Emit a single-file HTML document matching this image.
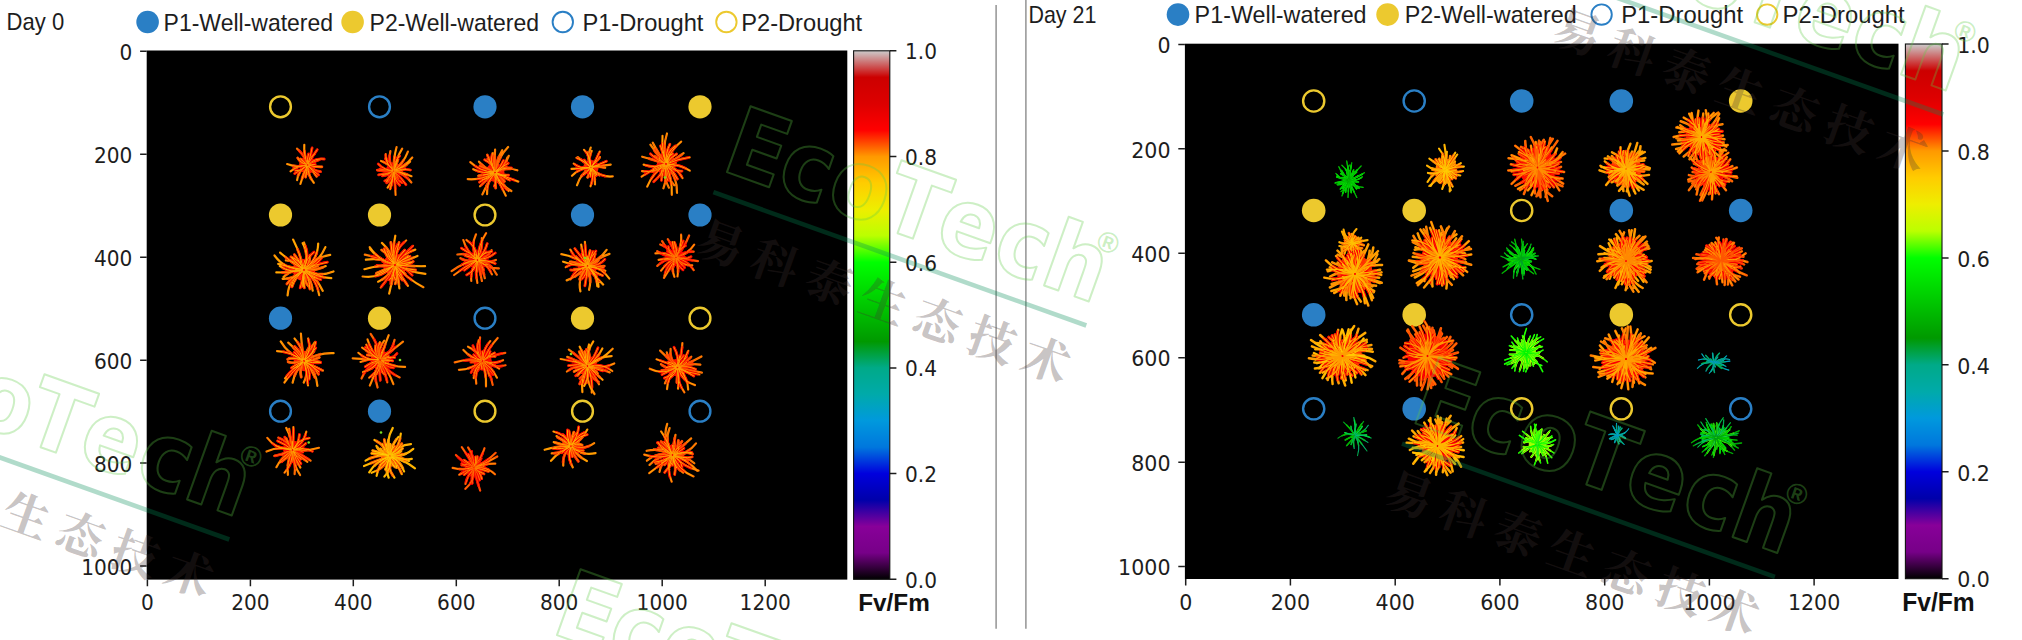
<!DOCTYPE html>
<html lang="en"><head><meta charset="utf-8"><title>Fv/Fm Day 0 vs Day 21</title>
<style>
html,body{margin:0;padding:0;background:#fff}
svg{display:block}
.tk{font-family:"DejaVu Sans","Liberation Sans",sans-serif;fill:#1d1d1d}
.lg{font-family:"Liberation Sans","DejaVu Sans",sans-serif;fill:#1d1d1d}
.fv{font-family:"Liberation Sans","DejaVu Sans",sans-serif;font-weight:bold;fill:#111}
.wm{font-family:"DejaVu Sans Condensed","DejaVu Sans","Liberation Sans",sans-serif;font-weight:bold;fill:none;stroke:#5ccc44;stroke-width:2;stroke-opacity:.31;stroke-linejoin:round}
.rg{font-family:"Liberation Sans","DejaVu Sans",sans-serif;font-weight:bold;fill:#5ccc44;fill-opacity:.33}
.zh{font-family:"Liberation Serif","Noto Serif CJK SC",serif;font-weight:700;fill:#423232;fill-opacity:.3}
.pl path{fill:none;stroke-linecap:round}
</style></head>
<body>
<svg width="2022" height="640" viewBox="0 0 2022 640">
<defs>
<linearGradient id="cb" x1="0" y1="1" x2="0" y2="0">
<stop offset="0%" stop-color="#000000"/><stop offset="5%" stop-color="#770088"/><stop offset="10%" stop-color="#880099"/><stop offset="15%" stop-color="#0000aa"/><stop offset="20%" stop-color="#0000dd"/><stop offset="25%" stop-color="#0077dd"/><stop offset="30%" stop-color="#0099dd"/><stop offset="35%" stop-color="#00aaaa"/><stop offset="40%" stop-color="#00aa88"/><stop offset="45%" stop-color="#009900"/><stop offset="50%" stop-color="#00bb00"/><stop offset="55%" stop-color="#00dd00"/><stop offset="60%" stop-color="#00ff00"/><stop offset="65%" stop-color="#bbff00"/><stop offset="70%" stop-color="#eeee00"/><stop offset="75%" stop-color="#ffcc00"/><stop offset="80%" stop-color="#ff9900"/><stop offset="85%" stop-color="#ff0000"/><stop offset="90%" stop-color="#dd0000"/><stop offset="95%" stop-color="#cc0000"/><stop offset="100%" stop-color="#cccccc"/>
</linearGradient>
<filter id="soft" x="-5%" y="-5%" width="110%" height="110%"><feGaussianBlur stdDeviation="0.6"/></filter>
</defs>
<rect width="2022" height="640" fill="#fff"/>
<path d="M996.1 5V628.7M1025.9 0V628.7" stroke="#8c8c8c" stroke-width="1.4" fill="none"/>
<g>
<rect x="146.7" y="50.5" width="700.6" height="529.1" fill="#000"/>
<path d="M147.4 579.6v6.6M250.4 579.6v6.6M353.3 579.6v6.6M456.3 579.6v6.6M559.2 579.6v6.6M662.2 579.6v6.6M765.2 579.6v6.6M146.7 51.3h-6.6M146.7 154.3h-6.6M146.7 257.2h-6.6M146.7 360.2h-6.6M146.7 463.1h-6.6M146.7 566.1h-6.6M889.8 50.8h6.6M889.8 156.5h6.6M889.8 262.2h6.6M889.8 367.9h6.6M889.8 473.6h6.6M889.8 579.3h6.6" stroke="#1d1d1d" stroke-width="1.5" fill="none"/>
<text class="tk" transform="translate(147.4 610) scale(0.94 1)" font-size="21.4" text-anchor="middle">0</text><text class="tk" transform="translate(250.4 610) scale(0.94 1)" font-size="21.4" text-anchor="middle">200</text><text class="tk" transform="translate(353.3 610) scale(0.94 1)" font-size="21.4" text-anchor="middle">400</text><text class="tk" transform="translate(456.3 610) scale(0.94 1)" font-size="21.4" text-anchor="middle">600</text><text class="tk" transform="translate(559.2 610) scale(0.94 1)" font-size="21.4" text-anchor="middle">800</text><text class="tk" transform="translate(662.2 610) scale(0.94 1)" font-size="21.4" text-anchor="middle">1000</text><text class="tk" transform="translate(765.2 610) scale(0.94 1)" font-size="21.4" text-anchor="middle">1200</text>
<text class="tk" transform="translate(132.3 59.8) scale(0.94 1)" font-size="21.4" text-anchor="end">0</text><text class="tk" transform="translate(132.3 162.8) scale(0.94 1)" font-size="21.4" text-anchor="end">200</text><text class="tk" transform="translate(132.3 265.7) scale(0.94 1)" font-size="21.4" text-anchor="end">400</text><text class="tk" transform="translate(132.3 368.7) scale(0.94 1)" font-size="21.4" text-anchor="end">600</text><text class="tk" transform="translate(132.3 471.7) scale(0.94 1)" font-size="21.4" text-anchor="end">800</text><text class="tk" transform="translate(132.3 574.6) scale(0.94 1)" font-size="21.4" text-anchor="end">1000</text>
<text class="tk" transform="translate(905 59.3) scale(0.94 1)" font-size="21.4">1.0</text><text class="tk" transform="translate(905 165) scale(0.94 1)" font-size="21.4">0.8</text><text class="tk" transform="translate(905 270.7) scale(0.94 1)" font-size="21.4">0.6</text><text class="tk" transform="translate(905 376.4) scale(0.94 1)" font-size="21.4">0.4</text><text class="tk" transform="translate(905 482.1) scale(0.94 1)" font-size="21.4">0.2</text><text class="tk" transform="translate(905 587.8) scale(0.94 1)" font-size="21.4">0.0</text>
<rect x="853.6" y="50.8" width="36.2" height="528.5" fill="url(#cb)" stroke="#111" stroke-width="1.1"/>
<g filter="url(#soft)"><circle cx="280.5" cy="106.8" r="10.4" fill="none" stroke="#ecc92f" stroke-width="2.4"/><circle cx="379.5" cy="106.8" r="10.4" fill="none" stroke="#2a7fc5" stroke-width="2.4"/><circle cx="485" cy="106.8" r="11.6" fill="#2a7fc5"/><circle cx="582.5" cy="106.8" r="11.6" fill="#2a7fc5"/><circle cx="700" cy="106.8" r="11.6" fill="#ecc92f"/><circle cx="280.5" cy="215" r="11.6" fill="#ecc92f"/><circle cx="379.5" cy="215" r="11.6" fill="#ecc92f"/><circle cx="485" cy="215" r="10.4" fill="none" stroke="#ecc92f" stroke-width="2.4"/><circle cx="582.5" cy="215" r="11.6" fill="#2a7fc5"/><circle cx="700" cy="215" r="11.6" fill="#2a7fc5"/><circle cx="280.5" cy="318.2" r="11.6" fill="#2a7fc5"/><circle cx="379.5" cy="318.2" r="11.6" fill="#ecc92f"/><circle cx="485" cy="318.2" r="10.4" fill="none" stroke="#2a7fc5" stroke-width="2.4"/><circle cx="582.5" cy="318.2" r="11.6" fill="#ecc92f"/><circle cx="700" cy="318.2" r="10.4" fill="none" stroke="#ecc92f" stroke-width="2.4"/><circle cx="280.5" cy="411.2" r="10.4" fill="none" stroke="#2a7fc5" stroke-width="2.4"/><circle cx="379.5" cy="411.2" r="11.6" fill="#2a7fc5"/><circle cx="485" cy="411.2" r="10.4" fill="none" stroke="#ecc92f" stroke-width="2.4"/><circle cx="582.5" cy="411.2" r="10.4" fill="none" stroke="#ecc92f" stroke-width="2.4"/><circle cx="700" cy="411.2" r="10.4" fill="none" stroke="#2a7fc5" stroke-width="2.4"/></g>
<g class="pl" filter="url(#soft)">
<ellipse cx="307.5" cy="165" rx="8.4" ry="8.8" fill="#ff1800" transform="rotate(0 307.5 165)"/><path id="p1a" d="M308.8 165.2Q314.6 167.2 321.9 166.9M308.3 166Q312.6 170.2 316.6 176.3M308 166.3Q307.5 175 313.8 182.8M307 166.3Q303.1 174.2 300.4 184M306.7 166.1Q298.3 169.9 297.1 180.2M306.3 165.5Q297.9 165.2 290.5 171.4M306.2 164.9Q297.2 168.1 287.1 164.1M306.4 164.2Q300.9 163.8 297.7 157.9M307.3 163.7Q303.7 155.3 304.3 144.8M307.3 166.4Q306.9 171.1 305.6 177.1M306.5 164.1Q304 162.1 300.7 159"/><path id="p1b" d="M306.8 163.9Q304.8 155.3 297 148.7M308.7 164.5Q313.2 161.8 319.4 159.7M308.7 165.6Q312.8 170.6 320.5 171.7M308.2 163.9Q308.5 157.8 314.7 153.8"/><path id="p1c" d="M308.5 165.9Q312.5 170.5 318.5 174.9M306.4 165.7Q301.5 169.8 294.7 173.5M307.9 163.7Q310.5 156.6 312.1 147.9M308.2 163.9Q311.9 157.1 317.2 149.7M308.7 164.6Q314.3 157.7 324.2 159M306.3 165.6Q302.9 170.8 295.5 170.7M306.2 165.2Q300.7 166.4 293.8 167.1M307.6 163.6Q306.7 159.4 308.5 154M308.8 164.9Q311.3 164.4 315.2 164.4"/><use href="#p1a" style="stroke:#ff7e00;stroke-width:2.2"/><use href="#p1b" style="stroke:#ff7100;stroke-width:2.2"/><use href="#p1c" style="stroke:#ff6300;stroke-width:2.2"/><use href="#p1a" style="stroke:#ff3b00;stroke-width:2.8;stroke-dasharray:13.4 99"/><use href="#p1b" style="stroke:#ff1300;stroke-width:2.8;stroke-dasharray:15.5 99"/><use href="#p1c" style="stroke:#fa0000;stroke-width:2.8;stroke-dasharray:17.7 99"/><use href="#p1a" style="stroke:#ffa600;stroke-width:1;stroke-dasharray:21.4 99"/><use href="#p1b" style="stroke:#ff6800;stroke-width:1;stroke-dasharray:23.6 99"/><use href="#p1c" style="stroke:#ff9500;stroke-width:1;stroke-dasharray:25.7 99"/>
<ellipse cx="393.7" cy="171" rx="7.8" ry="8.8" fill="#ff1200" transform="rotate(0 393.7 171)"/><path id="p2a" d="M394.9 171.3Q402.9 172.5 411.5 176.2M394.9 171.4Q400.5 171.3 406.1 175.3M393.4 172.3Q393 180.3 390.2 189.2M393.2 172.3Q393.5 180.4 387.6 187.7M393 172.1Q389.5 176 386.6 181.7M392.7 170.2Q389.2 163.7 381 161M393.9 169.6Q393.3 158.8 396.6 147M394.2 169.7Q395.8 159.1 402.2 148.7M394.5 169.9Q403.5 163.3 407.9 151.6M394.7 170.3Q404.8 166.7 412.3 157.5M394.8 170.4Q403.1 168.4 410.1 161.7M392.8 170Q392.9 167.4 389.4 166.2M394.2 169.7Q396.2 165.3 398 159.3M394.9 170.8Q399.9 172.1 405.4 168.9"/><path id="p2b" d="M394.8 171.7Q404.5 173.6 411.4 182.5M392.8 172Q391.4 177.9 384.8 180.9M392.6 171.5Q388.8 175.2 382.4 175.8M392.5 171.3Q386.5 174.2 378.7 174.8M392.5 170.8Q386.7 170.1 379.8 169.1M393 169.9Q392.6 162.8 385.4 158.8M393.5 169.7Q387.6 161.8 390.4 151.1M394.5 172.1Q394.7 179 401.9 182.6M394.4 172.1Q396.6 174.2 398.2 178.3M393 172.1Q392.7 178.4 386.7 182.8M392.5 170.9Q385.3 171.5 377.1 170.1M394.9 170.9Q398 171.7 401.9 170"/><path id="p2c" d="M394.6 172Q400.8 177 406 184.7M394.2 172.2Q393.9 179.3 399.7 185.3M393.8 172.4Q395.2 182.9 395.6 195M392.6 170.5Q384.5 170.5 378.2 163.9M393.1 169.8Q385.3 164.6 385.7 154M394.9 170.9Q401.9 167.7 410.4 170M393.5 172.3Q392.3 179.4 390.6 187.8M392.5 171.3Q388.2 174.8 381.6 174.3M393 169.8Q387.2 165.8 386 157.5M394.2 169.7Q393.4 162.2 399.6 156"/><use href="#p2a" style="stroke:#ff7c00;stroke-width:2.2"/><use href="#p2b" style="stroke:#ff6e00;stroke-width:2.2"/><use href="#p2c" style="stroke:#ff6000;stroke-width:2.2"/><use href="#p2a" style="stroke:#ff3700;stroke-width:2.8;stroke-dasharray:13 99"/><use href="#p2b" style="stroke:#ff0e00;stroke-width:2.8;stroke-dasharray:15 99"/><use href="#p2c" style="stroke:#f90000;stroke-width:2.8;stroke-dasharray:17.1 99"/><use href="#p2a" style="stroke:#ffa600;stroke-width:1;stroke-dasharray:20.7 99"/><use href="#p2b" style="stroke:#ff6500;stroke-width:1;stroke-dasharray:22.8 99"/><use href="#p2c" style="stroke:#ff9300;stroke-width:1;stroke-dasharray:24.9 99"/>
<ellipse cx="495" cy="172.5" rx="9.5" ry="9.5" fill="#ff1a00" transform="rotate(0 495 172.5)"/><path id="p3a" d="M496 173.6Q500.4 184.2 511.4 191M495.1 174Q494.9 180.3 495.7 188M494.3 173.8Q487.4 182.7 482.4 194.4M493.5 172.8Q486.8 174.7 478.3 175.8M493.8 171.7Q485.5 169.3 479 161.7M494.3 171.2Q492.7 165 487.9 158.7M495 171Q494.3 161.1 495.1 149.7M495.5 171.1Q496.1 160.5 502.2 150.2M495.7 171.2Q497.7 157.8 508.1 147M495.9 171.4Q504.6 167.8 507.5 157.4M496.5 172.4Q505.7 166.4 517.3 170.3M496.1 173.5Q500.8 175.8 504.4 181.4M495.6 173.8Q495.4 179.4 500.5 184.2M494.2 173.7Q492.6 175.9 490.3 179.5M493.5 172.5Q490.2 173.7 485.4 172.2M493.6 171.9Q487.5 169.1 480 166M495 171Q492.6 162.7 494.4 152.8M495.9 171.4Q505 166.7 508.7 155.8M496.3 171.8Q499.6 167.6 506.3 166.8"/><path id="p3b" d="M496.5 172.8Q501.4 175.6 508.5 175.1M496.3 173.2Q502.3 176.4 509.7 180.1M495.6 173.8Q500 184.3 505.8 195.7M494.9 174Q497.7 179.5 494.4 186.2M494.5 173.9Q486.1 181.6 487.1 194.2M493.9 173.5Q487.2 179.1 480 186.3M493.7 173.3Q487.1 177.1 479.5 182.2M493.6 172.9Q482.4 180.3 467.7 179.2M493.5 172.3Q483.6 174.3 473.2 169.2M494.1 171.3Q493 163.6 484.7 159.8M494.4 171.1Q491.2 163.5 487.2 154.7M494.8 171Q489.4 163.4 492.5 153.2M495.2 174Q493.6 176.4 496.1 179.8M493.7 173.2Q490 178.4 482.4 179.8M494.6 171.1Q493.1 167.7 491.9 162.7"/><path id="p3c" d="M496.4 173Q506.6 177.3 518.3 181.6M495.9 173.7Q499.5 183.4 508.6 191M493.6 171.9Q480.7 172 470.3 162.1M496.2 171.6Q501.2 167.3 508.2 163.2M496.4 172.1Q502.4 167.1 511.5 168M493.6 172.8Q489.2 174.1 483.2 175.1M495.9 171.3Q500.6 167.5 503.4 160.6M496.4 172.9Q499.9 176.8 506.2 175.4"/><use href="#p3a" style="stroke:#ff8800;stroke-width:2.2"/><use href="#p3b" style="stroke:#ff7900;stroke-width:2.2"/><use href="#p3c" style="stroke:#ff6b00;stroke-width:2.2"/><use href="#p3a" style="stroke:#ff4000;stroke-width:2.8;stroke-dasharray:14.8 99"/><use href="#p3b" style="stroke:#ff1500;stroke-width:2.8;stroke-dasharray:17.2 99"/><use href="#p3c" style="stroke:#fa0000;stroke-width:2.8;stroke-dasharray:19.6 99"/><use href="#p3a" style="stroke:#ff7000;stroke-width:1;stroke-dasharray:23.7 99"/><use href="#p3b" style="stroke:#ff9b00;stroke-width:1;stroke-dasharray:26.1 99"/><use href="#p3c" style="stroke:#ffab00;stroke-width:1;stroke-dasharray:28.5 99"/>
<ellipse cx="591" cy="167.5" rx="7.7" ry="7.5" fill="#ff2400" transform="rotate(0 591 167.5)"/><path id="p4a" d="M592.2 167.5Q598.1 165.8 605.2 167.7M591.9 168.3Q593.7 173.1 599.7 175.1M591.3 168.6Q595.3 175.4 595 184.4M590.6 168.6Q590.3 172.8 587.6 177.4M590.3 168.4Q580.5 173.7 577 185.3M590.1 166.8Q584.4 162.3 577.8 157.2M591 166.3Q586.3 157.6 590.7 147.6M591.8 166.6Q595.3 162.1 600 157.1M592.2 167.3Q600.8 165.8 610.7 164.6M589.8 167.7Q585.5 165.6 580.7 169M592.2 167.2Q594.9 165.1 599.5 165.4"/><path id="p4b" d="M591.6 168.5Q594 171.4 595.8 175.8M589.9 168Q579.7 167.7 572 175.8M589.8 167.6Q581.3 168.3 571.5 168.9M591.1 166.3Q587.7 159 591.7 150.9M590.2 166.6Q587.6 163.8 584.2 160.1M590.7 166.4Q589.4 159.7 587 152.2M592.2 167.3Q594.8 165.7 599.1 166.1"/><path id="p4c" d="M592.1 168Q599.6 177.6 612.8 176.4M591 168.7Q594.4 177 590.5 186.3M589.8 167.2Q581.4 169.9 573.7 163.6M590 166.8Q584.9 160.8 576.4 157.8M590.6 166.4Q591.3 157.1 584 149.8M591.6 166.5Q596.4 160.1 599.7 151.6M592.1 167.1Q598.8 164.7 606.4 161.3M591.7 168.4Q595 170.5 596.8 175.1M590.9 168.7Q590.8 172 590.3 176.5M590.7 168.6Q591.2 171.2 589.1 174.2M590.1 168.3Q587.9 171.9 583.3 174.7M591.8 166.6Q593.8 163.9 597 160.6"/><use href="#p4a" style="stroke:#ff9500;stroke-width:2.2"/><use href="#p4b" style="stroke:#ff8600;stroke-width:2.2"/><use href="#p4c" style="stroke:#ff7700;stroke-width:2.2"/><use href="#p4a" style="stroke:#ff4b00;stroke-width:2.8;stroke-dasharray:11.8 99"/><use href="#p4b" style="stroke:#ff1f00;stroke-width:2.8;stroke-dasharray:13.7 99"/><use href="#p4c" style="stroke:#fc0000;stroke-width:2.8;stroke-dasharray:15.6 99"/><use href="#p4a" style="stroke:#ff7c00;stroke-width:1;stroke-dasharray:18.9 99"/><use href="#p4b" style="stroke:#ffa000;stroke-width:1;stroke-dasharray:20.8 99"/><use href="#p4c" style="stroke:#ffb000;stroke-width:1;stroke-dasharray:22.7 99"/>
<ellipse cx="666" cy="164" rx="9.1" ry="12" fill="#ff1a00" transform="rotate(0 666 164)"/><path id="p5a" d="M666.6 165.7Q677.5 176.2 677 192.9M666.2 165.9Q662.6 176.4 668.9 187.7M665.8 165.9Q667.7 176.5 663.4 188.3M664.6 163.6Q654.3 159.7 642.2 156.7M665 162.7Q657.2 155.1 650.4 144.7M665.1 162.5Q658.2 154.1 652.8 142.7M666.1 162.1Q662.2 148.6 667 133.5M667.3 163.2Q675.6 159.8 683.6 153.2M666.6 165.7Q665.7 176.4 674.3 185.3M664.7 164.7Q660.8 170.7 652.4 171.5M664.7 163.1Q660.4 159.8 654.4 156.2M666.6 162.3Q670.1 159.8 669.3 154M667.4 163.8Q671 165.2 675.5 162.9"/><path id="p5b" d="M667.4 164.4Q678.9 163.8 689.8 170.6M667.2 165Q677 167.7 682.5 178M667 165.3Q673.1 170.4 677.4 179M666.3 165.8Q672.4 178.8 671.8 194.9M664.9 165.3Q653 172.4 647.2 186.7M664.6 164Q654.9 168.8 643.6 164.6M665.5 162.2Q663.3 154.9 660.6 145.9M665.8 162.1Q661.7 150.2 662.5 135.8M666.4 162.2Q665.1 153.6 669.9 144.2M666.8 162.4Q665.9 152.6 675.2 146M666.9 162.6Q670 150.4 681.2 141.6M667.2 162.9Q670.1 157.7 676.6 154M666.9 162.6Q666.6 157 672.7 153.7"/><path id="p5c" d="M667.4 164.6Q672.3 171.5 682 171.1M665.5 165.8Q662.2 171.8 661.4 180.4M665 165.4Q662.1 174.5 653.7 181.7M664.7 164.7Q652.9 168.6 641.6 176.7M664.6 164.4Q655.8 173.5 642 171.1M664.7 163.2Q657 160.6 650.4 153.8M667.4 163.6Q677.4 159.1 689.7 157.3M666.2 165.9Q664.1 172.5 667.8 180.5M665.3 165.6Q660.6 168.7 660.9 175.9M664.6 164.5Q658.8 163.9 653.1 168.4M664.9 162.9Q660.7 162.3 658.9 157M665.6 162.2Q665.6 158.5 663.5 153.3M667.4 164.3Q670.1 167.2 675.2 165.8M667.1 165.2Q667.5 168.4 671.7 170.5"/><use href="#p5a" style="stroke:#ff8800;stroke-width:2.2"/><use href="#p5b" style="stroke:#ff7900;stroke-width:2.2"/><use href="#p5c" style="stroke:#ff6b00;stroke-width:2.2"/><use href="#p5a" style="stroke:#ff4000;stroke-width:2.8;stroke-dasharray:16.5 99"/><use href="#p5b" style="stroke:#ff1500;stroke-width:2.8;stroke-dasharray:19.2 99"/><use href="#p5c" style="stroke:#fa0000;stroke-width:2.8;stroke-dasharray:21.8 99"/><use href="#p5a" style="stroke:#ff7000;stroke-width:1;stroke-dasharray:26.4 99"/><use href="#p5b" style="stroke:#ffab00;stroke-width:1;stroke-dasharray:29.1 99"/><use href="#p5c" style="stroke:#ff9b00;stroke-width:1;stroke-dasharray:31.7 99"/>
<ellipse cx="304" cy="270" rx="11.3" ry="11.1" fill="#ff2e00" transform="rotate(0 304 270)"/><path id="p6a" d="M305.8 270.1Q318.4 277.6 333.5 271.5M305.3 271.2Q309.9 275.4 315.8 280.9M305.2 271.3Q316.5 277.6 322.7 290.8M303.1 271.5Q288.8 278.2 287.6 295.4M302.4 270.7Q295.2 279 282.6 278.8M302.3 270.6Q292 268.4 283.5 277.1M304.7 268.4Q309.7 263.7 310.1 255.2M305.2 268.7Q318.7 262.3 325.4 247.1M305.5 269.1Q314.2 257.4 330.2 254.9M305.7 269.7Q315.4 271.1 325.7 266.1M305.5 270.9Q310.5 274.4 317.3 278.2M304.7 271.6Q311.1 279.2 312.7 290.7M304.5 271.7Q302.3 280 309.5 287.2M302.6 271.1Q297.1 272.9 292.4 278.9M302.4 269.2Q297.5 260.3 285.8 260.4M305.6 269.2Q308.6 266.4 314.1 264.6M305.7 269.5Q311.4 269 318 265.6"/><path id="p6b" d="M305.7 270.5Q316.7 277.3 331.3 278.1M304.5 271.7Q309.9 278.7 309.9 289.1M304 271.7Q303.2 278.9 304.3 287.8M304 271.7Q303 278.4 303.8 286.8M302.6 271.1Q293.7 274.9 286.9 284M302.2 270.1Q290.3 273 276.3 272.4M302.3 269.7Q291 274 279.9 266.1M302.3 269.6Q290.9 267.7 278.2 263.9M302.4 269.2Q285.5 270.4 274.5 255.5M302.6 269Q291.1 262.5 280.1 252.6M302.8 268.8Q300.5 260.4 290.9 256.9M303.1 268.5Q300.1 261.8 294.4 254.6M303.4 268.4Q300.5 254.1 293.1 239.6M303.9 268.3Q309.6 256.2 302.6 243.1M304.8 268.5Q317.7 260.3 318.2 243.5M303 271.4Q295.4 276.6 292 286.9M302.8 268.8Q297.5 264.2 291.7 257.7"/><path id="p6c" d="M305.5 270.9Q310.8 277.6 320.8 279.6M304.9 271.5Q317 279.3 319.2 295.2M303.6 271.7Q303.1 279.2 300.2 287.9M302.9 271.4Q293.7 275.1 291.3 286.3M304 268.3Q310.3 256.2 304 242.5M305.5 269Q314.7 267 321.4 258.2M305.7 269.4Q315.1 264.3 327.3 262.2M303.8 271.7Q301.6 278 302.3 286.4M302.3 270.4Q299.4 272.2 294.4 272M302.2 269.9Q299.5 270.9 295.2 269.3M303.4 268.4Q300.2 265.6 300 259.8M304.1 268.3Q302.7 265 304.8 260.2M304.9 268.5Q305.1 258.9 314 252.1M305.7 270.6Q312.5 271.6 320.2 275.4"/><use href="#p6a" style="stroke:#ff9c00;stroke-width:2.2"/><use href="#p6b" style="stroke:#ff9300;stroke-width:2.2"/><use href="#p6c" style="stroke:#ff8400;stroke-width:2.2"/><use href="#p6a" style="stroke:#ff5600;stroke-width:2.8;stroke-dasharray:17.5 99"/><use href="#p6b" style="stroke:#ff2900;stroke-width:2.8;stroke-dasharray:20.3 99"/><use href="#p6c" style="stroke:#fe0000;stroke-width:2.8;stroke-dasharray:23.1 99"/><use href="#p6a" style="stroke:#ff8900;stroke-width:1;stroke-dasharray:28 99"/><use href="#p6b" style="stroke:#ffb500;stroke-width:1;stroke-dasharray:30.8 99"/><use href="#p6c" style="stroke:#ffa400;stroke-width:1;stroke-dasharray:33.7 99"/>
<ellipse cx="395" cy="265" rx="11.9" ry="11.3" fill="#ff2400" transform="rotate(0 395 265)"/><path id="p7a" d="M396.9 265.1Q410 266.4 425.1 266.2M396.8 265.5Q409.4 272.1 425.4 273.8M395.3 266.7Q398.4 276.5 399.4 288.4M395 266.8Q399.1 274.3 395.3 283.8M394.7 266.7Q392.7 279.4 389.2 293.6M393.7 266.3Q389.6 276.5 378.1 281.7M393.3 265.7Q385.6 269.3 376.2 273.3M393.2 265.3Q379.4 264.8 364.4 269.2M393.2 264.7Q381.4 257.1 365.9 259.7M393.5 264Q379.7 261.3 370 248.8M393.8 263.7Q390.1 255.7 381.4 249.8M394.1 263.5Q391.6 252.1 381.9 242.9M396.7 264.3Q406.3 260.6 417.5 255.9M393.6 266.1Q390.1 267 386.9 271.2M396.5 264Q401.4 260.1 408.3 256"/><path id="p7b" d="M396.4 266.1Q407.2 278.7 423.4 287.2M395.9 266.5Q400.7 275.8 407.9 285.8M395.8 266.6Q396.5 273.6 402.3 280M394.4 266.7Q395.2 273.5 389.5 279.9M393.3 265.6Q381.7 278.9 362.6 276.5M393.5 263.9Q379 260.9 369.7 247.2M394.7 263.3Q391.5 253.8 390.8 242M395 263.2Q392 250.3 395.3 235.7M395.3 263.3Q395.7 253.3 399.1 242.2M396.4 263.9Q402.4 253.7 415.3 249.6M396.6 264.1Q401.8 259.5 410 256.3M396.8 264.6Q404.9 267.5 413.2 261.5M396.4 266.2Q400.1 269.4 405.2 273.7M395 266.8Q391.3 272.5 395.4 279.8M393.4 265.9Q385.7 270.6 375.8 275.3M394 263.5Q386.6 258.9 384.1 248.8M394.1 263.4Q389.9 258.6 387 250.9M396 263.5Q398 256.3 404.7 250.1M396.8 264.7Q403.3 263.7 411.6 262.1M396.8 265.4Q404.9 269.4 415.6 270"/><path id="p7c" d="M396.6 265.9Q405.4 266.9 412.1 275.1M394 266.5Q389.5 277.3 380.8 287.5M393.3 264.4Q380.6 257.8 364.8 254.7M395.7 263.4Q394.1 249.8 406.1 240.5M396.2 263.7Q403.5 254.9 413 245.8M395.9 266.6Q401.5 269.7 402 277.8M394.6 266.7Q391 274.1 390.8 284M393.1 265Q386 267.5 376.9 265.3M393.2 264.5Q388.7 263.9 382.8 261.5M395.2 263.2Q391.7 254.2 397.4 244.5"/><use href="#p7a" style="stroke:#ff9500;stroke-width:2.2"/><use href="#p7b" style="stroke:#ff8600;stroke-width:2.2"/><use href="#p7c" style="stroke:#ff7700;stroke-width:2.2"/><use href="#p7a" style="stroke:#ff4b00;stroke-width:2.8;stroke-dasharray:18.1 99"/><use href="#p7b" style="stroke:#ff1f00;stroke-width:2.8;stroke-dasharray:21 99"/><use href="#p7c" style="stroke:#fc0000;stroke-width:2.8;stroke-dasharray:23.9 99"/><use href="#p7a" style="stroke:#ffa000;stroke-width:1;stroke-dasharray:29 99"/><use href="#p7b" style="stroke:#ffb000;stroke-width:1;stroke-dasharray:31.9 99"/><use href="#p7c" style="stroke:#ff7c00;stroke-width:1;stroke-dasharray:34.7 99"/>
<ellipse cx="477.5" cy="260" rx="9.3" ry="9.3" fill="#ff0b00" transform="rotate(0 477.5 260)"/><path id="p8a" d="M478.9 260.5Q486.3 268.8 498.8 268.4M478.7 260.9Q490.9 262.5 496.8 274.7M478 261.3Q483.2 268.3 484.8 278.2M477.8 261.4Q480 270.4 481.9 281M476.2 260.6Q463.1 262.3 451.6 271.2M476.1 260.3Q471.9 264.4 465 262.8M476.1 259.8Q468.5 263.2 460.4 258.2M476.1 259.6Q468.8 252.4 457.4 254.5M479 260Q486.8 264.3 495.9 259.9M476.6 258.9Q474.1 258.3 473 254.6M478.7 259.2Q487 258.5 491.6 250.1"/><path id="p8b" d="M478.5 261Q487.8 264.1 491.9 274.4M477.5 261.5Q474.8 271.5 477.4 283M477.1 261.4Q470.1 269.2 471.3 281M476.7 258.8Q466.8 252.6 463.3 240M477.4 258.5Q469.8 247.6 476 234.3M477.8 258.6Q482.5 249.7 481.8 238.2M478.2 261.2Q482.3 264 483.6 270.2"/><path id="p8c" d="M478.9 260.3Q486.8 259.7 495.2 263.5M476.6 261.2Q476.1 270.4 466.7 274.9M476.3 260.8Q465 266.3 454.1 275M476.3 259.1Q470.4 252.8 461.4 248.2M476.8 258.7Q477.4 247 466.4 240M477.9 258.6Q478.2 245.4 486.1 233.1M478.2 258.7Q484.6 253.1 487.2 243.6M478.7 259.3Q482.5 252.2 491.8 251.5M478.9 259.5Q487.5 259.3 495.2 253M478.8 260.6Q481.6 264.8 487.9 265M477.4 261.5Q476.4 265.8 476.9 271.8M476.3 260.9Q471.1 265.3 464.4 270.1M476.1 260.4Q469.4 260.3 462.4 264.4M476.1 259.5Q471.5 257.2 465.1 255.6M476.8 258.7Q474.2 257.5 474.2 253.4M477.8 258.6Q476.6 256.3 479 253.3M478.5 259Q481.9 256 486 251.8M479 260Q481.4 262 485.3 260"/><use href="#p8a" style="stroke:#ff7000;stroke-width:2.2"/><use href="#p8b" style="stroke:#ff6300;stroke-width:2.2"/><use href="#p8c" style="stroke:#ff5600;stroke-width:2.2"/><use href="#p8a" style="stroke:#ff2e00;stroke-width:2.8;stroke-dasharray:14.5 99"/><use href="#p8b" style="stroke:#ff0600;stroke-width:2.8;stroke-dasharray:16.9 99"/><use href="#p8c" style="stroke:#f80000;stroke-width:2.8;stroke-dasharray:19.2 99"/><use href="#p8a" style="stroke:#ff5a00;stroke-width:1;stroke-dasharray:23.3 99"/><use href="#p8b" style="stroke:#ff8600;stroke-width:1;stroke-dasharray:25.6 99"/><use href="#p8c" style="stroke:#ffa100;stroke-width:1;stroke-dasharray:27.9 99"/>
<ellipse cx="587.5" cy="266" rx="9.7" ry="9.5" fill="#ff2400" transform="rotate(0 587.5 266)"/><path id="p9a" d="M589 266.4Q596.6 267.7 605.3 270.8M587.6 267.5Q592 277.7 589.1 289.8M587.1 267.4Q577.3 276.8 580.4 291.3M586.7 267.3Q582.2 271.8 579.7 279.2M586.3 266.9Q578.8 275.7 566.7 280.4M588.6 265Q599 260.3 606.6 249.8M588.8 265.3Q597.5 258.1 609.5 253.9M589 266Q596 267.5 604.5 266M587.6 267.5Q588.2 270.9 588.2 275.9M586 265.6Q578.9 263.1 570 261.7M588.6 264.9Q592.5 264.1 594.3 259.1M588.8 265.3Q593.7 264.9 598.3 260.5"/><path id="p9b" d="M588.8 266.7Q601.5 266.8 609.3 278.5M588.5 267.1Q594.3 276.2 603.2 284.6M588.2 267.3Q598.4 273.5 598.6 286.8M588.1 267.3Q596.9 274 597.3 286.3M586 265.7Q575 265.8 563.1 261.7M586.1 265.4Q576 256.5 561.3 254.1M586.3 265.1Q580.2 263.5 575.7 257.2M587.1 264.6Q582.6 255.8 581.2 244.5M587.8 264.5Q588.3 258.2 590.1 250.5M588.8 266.8Q593.8 272.6 602.5 275.5M588.4 267.2Q591.8 269.8 593.9 275.2"/><path id="p9c" d="M589 266.2Q595.2 269.4 603.4 267.7M587.3 267.5Q586.9 276 584.9 285.9M586.3 266.9Q575.7 268.5 570.6 279.4M586 266.3Q579.8 271.1 570.7 270M586 266.1Q576.3 260.7 565.7 267.1M586.4 265Q575.9 260.9 570.3 249.6M586.6 264.8Q581.4 257 574.7 248.4M587.3 264.5Q585.5 254 584.9 241.9M588 264.6Q589.9 258.7 592.9 251.6M588.2 264.7Q590.1 257.6 595.9 251M588.9 265.5Q597.9 267.2 604.8 259.3M586.9 267.4Q587.3 273.6 581.9 279M586.3 266.9Q584.2 266.8 582.3 269.6M586 266.4Q581.3 269.6 574 269.2M586.3 265Q580.8 262.4 576.1 256.5M586.9 264.6Q584.1 260.1 582.1 253.7M587.5 264.5Q587.3 261.2 587.6 256.3M588.3 264.7Q593.9 261.5 595.3 253.8M589 266.3Q592.1 267.1 596.7 267.7"/><use href="#p9a" style="stroke:#ff9500;stroke-width:2.2"/><use href="#p9b" style="stroke:#ff8600;stroke-width:2.2"/><use href="#p9c" style="stroke:#ff7700;stroke-width:2.2"/><use href="#p9a" style="stroke:#ff4b00;stroke-width:2.8;stroke-dasharray:15 99"/><use href="#p9b" style="stroke:#ff1f00;stroke-width:2.8;stroke-dasharray:17.4 99"/><use href="#p9c" style="stroke:#fc0000;stroke-width:2.8;stroke-dasharray:19.8 99"/><use href="#p9a" style="stroke:#ff7c00;stroke-width:1;stroke-dasharray:23.9 99"/><use href="#p9b" style="stroke:#ffb000;stroke-width:1;stroke-dasharray:26.3 99"/><use href="#p9c" style="stroke:#ffa000;stroke-width:1;stroke-dasharray:28.7 99"/>
<ellipse cx="676" cy="257.5" rx="8.8" ry="8.6" fill="#ff0100" transform="rotate(0 676 257.5)"/><path id="p10a" d="M677.2 258.1Q682 265.8 692.3 265.3M676.1 258.8Q679.2 266.8 677.5 276.5M675.9 258.8Q670.4 266.8 674.4 276.8M675.3 258.7Q670.4 268 664 277.9M675 258.4Q666.9 262.3 661.1 270.7M674.6 257.7Q667.2 258.2 658.6 259.9M674.7 257.2Q666.3 252.2 655.4 253.3M675.7 256.2Q673.2 250 672.4 242M676.3 256.2Q682.1 246.9 681.1 234.7M677.1 256.7Q687.6 254.6 694.2 244.6M675.9 256.2Q677.8 249.5 674.4 242.1"/><path id="p10b" d="M677.3 257.7Q686.9 259.6 697.9 261.1M676.9 258.5Q681.5 261.5 684.5 267.6M674.8 258.1Q665.2 258.4 657.3 265.9M674.7 257.1Q665.7 256.9 657.2 251.2M675 256.6Q670.3 248.4 660.3 244.5M675.1 256.5Q667.4 250.7 662.1 241.1M675.5 256.3Q673.5 247.6 667.8 239.2M676.7 256.3Q684.4 247.6 689.1 235.5M677.3 257.1Q683.8 251.2 693.7 251.7M675.6 258.8Q676.4 263.2 672.7 267.5M675.3 258.7Q675.6 262.2 671.7 264.8M677.2 256.9Q679.6 256.6 682.7 254.5M677.4 257.7Q682.7 256.2 688.9 259.1"/><path id="p10c" d="M677.1 258.3Q687.5 260.1 693.7 270.1M676.7 258.7Q676.7 265.2 683 269.8M675.3 258.6Q667 264.7 664.3 275.9M676.5 256.3Q680.3 249.6 683.2 241M677.4 257.4Q683.7 260.3 691 256.7M676.8 258.6Q678.9 261.6 682.3 265.4M676.3 258.8Q677 262.9 678.3 268.3M674.7 257.7Q670.6 260.6 664.4 259.5M674.7 257.1Q671.7 256.2 667.5 254.7M674.9 256.7Q671.5 254.6 667.5 251.1M675.2 256.4Q669.3 254.1 668.3 246.6M676.8 256.4Q677.7 249.2 685.4 245.8"/><use href="#p10a" style="stroke:#ff6300;stroke-width:2.2"/><use href="#p10b" style="stroke:#ff5600;stroke-width:2.2"/><use href="#p10c" style="stroke:#ff4900;stroke-width:2.2"/><use href="#p10a" style="stroke:#ff2300;stroke-width:2.8;stroke-dasharray:13.5 99"/><use href="#p10b" style="stroke:#fe0000;stroke-width:2.8;stroke-dasharray:15.7 99"/><use href="#p10c" style="stroke:#f60000;stroke-width:2.8;stroke-dasharray:17.9 99"/><use href="#p10a" style="stroke:#ff9c00;stroke-width:1;stroke-dasharray:21.7 99"/><use href="#p10b" style="stroke:#ff4e00;stroke-width:1;stroke-dasharray:23.8 99"/><use href="#p10c" style="stroke:#ff7900;stroke-width:1;stroke-dasharray:26 99"/>
<ellipse cx="304" cy="361" rx="10.4" ry="10.2" fill="#ff2400" transform="rotate(0 304 361)"/><path id="p11a" d="M304.8 362.4Q316.3 370.3 317.4 385.8M304 362.6Q309.7 371.9 303.7 382.6M303.3 362.4Q295.1 370.2 292.6 382.7M302.4 361.1Q296.2 364.3 288.1 362M302.4 360.8Q296.3 356.2 287.7 359.2M302.8 360Q288.9 355.2 280.7 341.4M303 359.8Q297.5 350.6 288.2 342.7M303.8 359.4Q301.6 347.3 300.9 333.5M304.8 359.6Q308.6 351 315 342M305.2 359.9Q310 357.1 314 351.3M305.6 360.6Q317.6 352.5 333.6 353.1M305.6 360.6Q312.1 361.1 319.3 357.5M303.7 362.6Q299.2 368.5 301.2 377.1M304.6 359.5Q305.2 353 309.8 346.4"/><path id="p11b" d="M305.6 361.1Q312.3 359.6 320.3 362.1M305.4 361.7Q313.4 365.9 322.9 370.6M305.2 362.1Q313.4 365.3 318.5 374.3M304.9 362.3Q311.1 368.1 314.9 377.5M303.4 359.5Q303.3 348.1 294.5 338.5M302.7 361.9Q299.9 366.8 293 368.5M302.4 360.7Q296.9 357.7 289 358.1M303.1 359.6Q301.6 352.3 294.7 346.5"/><path id="p11c" d="M304.3 362.6Q307.2 373 308 385.5M302.9 362.2Q292.9 370.6 284.4 382.5M302.8 362.1Q292.7 367.7 285 378.3M302.6 361.8Q297.2 363.5 291.4 367.8M302.5 360.4Q292.1 351.8 277 351.1M304.3 359.4Q312.2 350.9 308.1 338.5M304.8 359.6Q313.9 354.1 315.6 342.2M305.3 361.9Q312.2 365.3 318.8 371.7M304.4 362.5Q310.7 368.8 309.2 379.1M302.9 362.1Q301.3 362.9 299.5 365.6M302.8 359.9Q298.5 357.3 294.3 352.1M305.1 359.8Q310.6 355.1 315.8 348M305.6 360.6Q308.1 361.4 311.4 359M305.6 361.2Q312.2 363.5 320.7 362.7"/><use href="#p11a" style="stroke:#ff9500;stroke-width:2.2"/><use href="#p11b" style="stroke:#ff8600;stroke-width:2.2"/><use href="#p11c" style="stroke:#ff7700;stroke-width:2.2"/><use href="#p11a" style="stroke:#ff4b00;stroke-width:2.8;stroke-dasharray:16.1 99"/><use href="#p11b" style="stroke:#ff1f00;stroke-width:2.8;stroke-dasharray:18.7 99"/><use href="#p11c" style="stroke:#fc0000;stroke-width:2.8;stroke-dasharray:21.3 99"/><use href="#p11a" style="stroke:#ff7c00;stroke-width:1;stroke-dasharray:25.8 99"/><use href="#p11b" style="stroke:#ffa000;stroke-width:1;stroke-dasharray:28.3 99"/><use href="#p11c" style="stroke:#ffb000;stroke-width:1;stroke-dasharray:30.9 99"/>
<ellipse cx="380" cy="360" rx="9.7" ry="10" fill="#ff1200" transform="rotate(0 380 360)"/><path id="p12a" d="M381.5 360.4Q391.6 367.1 405.1 366.9M380.7 361.4Q388.7 371 393.4 384.2M379.4 361.4Q375.4 373 369.8 385.6M378.8 360.9Q373.5 368.9 363 372.1M378.5 360.1Q370 358 360.5 361.9M378.5 359.9Q366.4 359.3 352.7 358.4M378.7 359.1Q371.2 353.7 362.1 347.7M380 358.4Q375.4 351.1 379.9 342.2M380.3 358.5Q377.1 349.2 384.2 340.6M380.5 358.5Q383.8 347.4 388.7 335.2M381.2 359Q391.6 350.9 403 341.7M380.5 361.5Q378.7 369.5 385.9 375.8M378.6 359.4Q374.5 355.2 367.2 355M379.6 358.5Q374 353.8 375.7 345.3M381.4 359.4Q383.9 357.2 388.5 356.4M381.5 360.1Q384.6 360.2 389.3 360.7"/><path id="p12b" d="M381.5 360.1Q386.5 358.8 392.7 360.8M379.2 361.3Q378.8 371.4 369.2 377.6M378.6 360.6Q371.9 361.7 365.3 366.6M378.6 359.5Q367.5 361.4 358.3 352.8M379.2 358.7Q371 351.4 367.5 339.4M381.5 359.7Q387 356.7 394.7 357.3M381.4 360.6Q383.5 364.1 388.9 364.2M379.5 361.5Q381 369.3 374.9 376.4M378.9 361.1Q376.6 364.6 372.1 368.1M379 358.9Q370.1 355.1 366.3 344.7M380.5 358.5Q379.9 353.1 384.2 347.6M381.2 359Q383.7 354.6 389.6 351.6"/><path id="p12c" d="M381.3 360.8Q385 366.8 393.4 367.8M381.1 361Q387 371.9 399.7 377.4M380.5 361.5Q385.1 370.7 387.3 382.3M380 361.6Q379 370.2 380.3 380.3M379.9 361.6Q372.4 373.2 377.6 387.5M378.9 361.1Q366.9 365.3 361.5 378.5M378.8 359Q375.3 350.7 365.4 347.4M379.5 358.5Q379.2 345.6 370.7 334M380.9 358.7Q392 353.3 394.6 339.8M381.2 359Q388.1 354.1 395.3 347.1M381.4 359.5Q390.1 361.2 397 353.6M380.3 361.5Q382.6 364.4 382.1 369.4M378.6 360.6Q376.4 364.5 370.7 364M379.9 358.4Q379.4 353.3 379.1 346.7"/><use href="#p12a" style="stroke:#ff7c00;stroke-width:2.2"/><use href="#p12b" style="stroke:#ff6e00;stroke-width:2.2"/><use href="#p12c" style="stroke:#ff6000;stroke-width:2.2"/><use href="#p12a" style="stroke:#ff3700;stroke-width:2.8;stroke-dasharray:15.4 99"/><use href="#p12b" style="stroke:#ff0e00;stroke-width:2.8;stroke-dasharray:17.9 99"/><use href="#p12c" style="stroke:#f90000;stroke-width:2.8;stroke-dasharray:20.3 99"/><use href="#p12a" style="stroke:#ff9300;stroke-width:1;stroke-dasharray:24.6 99"/><use href="#p12b" style="stroke:#ffa600;stroke-width:1;stroke-dasharray:27.1 99"/><use href="#p12c" style="stroke:#ff6500;stroke-width:1;stroke-dasharray:29.5 99"/>
<ellipse cx="482.5" cy="361" rx="9.3" ry="9.5" fill="#ff0b00" transform="rotate(0 482.5 361)"/><path id="p13a" d="M483.8 361.6Q491.9 362.6 499.2 368.6M483.5 362.1Q491.9 367.5 497 377.7M483.1 362.3Q487.7 367.6 489.5 375.8M482.7 362.5Q486.5 373.4 486 386.5M481.8 362.3Q474.2 367.6 473.7 378.1M481.1 361.5Q472.2 369.4 458.9 369.8M481.2 360.3Q471.2 358.6 463.4 349.9M481.5 360Q477.9 351.1 468 346.7M483.7 360.2Q487.9 356 494.5 353M482.4 362.5Q480.8 364.8 481.9 368.8M481.7 359.7Q477.7 357.4 476.8 351.5M483.9 360.5Q487.6 355.4 495.1 356.3"/><path id="p13b" d="M482.1 362.4Q473.9 370.9 476.3 383.7M481 361.1Q468.4 358.2 454.7 362.4M482.2 359.5Q475.1 351.6 478.7 340.2M483 359.6Q482.7 349.6 490.3 341.1M483.3 359.8Q488.3 348.3 497.7 338M484 360.9Q493 365.1 503.1 360.2M481.1 361.1Q476.7 361.9 470.9 362.1M481.3 360.1Q476.8 359.7 473.8 354.8M482.5 359.5Q483.3 356.3 482.5 351.6M483.4 359.9Q488.6 358.1 490.1 351.5M483.9 361.4Q487.4 361.5 491.8 363.6"/><path id="p13c" d="M483.9 361.3Q493 368.5 505.6 365.3M483.1 362.4Q490.3 371.8 492.7 384.9M481.5 362Q474.6 364.6 471.1 372.5M481 360.9Q474.1 359 465.6 360.1M481.7 359.7Q475.9 354.5 472.9 345.7M482.3 359.5Q478 349.5 480.1 337.4M483.9 360.5Q493.1 354.7 505.3 352.8M483.4 362.2Q487.7 367.9 493.1 374.6M482.7 362.5Q485 365 483.7 369.4M481.7 362.3Q480.1 369.2 473.9 375.2"/><use href="#p13a" style="stroke:#ff7000;stroke-width:2.2"/><use href="#p13b" style="stroke:#ff6300;stroke-width:2.2"/><use href="#p13c" style="stroke:#ff5600;stroke-width:2.2"/><use href="#p13a" style="stroke:#ff2e00;stroke-width:2.8;stroke-dasharray:14.7 99"/><use href="#p13b" style="stroke:#ff0600;stroke-width:2.8;stroke-dasharray:17 99"/><use href="#p13c" style="stroke:#f80000;stroke-width:2.8;stroke-dasharray:19.4 99"/><use href="#p13a" style="stroke:#ffa100;stroke-width:1;stroke-dasharray:23.5 99"/><use href="#p13b" style="stroke:#ff8600;stroke-width:1;stroke-dasharray:25.8 99"/><use href="#p13c" style="stroke:#ff5a00;stroke-width:1;stroke-dasharray:28.2 99"/>
<ellipse cx="587.5" cy="366" rx="9.7" ry="10.2" fill="#ff1f00" transform="rotate(0 587.5 366)"/><path id="p14a" d="M588.7 366.9Q594.2 367.6 597.6 373.6M588.6 367Q595 372.9 602.6 379.8M587.9 367.5Q585.1 381.5 594.5 394M587.2 367.6Q580.5 378.2 582.4 392.1M586.1 366.6Q580.5 368.1 574.1 371.5M586.7 364.7Q582.6 360.4 579.9 353.4M586.9 364.5Q584.5 355.9 579.6 346.6M587.6 364.4Q585.7 355.1 589 344.5M587.9 364.5Q585.8 352.5 593.3 341.3M588.5 364.8Q597.2 359.1 602.4 348.4M588.8 365.1Q601.8 359.8 612.7 348.7M588.9 365.4Q597.6 356.3 611.7 356.1M587.2 367.6Q589.9 376.6 584.2 385.9M586.4 367.1Q582 370 577.7 375.4M586.1 365.5Q580.8 362.3 573.3 360.9M586.7 364.6Q582.9 359.1 579.2 351.7M587.2 364.4Q585.2 358.9 584.9 351.4M587.6 364.4Q590.8 358.9 588.6 351.5M588.8 365.1Q593.5 364.9 596.7 359.6"/><path id="p14b" d="M589 366.4Q599.2 367.4 609.8 372.4M588.3 367.3Q594.3 374.5 599 384.3M586.9 367.4Q583.3 374.9 579.6 384.1M586.7 367.3Q586.3 373.8 579.8 378.4M586 366.4Q576.1 364.4 566.9 371.5M586.1 365.4Q577.6 360.9 567.2 356.9M586.3 365Q579.1 356.7 568.8 349.7M587.4 364.4Q591 357.4 586.3 349.4M588.4 367.3Q588.8 377 598.7 381.9M586 366.2Q581.2 365.4 575.4 367.8"/><path id="p14c" d="M589 366.3Q601.2 362.4 612.3 371M587.8 367.6Q593.1 378.8 591.7 392.6M586.3 367Q581.1 370.3 575.7 375.8M586 366Q578.1 363.4 568.5 365.6M586 365.6Q574.5 360.9 560.6 359M588.3 364.6Q594.3 357.8 598 347.8M589 365.9Q601.4 369.5 614.3 363.5M587.1 367.5Q585.2 374.5 582.9 383M588.8 365.2Q592.7 360.7 599.7 358M588.9 366.5Q595.1 368.6 602.8 370.8M588.6 367.1Q593.9 368.1 596.1 374.5"/><use href="#p14a" style="stroke:#ff8a00;stroke-width:2.2"/><use href="#p14b" style="stroke:#ff7c00;stroke-width:2.2"/><use href="#p14c" style="stroke:#ff6e00;stroke-width:2.2"/><use href="#p14a" style="stroke:#ff4400;stroke-width:2.8;stroke-dasharray:15.5 99"/><use href="#p14b" style="stroke:#ff1a00;stroke-width:2.8;stroke-dasharray:18 99"/><use href="#p14c" style="stroke:#fc0000;stroke-width:2.8;stroke-dasharray:20.5 99"/><use href="#p14a" style="stroke:#ffab00;stroke-width:1;stroke-dasharray:24.9 99"/><use href="#p14b" style="stroke:#ff7300;stroke-width:1;stroke-dasharray:27.3 99"/><use href="#p14c" style="stroke:#ff9c00;stroke-width:1;stroke-dasharray:29.8 99"/>
<ellipse cx="677.5" cy="367.5" rx="10.2" ry="8.8" fill="#ff1200" transform="rotate(0 677.5 367.5)"/><path id="p15a" d="M679.1 367.8Q689.6 370.4 701.9 372.6M676.6 368.6Q668.4 373.2 664.9 383.4M675.9 367.8Q669.7 369.8 661.6 370.5M675.9 367.2Q668.3 370.3 660.9 364.2M676.4 366.5Q668.9 358.9 660.1 350.6M676.7 366.3Q669 362.2 666.8 352.4M677 366.2Q669.2 360 670.6 348.9M678.7 366.6Q685.2 363 691.3 356.7M678.9 366.9Q690 363.1 701.5 356.5M679.1 367.3Q688.6 362.9 700.4 364.7M677.4 368.9Q677.2 375 676.9 382.5M676.1 368.1Q670.9 367.5 666.1 372.1"/><path id="p15b" d="M678.9 368.2Q686.1 371 693.9 376M678.5 368.5Q681.5 381.1 695 385.1M678.1 368.8Q687.8 376.2 688.2 389.6M677.5 368.9Q680.1 378 678 388.7M676.9 368.8Q667.6 376.1 667 389.1M675.9 367.6Q663.9 375.7 649.7 368.7M676 366.9Q667.3 362.8 656.5 359.3M678.3 366.3Q684.9 360.5 688.3 350.9M678.4 368.7Q683.6 370.4 684.6 377.1M676.7 368.7Q675.6 373.6 670.7 377.5M675.9 367.5Q671.6 364.7 666 367.8M676.2 366.7Q674 362.9 668.3 362M676.8 366.3Q677 364.1 674.4 361.9M677.8 366.2Q677.6 361.5 679.8 356M679.1 367.6Q686.9 365 695.6 369.2M678.9 368.2Q683.6 371.1 690.2 373.6"/><path id="p15c" d="M679 368Q687.9 372.8 699.4 374.5M677.9 368.8Q676.5 381.2 684.4 392.4M676.3 368.4Q672.7 375.1 664.3 378.1M676.1 368.1Q669.5 370.4 662 374.5M677.3 366.1Q679.4 356.8 674 347.3M677.8 366.2Q682 355.6 682.4 343M678.4 366.4Q682.9 362.8 686.8 356.7M678.1 366.2Q678.3 360.4 683.7 355.6M678.8 366.8Q683 366.4 686.8 362.3"/><use href="#p15a" style="stroke:#ff7c00;stroke-width:2.2"/><use href="#p15b" style="stroke:#ff6e00;stroke-width:2.2"/><use href="#p15c" style="stroke:#ff6000;stroke-width:2.2"/><use href="#p15a" style="stroke:#ff3700;stroke-width:2.8;stroke-dasharray:14.8 99"/><use href="#p15b" style="stroke:#ff0e00;stroke-width:2.8;stroke-dasharray:17.2 99"/><use href="#p15c" style="stroke:#f90000;stroke-width:2.8;stroke-dasharray:19.6 99"/><use href="#p15a" style="stroke:#ff6500;stroke-width:1;stroke-dasharray:23.7 99"/><use href="#p15b" style="stroke:#ffa600;stroke-width:1;stroke-dasharray:26.1 99"/><use href="#p15c" style="stroke:#ff9300;stroke-width:1;stroke-dasharray:28.5 99"/>
<ellipse cx="292.5" cy="450" rx="9.3" ry="9.5" fill="#ff1800" transform="rotate(0 292.5 450)"/><path id="p16a" d="M293.6 450.9Q299.9 456 307.4 461.9M292.9 451.4Q292.7 463.6 300.1 475M292.2 451.5Q286.4 461.7 287.9 474.9M291.5 451.1Q282 456.3 276.4 467.2M291.5 451Q288.1 458.1 280 462.4M291 450.1Q279.2 445.6 266.5 451.6M292.1 448.6Q291.9 438.2 286.2 427.9M293.9 449.9Q306 451.6 319 447.8M293.5 451.1Q295.4 455.6 300.8 459M293.1 451.3Q295.3 459.3 300.4 467.6M291.2 450.6Q286.8 451.1 282 454.3M291.8 448.7Q288.4 444.8 286.2 438.5M293.4 448.8Q296.9 446.1 299.4 440.9M293.9 449.8Q298.1 451.4 302.9 448.3"/><path id="p16b" d="M293.8 450.7Q301.9 454.7 310.6 460.7M292.6 451.5Q296.1 461.9 294.6 474.2M291.1 450.5Q283.9 454.4 274.3 455.9M291.4 449Q287.8 441.1 278.3 437.7M291.7 448.7Q287.2 444.4 284.8 437.1M292.3 448.5Q290.1 439.6 289.2 428.9M292.5 451.5Q292.9 456 292.2 461.9M291.5 451.1Q286.2 455.1 281.6 461.7M293.9 450.3Q298.1 448.8 302.9 452"/><path id="p16c" d="M294 450.1Q302.7 446.6 312.4 451.2M293.3 451.3Q296.6 456.9 300.9 463.7M292 451.4Q293.4 463.1 284.5 472.7M291.1 449.6Q283.6 449.1 275.4 445.6M291.2 449.4Q276.7 450.5 267.3 437.8M292.6 448.5Q293.6 438.5 293.4 427M293.1 448.7Q298.9 443.6 299.4 434.5M293.4 448.8Q303.7 444.1 306.3 431.7M293.7 449.2Q297.7 439.3 309.5 438M293.8 449.4Q300.4 449.3 305.7 443.5M291.1 449.8Q286.4 446.8 279.6 448.2M291.3 449.2Q285.7 444.3 277.6 440.9M292.5 448.5Q293.4 445.6 292.3 441.3"/><use href="#p16a" style="stroke:#ff7e00;stroke-width:2.2"/><use href="#p16b" style="stroke:#ff7100;stroke-width:2.2"/><use href="#p16c" style="stroke:#ff6300;stroke-width:2.2"/><use href="#p16a" style="stroke:#ff3b00;stroke-width:2.8;stroke-dasharray:14.7 99"/><use href="#p16b" style="stroke:#ff1300;stroke-width:2.8;stroke-dasharray:17 99"/><use href="#p16c" style="stroke:#fa0000;stroke-width:2.8;stroke-dasharray:19.4 99"/><use href="#p16a" style="stroke:#ff9500;stroke-width:1;stroke-dasharray:23.5 99"/><use href="#p16b" style="stroke:#ff6800;stroke-width:1;stroke-dasharray:25.8 99"/><use href="#p16c" style="stroke:#ffa600;stroke-width:1;stroke-dasharray:28.2 99"/>
<ellipse cx="390" cy="456" rx="9.3" ry="9.3" fill="#ff8000" transform="rotate(0 390 456)"/><path id="p17a" d="M391.4 456.2Q400.5 460.7 411.8 458.9M391.4 456.4Q399.9 457 409.1 460.9M391.3 456.6Q403.8 459.5 415 468.3M389.6 457.4Q392.8 467.8 384.4 476.6M388.8 455.1Q380.8 454.3 376.4 445.9M389.9 454.6Q386.7 447.7 388.6 438.9M390.1 454.6Q385.1 441.3 392.8 427.9M391.3 455.3Q397.7 445 411 444.1M391.4 455.6Q403.2 457.6 413.3 448.8M388.7 456.7Q385 459 379.7 461.4M388.8 455.1Q383.7 454.5 380.4 448.9M390 454.5Q391.4 450.2 390.2 444.4M391.3 455.4Q396.4 455.5 401 450.9"/><path id="p17b" d="M391 457.1Q400.4 460.7 404.1 471.5M390.6 457.3Q389.6 462.9 395.1 467M389.9 457.5Q383.9 466.5 388.7 477.7M388.9 456.9Q376.6 460.3 369.2 472.4M388.6 455.8Q381 453.2 371.6 453.4M388.6 455.6Q381.5 452.9 372.7 450.7M389.2 454.8Q384.2 451.3 382.1 444.1M390.6 454.7Q391.3 445.1 398.4 436.9M391.2 456.8Q394.1 457.6 397.3 460.5M390.7 457.3Q395.6 460.5 396.8 467.6M389.5 457.4Q388.3 462.9 385.5 469.5M388.5 456Q383.4 452.7 376.7 455.8M389.6 454.6Q386.5 450.6 386.5 444.2M391.2 455.3Q397 453.5 402.5 448.5"/><path id="p17c" d="M390.8 457.2Q398 463.8 401.8 474.2M390.3 457.4Q386.5 468 394.5 477.7M389.2 457.2Q378.6 462.7 376.6 475.9M388.9 457Q384.7 468.7 371.6 472.8M388.6 456.5Q376.9 460.6 364 466M388.6 456.3Q376.9 453.9 365.5 460.6M389 455Q385 445.2 374.4 439.9M389.5 454.6Q385.3 448.5 384.3 439.7M390.6 454.7Q399.8 446.9 400.8 433.6M391 455Q397 450.9 401.8 443.7M391.4 455.8Q396.5 457.2 402.4 454.3M389.8 457.4Q392.4 464 387.6 470.9M388.9 457Q385.8 461.3 380 465M390.6 454.7Q390.1 450.2 394.4 446.2M391.4 456.3Q398.5 457.6 406.7 460"/><use href="#p17a" style="stroke:#ffb600;stroke-width:2.2"/><use href="#p17b" style="stroke:#ffb100;stroke-width:2.2"/><use href="#p17c" style="stroke:#ffac00;stroke-width:2.2"/><use href="#p17a" style="stroke:#ff9e00;stroke-width:2.8;stroke-dasharray:14.5 99"/><use href="#p17b" style="stroke:#ff7b00;stroke-width:2.8;stroke-dasharray:16.9 99"/><use href="#p17c" style="stroke:#ff4f00;stroke-width:2.8;stroke-dasharray:19.2 99"/><use href="#p17a" style="stroke:#ffae00;stroke-width:1;stroke-dasharray:23.3 99"/><use href="#p17b" style="stroke:#fece00;stroke-width:1;stroke-dasharray:25.6 99"/><use href="#p17c" style="stroke:#ffbe00;stroke-width:1;stroke-dasharray:27.9 99"/>
<ellipse cx="474" cy="467.5" rx="8.8" ry="8.4" fill="#ff0000" transform="rotate(0 474 467.5)"/><path id="p18a" d="M475.3 467.9Q481.4 469.3 488.8 471.5M475.3 467.9Q486.2 465.8 495 474.3M475.1 468.2Q478.3 471.8 484 473.9M474.8 468.6Q480.1 471.6 481.7 478.7M472.9 468.3Q468.7 470.5 464.2 474.6M472.8 468.1Q466.2 470.3 459.2 474.7M472.6 467.5Q463.4 470.6 452.6 467.9M474.4 466.2Q477.7 462.7 477.3 456.6M475.2 466.9Q486.3 463.4 497.3 456.5M475.3 467.3Q484.2 463.4 495.3 463.7M472.9 466.7Q469.3 463.5 464.1 460.1M474.2 466.2Q476.5 462.4 475.6 456.8"/><path id="p18b" d="M473.9 468.8Q471 475.2 472.2 483.3M473.5 468.7Q475.4 480.6 465.3 488.9M473.4 468.7Q467.6 474.6 465.4 484M472.7 467.2Q468.5 463 461.7 465.1M472.7 467.1Q467 468.2 461.8 463.6M473.3 466.4Q468.9 456.8 461.8 447.2M473.6 466.2Q474.4 456.5 468.1 447.5M474.6 466.3Q481.2 458.9 484.5 448.2M475.1 466.7Q486.4 462.4 495.7 452.8M475 468.4Q476.5 469.1 478.5 471.4M474.5 468.7Q478.1 473.2 479.7 480.1M473.3 468.6Q472.3 472.2 468.6 475.6M473.5 466.3Q472.2 460.5 468.4 454.4M475.3 467.2Q480.5 467.4 486.3 464.4M475.4 467.3Q479.5 469.6 484.3 466.1"/><path id="p18c" d="M474.3 468.8Q476.3 479.3 480.2 490.6M472.9 466.7Q463.5 463.4 455.9 455M473.8 466.2Q469.7 459.8 471.6 451.3M473.6 468.8Q472.9 471.5 471.4 475.5M472.8 468Q467.8 469.6 462.1 472.6M474.8 466.5Q478.8 463.9 481.2 458.4"/><use href="#p18a" style="stroke:#ff5a00;stroke-width:2.2"/><use href="#p18b" style="stroke:#ff4e00;stroke-width:2.2"/><use href="#p18c" style="stroke:#ff4200;stroke-width:2.2"/><use href="#p18a" style="stroke:#ff1e00;stroke-width:2.8;stroke-dasharray:13.4 99"/><use href="#p18b" style="stroke:#fe0000;stroke-width:2.8;stroke-dasharray:15.5 99"/><use href="#p18c" style="stroke:#f60000;stroke-width:2.8;stroke-dasharray:17.7 99"/><use href="#p18a" style="stroke:#ff9500;stroke-width:1;stroke-dasharray:21.4 99"/><use href="#p18b" style="stroke:#ff6e00;stroke-width:1;stroke-dasharray:23.6 99"/><use href="#p18c" style="stroke:#ff4600;stroke-width:1;stroke-dasharray:25.7 99"/>
<ellipse cx="571" cy="446" rx="9.5" ry="9.5" fill="#ff2c00" transform="rotate(0 571 446)"/><path id="p19a" d="M572.4 446.4Q581.4 456.3 595.6 453.1M572.1 447Q576.7 455.9 586.9 461M569.8 446.9Q559.2 451 551 460.8M569.5 446.2Q557.6 446.1 544.6 449.8M569.6 445.7Q562.1 445 553.7 442.1M569.8 445.2Q563.8 441.1 556.5 436.2M571.3 444.5Q571.1 438.8 573.8 432.1M572 444.9Q581.9 440.5 587.3 429.6M570.7 447.5Q570.3 449.1 569.8 452.2M572.5 445.9Q576.3 442.7 582.1 445.1"/><path id="p19b" d="M572.4 446.5Q576.2 450.8 583.3 450.6M571.6 447.3Q572.8 454.5 578.3 461.3M571.1 447.5Q566.8 457.2 572.8 467.4M570.5 447.4Q561.9 453.8 563.3 465.7M569.6 446.5Q562.7 453.1 551.7 453.4M572.5 445.8Q583.4 450.8 594.2 443.2M571.2 447.5Q570.5 451.4 572.4 456.6M569.7 445.2Q565.7 439.9 557.8 437.7M570.8 444.5Q570.5 438.4 569 430.9M571.6 444.6Q570.4 438 576.7 433.1"/><path id="p19c" d="M571 447.5Q567 454 570.6 462.2M569.9 445.1Q565.9 434.2 553.4 431.5M570.1 444.8Q569 438.9 563 434.6M570.7 444.5Q566.6 438.6 567.6 430M571.6 444.6Q577.5 437.5 578.7 426.8M572.2 445.2Q576.3 436.3 587.2 434.7M572.3 446.8Q574.1 450.7 579.7 451.4M569.8 446.9Q565.8 448.4 561.8 452.7M569.5 446.2Q562.3 449.9 552.9 448.4M572 444.9Q575 436.7 584.3 432.5"/><use href="#p19a" style="stroke:#ff9800;stroke-width:2.2"/><use href="#p19b" style="stroke:#ff8a00;stroke-width:2.2"/><use href="#p19c" style="stroke:#ff7c00;stroke-width:2.2"/><use href="#p19a" style="stroke:#ff5200;stroke-width:2.8;stroke-dasharray:14.8 99"/><use href="#p19b" style="stroke:#ff2700;stroke-width:2.8;stroke-dasharray:17.2 99"/><use href="#p19c" style="stroke:#fe0000;stroke-width:2.8;stroke-dasharray:19.6 99"/><use href="#p19a" style="stroke:#ffa100;stroke-width:1;stroke-dasharray:23.7 99"/><use href="#p19b" style="stroke:#ff8100;stroke-width:1;stroke-dasharray:26.1 99"/><use href="#p19c" style="stroke:#ffb000;stroke-width:1;stroke-dasharray:28.5 99"/>
<ellipse cx="672.5" cy="455" rx="10.4" ry="10.2" fill="#ff1900" transform="rotate(0 672.5 455)"/><path id="p20a" d="M674 455.6Q685 454.9 694.3 463.3M673.3 456.4Q673.9 466.2 683.1 472.7M671.5 456.3Q661.4 459.9 659.5 471.9M671.1 455.7Q665.1 461.2 655.7 463.7M671 455.6Q658.8 455 649.5 464.9M670.9 455.4Q658.3 451.4 646.9 460.7M670.9 454.7Q660.4 447.7 646.6 450.8M671.1 454.3Q667.3 447.7 658.4 447.8M671.5 453.8Q668.1 447.1 661 441.5M672.2 453.4Q661.9 440.8 667.2 423.9M672.3 453.4Q663.9 442.3 669.6 428.1M672.7 453.4Q673.2 444.8 675.5 434.8M673.1 453.5Q678.6 449 678.3 440.5M673.4 453.7Q677.1 448.1 682 441.3M673.7 453.9Q681.9 446.7 691.2 438.4M673.9 454.3Q687.2 455 696 443.3M674 454.5Q682.6 456.7 689.9 449.4M671.5 456.2Q668.9 460.2 664.5 464.7M670.9 454.5Q663.6 450.5 653.7 449.4M674 455.5Q679.1 457.9 686.1 459.8M674 455.7Q681 455.9 687.4 461.7"/><path id="p20b" d="M674.1 455.2Q682 459 692.2 457M673.9 455.9Q687.1 459.4 697.2 470.8M673.6 456.1Q678.3 470.3 693.6 476.4M673 456.5Q672.4 462.1 676.6 467.8M672.7 456.6Q676.5 464.4 674.7 474.5M671.8 456.5Q671.4 465 664.7 472.4M671.2 456Q661.1 464.4 649.2 473.1M671.2 454Q665 448.8 657.4 442.7M671.8 453.6Q668.9 442.2 661.1 431.4M674.1 454.9Q682.5 450.9 692.8 454M672.5 456.6Q675.1 460 672.6 465.1M671.6 453.6Q669.6 447.8 664.3 442.1M673.6 453.8Q677.6 453.2 679 448.1M674.1 454.8Q681.9 451.2 692 452.6"/><path id="p20c" d="M673.9 455.8Q683.2 466.8 698.6 470.6M672.5 456.6Q665.6 468.1 671.7 481.7M672 456.5Q673.9 463 668.1 468.6M670.9 455Q658.3 459.3 644.2 454.6M671 454.4Q666.2 448.4 657.1 449.2M673.6 453.8Q675.3 448.8 681.1 445.3M673.5 456.2Q680.3 458.5 682.1 466.9M672.1 456.6Q666.9 461.5 669.1 469.7M671.2 455.9Q668.5 461.1 661.5 462.8M671 455.6Q664.4 461 654.4 462.2M671.3 453.9Q662.4 452.3 658.4 442.6M672.5 453.4Q674.4 450.1 672.5 445.2M672.7 453.4Q676.1 448.2 674.6 440.8M673.9 454.2Q678.7 452.5 683.9 448.3"/><use href="#p20a" style="stroke:#ff8400;stroke-width:2.2"/><use href="#p20b" style="stroke:#ff7600;stroke-width:2.2"/><use href="#p20c" style="stroke:#ff6800;stroke-width:2.2"/><use href="#p20a" style="stroke:#ff3e00;stroke-width:2.8;stroke-dasharray:16.1 99"/><use href="#p20b" style="stroke:#ff1400;stroke-width:2.8;stroke-dasharray:18.7 99"/><use href="#p20c" style="stroke:#fa0000;stroke-width:2.8;stroke-dasharray:21.3 99"/><use href="#p20a" style="stroke:#ff6d00;stroke-width:1;stroke-dasharray:25.8 99"/><use href="#p20b" style="stroke:#ffa900;stroke-width:1;stroke-dasharray:28.3 99"/><use href="#p20c" style="stroke:#ff9a00;stroke-width:1;stroke-dasharray:30.9 99"/>
<circle cx="665" cy="177.5" r="1.3" fill="#7be022"/><circle cx="400" cy="360" r="1.3" fill="#7be022"/><circle cx="571" cy="354" r="1.3" fill="#7be022"/><circle cx="308.7" cy="442.5" r="1.3" fill="#7be022"/><circle cx="381" cy="432.5" r="1.3" fill="#7be022"/><circle cx="585" cy="258" r="1.3" fill="#7be022"/>
</g>
</g>
<g>
<rect x="1184.9" y="43.7" width="713.6" height="535.3" fill="#000"/>
<path d="M1185.7 579v6.6M1290.4 579v6.6M1395.2 579v6.6M1499.9 579v6.6M1604.7 579v6.6M1709.4 579v6.6M1814.1 579v6.6M1184.9 44.4h-6.6M1184.9 148.8h-6.6M1184.9 253.3h-6.6M1184.9 357.7h-6.6M1184.9 462.2h-6.6M1184.9 566.6h-6.6M1942 44h6.6M1942 150.9h6.6M1942 257.9h6.6M1942 364.8h6.6M1942 471.8h6.6M1942 578.7h6.6" stroke="#1d1d1d" stroke-width="1.5" fill="none"/>
<text class="tk" transform="translate(1185.7 609.8) scale(0.94 1)" font-size="21.9" text-anchor="middle">0</text><text class="tk" transform="translate(1290.4 609.8) scale(0.94 1)" font-size="21.9" text-anchor="middle">200</text><text class="tk" transform="translate(1395.2 609.8) scale(0.94 1)" font-size="21.9" text-anchor="middle">400</text><text class="tk" transform="translate(1499.9 609.8) scale(0.94 1)" font-size="21.9" text-anchor="middle">600</text><text class="tk" transform="translate(1604.7 609.8) scale(0.94 1)" font-size="21.9" text-anchor="middle">800</text><text class="tk" transform="translate(1709.4 609.8) scale(0.94 1)" font-size="21.9" text-anchor="middle">1000</text><text class="tk" transform="translate(1814.1 609.8) scale(0.94 1)" font-size="21.9" text-anchor="middle">1200</text>
<text class="tk" transform="translate(1170.5 53.1) scale(0.94 1)" font-size="21.9" text-anchor="end">0</text><text class="tk" transform="translate(1170.5 157.5) scale(0.94 1)" font-size="21.9" text-anchor="end">200</text><text class="tk" transform="translate(1170.5 262) scale(0.94 1)" font-size="21.9" text-anchor="end">400</text><text class="tk" transform="translate(1170.5 366.4) scale(0.94 1)" font-size="21.9" text-anchor="end">600</text><text class="tk" transform="translate(1170.5 470.9) scale(0.94 1)" font-size="21.9" text-anchor="end">800</text><text class="tk" transform="translate(1170.5 575.3) scale(0.94 1)" font-size="21.9" text-anchor="end">1000</text>
<text class="tk" transform="translate(1957.2 52.7) scale(0.94 1)" font-size="21.9">1.0</text><text class="tk" transform="translate(1957.2 159.6) scale(0.94 1)" font-size="21.9">0.8</text><text class="tk" transform="translate(1957.2 266.6) scale(0.94 1)" font-size="21.9">0.6</text><text class="tk" transform="translate(1957.2 373.5) scale(0.94 1)" font-size="21.9">0.4</text><text class="tk" transform="translate(1957.2 480.5) scale(0.94 1)" font-size="21.9">0.2</text><text class="tk" transform="translate(1957.2 587.4) scale(0.94 1)" font-size="21.9">0.0</text>
<rect x="1905.4" y="44" width="36.6" height="534.7" fill="url(#cb)" stroke="#111" stroke-width="1.1"/>
<g filter="url(#soft)"><circle cx="1313.7" cy="101" r="10.6" fill="none" stroke="#ecc92f" stroke-width="2.4"/><circle cx="1414.2" cy="101" r="10.6" fill="none" stroke="#2a7fc5" stroke-width="2.4"/><circle cx="1521.7" cy="101" r="11.8" fill="#2a7fc5"/><circle cx="1621.3" cy="101" r="11.8" fill="#2a7fc5"/><circle cx="1740.7" cy="101" r="11.8" fill="#ecc92f"/><circle cx="1313.7" cy="210.5" r="11.8" fill="#ecc92f"/><circle cx="1414.2" cy="210.5" r="11.8" fill="#ecc92f"/><circle cx="1521.7" cy="210.5" r="10.6" fill="none" stroke="#ecc92f" stroke-width="2.4"/><circle cx="1621.3" cy="210.5" r="11.8" fill="#2a7fc5"/><circle cx="1740.7" cy="210.5" r="11.8" fill="#2a7fc5"/><circle cx="1313.7" cy="314.8" r="11.8" fill="#2a7fc5"/><circle cx="1414.2" cy="314.8" r="11.8" fill="#ecc92f"/><circle cx="1521.7" cy="314.8" r="10.6" fill="none" stroke="#2a7fc5" stroke-width="2.4"/><circle cx="1621.3" cy="314.8" r="11.8" fill="#ecc92f"/><circle cx="1740.7" cy="314.8" r="10.6" fill="none" stroke="#ecc92f" stroke-width="2.4"/><circle cx="1313.7" cy="408.8" r="10.6" fill="none" stroke="#2a7fc5" stroke-width="2.4"/><circle cx="1414.2" cy="408.8" r="11.8" fill="#2a7fc5"/><circle cx="1521.7" cy="408.8" r="10.6" fill="none" stroke="#ecc92f" stroke-width="2.4"/><circle cx="1621.3" cy="408.8" r="10.6" fill="none" stroke="#ecc92f" stroke-width="2.4"/><circle cx="1740.7" cy="408.8" r="10.6" fill="none" stroke="#2a7fc5" stroke-width="2.4"/></g>
<g class="pl" filter="url(#soft)">
<ellipse cx="1348.7" cy="180" rx="3.5" ry="4.3" fill="#00e800" transform="rotate(0 1348.7 180)"/><path id="p21a" d="M1349.6 180.2Q1353.4 181.9 1358.5 182M1349.6 180.5Q1354.3 186.8 1363.1 187.4M1349.4 180.8Q1353.9 183.5 1356.5 189.1M1348.7 181.2Q1348.6 188.7 1348 197.4M1348.1 180.9Q1347.9 187.8 1341 191.5M1347.8 180.4Q1343.4 183.4 1337.2 184.5M1348 179.1Q1342 174.7 1338.8 166.7M1348.2 179Q1348.8 171 1341.9 165.2M1348.6 178.8Q1348.6 170.3 1346.7 160.8M1349.4 179.3Q1352.2 175.6 1356.6 172.1M1349.5 180.7Q1354.7 182.4 1357.3 188.3M1349 181.1Q1349.7 184.2 1350.7 188.5M1348.1 180.9Q1344.2 183.2 1342.9 188.5M1348.1 179.1Q1344 175.8 1341.3 170.1M1348.7 178.8Q1346.7 173.2 1348.4 166.4M1349.4 179.1Q1353.1 177 1354.8 172M1349.6 179.6Q1354.1 179.1 1358.4 175.7"/><path id="p21b" d="M1349.5 180.6Q1352.3 186.2 1359.2 188.1M1349.2 181Q1352.5 188.9 1356.8 197.5M1348.9 181.1Q1350.7 186.1 1351.3 192.6M1348.4 181.1Q1345.9 185.8 1345.6 192.2M1348 180.8Q1344.1 184.1 1340.4 189M1347.8 180.2Q1341.8 181.3 1334.9 183M1347.8 179.8Q1342.6 179 1336.8 176.9M1347.8 179.5Q1340.7 180 1335.9 173.5M1347.9 179.4Q1345.6 175.8 1340.8 173.7M1348.7 178.8Q1345.4 172.4 1349.2 165.1M1349.2 179Q1351.6 175.3 1353.6 170.1M1349.4 179.2Q1354.4 172.6 1361.1 166M1349.6 179.8Q1356.4 181.6 1362.5 176.7M1348.6 181.2Q1347.6 183.8 1348.3 187.7M1347.8 180.4Q1344 184.5 1337.5 184.6M1349.6 180.2Q1352.6 180.1 1356.2 181.6"/><path id="p21c" d="M1348.3 181Q1344.3 187.5 1342 195.9M1348.9 178.8Q1350.2 171.4 1351.7 162.8M1349.6 179.6Q1357.2 177.8 1364.4 172.7M1347.8 180.3Q1344.2 181.1 1339.8 182.6M1347.8 179.7Q1345.8 177.5 1342 177.6M1348.8 178.8Q1351.1 175.8 1349.4 171.3"/><use href="#p21a" style="stroke:#00b900;stroke-width:1.2"/><use href="#p21b" style="stroke:#00bf00;stroke-width:1.2"/><use href="#p21c" style="stroke:#00c500;stroke-width:1.2"/><use href="#p21a" style="stroke:#00d800;stroke-width:1.6;stroke-dasharray:10.7 99"/><use href="#p21b" style="stroke:#00ea00;stroke-width:1.6;stroke-dasharray:12.4 99"/><use href="#p21c" style="stroke:#00fc00;stroke-width:1.6;stroke-dasharray:14.2 99"/><use href="#p21a" style="stroke:#00c300;stroke-width:0.7;stroke-dasharray:17.2 99"/><use href="#p21b" style="stroke:#00af00;stroke-width:0.7;stroke-dasharray:18.9 99"/><use href="#p21c" style="stroke:#009a00;stroke-width:0.7;stroke-dasharray:20.6 99"/>
<ellipse cx="1445" cy="170" rx="9.9" ry="11.6" fill="#ff7a00" transform="rotate(0 1445 170)"/><path id="p22a" d="M1446.1 170.4Q1451.9 174.7 1460.3 175.5M1445.3 171.2Q1447.5 180.3 1450.8 190.3M1445.3 171.3Q1450.8 180 1449.7 191.5M1445 171.3Q1448.2 177 1445.1 184M1444.5 171.1Q1442.5 176.5 1439.3 182.6M1444.2 170.8Q1438.6 179.5 1429.2 186M1443.9 169.7Q1435.1 171.5 1427 165.6M1444.1 169.2Q1442.3 165.6 1437.7 163.5M1444.9 168.7Q1445.1 163.6 1443.8 157.2M1445 168.7Q1446.9 157.3 1444.4 144.8M1445.8 170.9Q1449.6 171.9 1451.3 176.5M1445.4 171.2Q1447.4 173.8 1447.5 178.3M1444.4 171Q1444.5 177.4 1438.1 181.2M1444.2 170.8Q1439.4 173.8 1435.7 179.5M1443.9 170Q1440.5 168.1 1436.1 170.1M1444.3 169Q1443.5 167.4 1441.4 165.3M1445.5 168.8Q1444.9 164.4 1449 160.7M1445.6 168.9Q1448.5 166.6 1449.2 161.8M1445.9 169.2Q1450.9 166.9 1454.8 161.6"/><path id="p22b" d="M1444.8 171.3Q1446.2 179.9 1442.2 189M1444 170.6Q1433.1 171.4 1427.5 181.9M1443.9 170.2Q1438.2 174.5 1430.2 173.3M1443.9 170.2Q1437.1 175.3 1427.9 172.9M1443.9 170Q1438.6 171 1432.3 169.6M1444.1 169.3Q1437.3 164.1 1429.3 158.6M1444.4 168.9Q1439.9 165.6 1439.2 158.9M1445.1 168.7Q1445.8 160.8 1446.9 151.7M1445.4 168.8Q1449.8 163.8 1450.2 156M1445.7 169.1Q1451.9 162.9 1457.3 154.5M1445.8 169.1Q1449 166.5 1452.3 162.3M1446 169.5Q1450.2 167.7 1455 164.5M1446 169.6Q1453.8 168.6 1460.9 163.1M1445.8 170.9Q1450.4 172.9 1452.1 178.9M1444 170.6Q1439.4 170.3 1436.7 175.2M1444.4 168.9Q1443.7 163.6 1438.8 159.3M1444.8 168.7Q1441.2 163.4 1442.4 156M1446.1 170Q1450.6 170.2 1456.1 170.4"/><path id="p22c" d="M1446.1 170.1Q1453.8 173.6 1463.1 171.1M1445.9 170.7Q1450.2 173.1 1454.9 176.9M1445.9 170.7Q1448.7 176.4 1455.8 178.3M1445.7 171Q1447.4 175.3 1451.9 178.9M1445.5 171.1Q1447.3 179.1 1452.7 186.7M1444.6 171.2Q1445.8 177.5 1440.4 182.8M1444.2 170.9Q1436 176.4 1430.7 186M1444.2 169.1Q1439.2 165.7 1435.7 159.3M1444.7 168.8Q1446.7 158 1439 148.6M1445.6 168.9Q1449.7 161.1 1455.3 152.7M1446.1 169.8Q1454.1 166.5 1463.9 166.6M1445 171.3Q1441.7 176.6 1444.5 183.5M1444 169.4Q1442.7 167.5 1439.3 166.7M1446 170.5Q1451.7 170.7 1456.7 175.3"/><use href="#p22a" style="stroke:#ffb400;stroke-width:2.1"/><use href="#p22b" style="stroke:#ffaf00;stroke-width:2.1"/><use href="#p22c" style="stroke:#ffaa00;stroke-width:2.1"/><use href="#p22a" style="stroke:#ff9c00;stroke-width:2.7;stroke-dasharray:12 99"/><use href="#p22b" style="stroke:#ff7500;stroke-width:2.7;stroke-dasharray:13.9 99"/><use href="#p22c" style="stroke:#ff4900;stroke-width:2.7;stroke-dasharray:15.8 99"/><use href="#p22a" style="stroke:#ffac00;stroke-width:1;stroke-dasharray:19.1 99"/><use href="#p22b" style="stroke:#ffbc00;stroke-width:1;stroke-dasharray:21.1 99"/><use href="#p22c" style="stroke:#ffcc00;stroke-width:1;stroke-dasharray:23 99"/>
<ellipse cx="1537.5" cy="167.5" rx="18.2" ry="20" fill="#ff0c00" transform="rotate(0 1537.5 167.5)"/><path id="p23a" d="M1538 169.2Q1549.4 180 1545.6 196.9M1537.1 169.3Q1538.4 182.2 1531.5 195.1M1536.9 169.2Q1530.6 176.2 1530.7 187.3M1536.8 169.1Q1537.1 180.8 1527.9 190.4M1536.3 168.8Q1532.4 182.4 1518 188.9M1535.9 167Q1524.3 158.9 1508.5 158.2M1536 166.8Q1525 160.2 1511.5 155.2M1536.2 166.4Q1530.6 157 1519 152M1536.7 165.9Q1532.9 158.4 1527.7 149.6M1537 165.8Q1532 157.3 1531 145.8M1537.4 165.7Q1535.7 154.8 1535.7 141.9M1538.5 166.1Q1544.2 157.1 1552 147.4M1538.7 166.3Q1552.4 163.1 1557.1 148.4M1538.9 166.6Q1553.7 165.8 1562.6 152.1M1538.9 168.5Q1543.6 171.4 1549 176.1M1538.5 168.9Q1540.5 176.9 1548.4 182.8M1537.1 169.3Q1535.1 173 1534.9 178.9M1536.3 168.8Q1530.3 171.3 1526.8 178.8M1535.9 167.9Q1530.3 168.6 1523.4 170.6M1535.9 167.7Q1527.2 166.6 1517.6 170.4M1535.9 167.2Q1531 166.9 1524.8 165.2M1536.1 166.6Q1532.7 161.1 1524.9 159.9M1536.3 166.3Q1534.9 158.2 1525.7 155.3M1536.8 165.9Q1531.7 162.2 1531.6 154.4M1537.4 165.7Q1540.3 157 1536.8 146.8M1537.7 165.7Q1541.8 156.4 1539.9 144.6M1538.1 165.8Q1536.3 155.6 1545 147.2M1538.7 166.3Q1541 162.9 1545.7 159.7M1539 166.8Q1541.9 162.3 1548.8 161.9M1539.1 167.4Q1545.8 163.8 1554.3 166.9"/><path id="p23b" d="M1539.1 167.6Q1547.1 170.7 1557.1 169.2M1539.1 167.9Q1547.5 172.7 1558.8 173.4M1538.9 168.5Q1547 180.8 1562.5 186.3M1538.4 169Q1541.9 178.5 1549.8 187.3M1538.3 169.1Q1537.8 185.4 1552.2 196.3M1538.2 169.1Q1540.6 179.6 1547.4 190M1538 169.2Q1544 183.8 1547.8 200.9M1537.7 169.3Q1540.4 182.2 1540.5 197.2M1537.6 169.3Q1542.5 181.2 1538.8 195.3M1537.4 169.3Q1544.4 182.2 1536.5 196.3M1537.3 169.3Q1533.4 180.2 1535 193.4M1536.7 169.1Q1529.1 179.9 1523.9 194M1536.2 168.6Q1528.9 179.7 1515.3 185.8M1536 168.2Q1526.2 169.7 1517.6 177.4M1535.9 168.1Q1526.9 169.9 1517.3 175.1M1536 166.8Q1521.8 168.7 1512.2 156.1M1536.1 166.5Q1528.8 159.7 1518.7 153.7M1536.4 166.1Q1534.6 152.9 1521 146.9M1536.8 165.9Q1525 157.3 1525.3 141.1M1537.1 165.7Q1538.8 151.2 1530.8 137M1537.3 165.7Q1533.9 155.9 1535.3 143.8M1537.6 165.7Q1535.6 153.9 1539.1 140.6M1537.7 165.7Q1544.6 155.6 1540.3 142.4M1537.9 165.7Q1535.5 152.4 1543.8 139.7M1538.2 165.9Q1548 154.6 1550.3 138.1M1538.3 165.9Q1543.5 152.2 1552.8 138.7M1538.6 166.1Q1548.5 154.9 1557.5 140.9M1538.9 166.5Q1547.4 161.6 1555.7 153.7M1539.1 167.1Q1549.3 164.7 1561 161.9M1539.1 167.5Q1549.4 172.7 1561 166.8M1538.4 169Q1542.8 176.9 1548.1 186.4M1537.8 169.3Q1537.8 179.2 1541.9 190.1M1537.8 169.3Q1537.8 178.3 1540.7 188.8M1536.8 169.1Q1532.4 172.5 1531.9 179.6M1536 168.3Q1531.6 172.9 1524 175.2M1536 166.8Q1531 167.4 1526.5 162.5M1537 165.8Q1535.3 160.1 1532.9 152.8M1538.5 166.1Q1542.3 162.3 1545.5 155.9M1539.1 166.9Q1544.4 160.8 1553.9 161.6"/><path id="p23c" d="M1539.1 167.8Q1550.8 169.7 1564.1 172.1M1539 168.2Q1548 177.7 1562.6 178.6M1539 168.3Q1546.5 177.3 1559.6 179.3M1538.9 168.4Q1550.1 176.1 1563.2 183.7M1538.7 168.8Q1551.7 175.9 1559.4 190.5M1538.6 168.8Q1545.8 177.3 1553.9 187.2M1536.5 169Q1526.8 174.9 1524.5 187.6M1536.4 168.9Q1532.9 182.1 1519.9 190.2M1536.1 168.4Q1522.4 172.4 1511.6 183.9M1535.9 168Q1526.3 173.7 1513.6 174.7M1535.9 167.7Q1524.4 169.1 1511.4 171.4M1535.9 167.7Q1522.9 169.1 1508.2 170.5M1535.9 167.3Q1526.9 162.3 1515.5 165.2M1535.9 167.3Q1523.8 168.7 1510.9 164.3M1536.3 166.3Q1528.2 154.8 1515.2 145.7M1536.5 166Q1527.3 159.9 1524.6 147.5M1538 165.8Q1541.7 154.6 1544.8 141.4M1539 166.7Q1552.4 162.6 1565.2 153.6M1539 166.8Q1551 166.7 1560.7 157.3M1539.1 167.2Q1548.8 169.9 1558.6 163.7M1539 168.3Q1542.8 169.5 1547.5 172.5M1537.3 169.3Q1536.1 177.3 1534.9 187.1M1536.5 169Q1533.1 174.9 1527.8 181.8M1536.5 166.1Q1536.4 158.8 1528.6 154.6M1538.3 165.9Q1544.8 159 1546.8 147.9M1539.1 167.7Q1543.7 167.3 1549.7 169M1539.1 167.9Q1545.5 174 1555.5 171.7"/><use href="#p23a" style="stroke:#ff7600;stroke-width:2.5"/><use href="#p23b" style="stroke:#ff6800;stroke-width:2.5"/><use href="#p23c" style="stroke:#ff5a00;stroke-width:2.5"/><use href="#p23a" style="stroke:#ff3100;stroke-width:3.2;stroke-dasharray:17.3 99"/><use href="#p23b" style="stroke:#ff0800;stroke-width:3.2;stroke-dasharray:20.1 99"/><use href="#p23c" style="stroke:#f80000;stroke-width:3.2;stroke-dasharray:22.9 99"/><use href="#p23a" style="stroke:#ffa400;stroke-width:1.1;stroke-dasharray:27.7 99"/><use href="#p23b" style="stroke:#ff5f00;stroke-width:1.1;stroke-dasharray:30.5 99"/><use href="#p23c" style="stroke:#ff8d00;stroke-width:1.1;stroke-dasharray:33.3 99"/>
<ellipse cx="1626" cy="169" rx="15.4" ry="15.7" fill="#ff3d00" transform="rotate(0 1626 169)"/><path id="p24a" d="M1627.4 169Q1637.8 168.4 1649.5 169.5M1627.4 169.3Q1636 177.9 1649 174.9M1627.1 169.9Q1633.6 178.1 1643.7 184.5M1627 169.9Q1634.8 174.7 1641.3 182.9M1625.9 170.4Q1627.9 177.8 1624.8 186.3M1625.8 170.4Q1621.7 179.7 1623.4 191.1M1625.6 170.4Q1628 181.7 1619 190.8M1625.3 170.3Q1617.8 175.2 1617.4 185.5M1625 170Q1621.3 178.4 1611.6 182.3M1624.6 169.1Q1613.1 175.8 1599.5 170.3M1624.8 168.2Q1615.9 164.1 1607.9 156.4M1624.9 168.2Q1620.6 160.1 1610.4 157.8M1625.1 167.9Q1623.4 157 1612 152.3M1625.8 167.6Q1620 160.8 1623.4 151.3M1626.5 167.7Q1627.9 159.9 1632.1 151.5M1626.8 167.9Q1631.5 159.7 1638.6 151.6M1627.3 168.4Q1633.1 160.4 1644.2 160.4M1627.4 168.9Q1637.7 163.1 1649.9 168.1M1626.1 170.4Q1629.6 176.9 1626.9 185M1625.7 170.4Q1627.8 175.7 1623.8 181.3M1624.6 169.3Q1619.5 168.4 1614.2 172M1625.3 167.8Q1622.7 165.8 1621.4 161.4M1626 167.6Q1626.1 163.2 1625.8 157.5M1626.3 167.6Q1629.6 162.8 1629.3 155.7M1626.8 167.8Q1626.6 160.8 1633.8 156.8M1627.4 168.9Q1630.7 168.4 1635.4 168.3"/><path id="p24b" d="M1627.4 169.2Q1635 171 1644.2 171.3M1626.9 170.1Q1629.7 183.7 1643.7 189.8M1626.2 170.4Q1624.6 182.8 1629.6 195.6M1626.1 170.4Q1630.8 180 1626.8 191.3M1625.4 170.3Q1626.4 179.4 1617.8 185.3M1624.7 169.6Q1616.1 170.2 1608.7 176.9M1625 168Q1617.6 164 1611.9 156M1625.5 167.7Q1621.4 160.8 1619 151.7M1626 167.6Q1627.4 160.2 1625.4 151.5M1626.1 167.6Q1628.1 159.9 1627.8 150.6M1626.2 167.6Q1624.7 155.8 1630.4 143.7M1626.6 167.7Q1633.8 156.9 1637.3 143M1626.8 167.8Q1639.5 161.5 1640.5 146.2M1627 168Q1632.8 159 1642.4 151.6M1627 168.1Q1633 157.8 1644.8 152M1627.2 168.3Q1633.3 159.3 1645.3 158M1627.3 169.6Q1632.9 174.7 1641.7 176.8M1626.8 170.1Q1631.2 174.5 1634.9 181M1626.5 170.3Q1630 173.9 1630.4 180.2M1625.2 170.1Q1622.9 176.7 1616.5 182M1624.8 169.7Q1615.9 170.6 1609.7 178.6M1624.8 168.2Q1620.1 168.4 1617 163.3M1625.7 167.6Q1622.4 163.3 1623.3 156.6M1626.5 167.6Q1627.1 163.6 1629.5 158.7M1627.1 168.1Q1629.1 162.3 1636.5 160.9M1627.3 168.4Q1630.9 166.5 1635.8 164.2M1627.3 168.6Q1630.5 166 1636 165.9"/><path id="p24c" d="M1627.3 169.6Q1632.3 175.9 1641.7 176.1M1627.2 169.8Q1638 174.5 1647.5 183.8M1626.7 170.2Q1630.8 180.7 1638.9 190.5M1626.5 170.3Q1629.8 181.6 1635.4 193.5M1626.5 170.3Q1631.3 179.7 1634.1 191.2M1625.1 170.1Q1620.4 175.1 1615.5 181.8M1624.9 169.9Q1613.7 174.2 1606.1 185M1624.8 169.8Q1618.1 174.1 1610.5 179.7M1624.6 169.4Q1616.7 168 1609.2 173.4M1624.6 169.2Q1616.4 170 1607 172.2M1624.6 168.9Q1613.6 168.6 1601.3 167M1624.6 168.8Q1612.4 174.1 1600.4 165.8M1624.7 168.5Q1613.8 169.6 1604.8 161.4M1624.7 168.4Q1618.2 158.1 1604.7 158.5M1625.2 167.8Q1618.4 164.1 1616.7 155.2M1625.7 167.6Q1619.8 159 1620.5 147.2M1627.4 168.7Q1634.7 167.1 1643.2 164.6M1627.4 168.8Q1635.8 171.7 1644.2 166M1627 170Q1631.1 173.9 1635.6 179.4M1625.4 170.3Q1624.2 172.5 1622.9 176.3M1625 170Q1622.9 172.7 1619.2 175.7M1624.6 169.1Q1620.3 170.4 1614.4 169.7M1624.6 168.8Q1618.3 170.5 1611.5 166.6M1624.9 168.1Q1621.2 163.7 1615 160.2M1627.3 169.5Q1631.5 169.5 1635.8 173"/><use href="#p24a" style="stroke:#ffa000;stroke-width:2.5"/><use href="#p24b" style="stroke:#ff9b00;stroke-width:2.5"/><use href="#p24c" style="stroke:#ff9000;stroke-width:2.5"/><use href="#p24a" style="stroke:#ff6400;stroke-width:3.2;stroke-dasharray:14.2 99"/><use href="#p24b" style="stroke:#ff3800;stroke-width:3.2;stroke-dasharray:16.4 99"/><use href="#p24c" style="stroke:#ff0c00;stroke-width:3.2;stroke-dasharray:18.7 99"/><use href="#p24a" style="stroke:#ff9500;stroke-width:1.1;stroke-dasharray:22.7 99"/><use href="#p24b" style="stroke:#ffa800;stroke-width:1.1;stroke-dasharray:24.9 99"/><use href="#p24c" style="stroke:#ffb800;stroke-width:1.1;stroke-dasharray:27.2 99"/>
<ellipse cx="1711" cy="172" rx="13.8" ry="16" fill="#ff0600" transform="rotate(11.5 1711 172)"/><path id="p25a" d="M1712.3 172.3Q1724.1 175.2 1737.3 177.8M1712.3 172.6Q1722.5 174.5 1732.1 181.2M1711.5 173.4Q1712.7 183.9 1719 194.2M1710.3 173.4Q1706 183.6 1700.5 195.1M1710 173.2Q1699.8 177.4 1696.3 189.4M1709.8 172.9Q1697.4 177.9 1688.9 190.1M1709.8 172.8Q1700.6 176 1692.3 183.4M1709.7 172.6Q1701.2 180 1688.6 181.5M1709.6 172.2Q1700.6 177.9 1688.9 175.1M1709.6 172Q1701.8 172.9 1692.6 172M1709.7 171.7Q1702.3 172 1694.3 168.6M1709.8 171.4Q1702.8 167.2 1693.9 163.7M1709.9 171.1Q1706.6 163.4 1697.2 161.1M1710.1 170.9Q1697.2 165.7 1693.3 151M1710.3 170.7Q1705 159.9 1698.7 148M1710.6 170.5Q1714.7 155.7 1703.7 143M1710.8 170.4Q1705.9 158.5 1708.3 144.2M1711.1 170.4Q1707.6 157.1 1712 142.5M1711.3 170.4Q1714.6 162.7 1714.3 152.8M1711.5 170.5Q1721.5 161.9 1719.7 147.5M1711.2 173.6Q1709.7 177.8 1712.1 183.1M1710.4 173.5Q1711.2 178 1706.8 182.1M1710 173.1Q1705.7 180.7 1697.7 187M1709.7 172.6Q1704.7 174.7 1698.4 177.4M1709.6 172.2Q1704.2 176.5 1696.5 173.8M1709.8 171.2Q1706.5 168.2 1701.4 165.4M1710.1 170.8Q1703.7 167.4 1701.5 159M1710.9 170.4Q1706.9 165.1 1709.8 157.6"/><path id="p25b" d="M1712.2 172.7Q1717.8 181 1729.1 181.6M1712 173Q1716.6 180.1 1724.6 185.7M1711.9 173.1Q1718.7 180.9 1726 190.2M1711.3 173.5Q1714.6 182.4 1715.5 193.4M1710.8 173.6Q1715.5 183.7 1708.7 194.2M1710.5 173.5Q1709.6 187.2 1702.2 200.4M1710.2 173.3Q1698.2 179.7 1696.6 194.6M1709.9 173Q1698.9 174.9 1694.9 186.6M1709.7 172.5Q1699.2 174.5 1688.2 179.7M1709.7 171.7Q1700.4 174.3 1691.7 167.6M1710.2 170.8Q1704.7 161.8 1697.7 152M1710.7 170.5Q1705 159.3 1706.2 145.3M1711.4 170.5Q1707.6 157.2 1718.1 146.2M1711.7 170.6Q1720.8 164.8 1720.6 152.7M1711.8 170.6Q1718.3 160.7 1724.4 148.9M1712.1 171Q1718.9 164.5 1726.9 157.1M1712.1 171Q1716.7 163 1726.4 158.9M1712.3 171.4Q1719.9 168.9 1728.1 164.3M1712.4 171.6Q1722.4 171.4 1732.4 166.1M1712.1 172.9Q1717.6 176.3 1722.7 182.3M1710.1 173.2Q1707.2 176.8 1703.6 181.7M1709.8 172.9Q1708.3 177 1702.7 177.9M1709.7 171.5Q1704.9 172.9 1700.8 168.4M1710.7 170.5Q1709 164.2 1707.7 156.2M1711.9 170.8Q1713.5 168.3 1716.3 164.8M1712.1 171Q1719.8 168.2 1724.7 160M1712.2 171.2Q1717.3 170.1 1721.5 165M1712.3 172.4Q1719.2 174.4 1727.4 177.1M1712.2 172.8Q1714.9 174 1718.2 176.9"/><path id="p25c" d="M1712.1 172.9Q1715.9 180.5 1724.9 184.2M1711.8 173.3Q1714.1 179.7 1719.5 185.9M1711.4 173.5Q1713.8 181.7 1716.5 191.4M1711.1 173.6Q1713.5 185.6 1712 199.4M1711 173.6Q1709.7 182.9 1710.8 193.8M1710.4 173.5Q1707 187 1700 200.8M1709.8 171.2Q1698.6 167.5 1689.9 157.7M1710.4 170.6Q1706.4 159.9 1700.9 148.2M1712 170.9Q1716.8 159.8 1728.4 152.7M1712.2 171.2Q1723.4 169.7 1730.3 159.2M1712.4 171.8Q1724.4 172.5 1736.9 167.5M1712.4 172Q1721 170.7 1731 172.3M1712.4 172.2Q1723.6 176.2 1736.8 176.4M1711.7 173.3Q1713.3 175.8 1715.2 179.7M1711.3 173.5Q1715.5 177.2 1713.6 183.8M1710.9 173.6Q1712.8 177.7 1710.5 183.2M1710.1 170.9Q1708.3 165.2 1702 161.5M1711.3 170.4Q1712.9 166.4 1713 160.5M1711.5 170.5Q1715.3 168 1714.4 162.1M1712.3 171.4Q1715.2 167.8 1721.1 167.6M1712.4 172.1Q1717.1 169.9 1722.8 172.8"/><use href="#p25a" style="stroke:#ff7000;stroke-width:2.5"/><use href="#p25b" style="stroke:#ff6200;stroke-width:2.5"/><use href="#p25c" style="stroke:#ff5400;stroke-width:2.5"/><use href="#p25a" style="stroke:#ff2b00;stroke-width:3.2;stroke-dasharray:14.9 99"/><use href="#p25b" style="stroke:#ff0200;stroke-width:3.2;stroke-dasharray:17.2 99"/><use href="#p25c" style="stroke:#f60000;stroke-width:3.2;stroke-dasharray:19.6 99"/><use href="#p25a" style="stroke:#ff5900;stroke-width:1.1;stroke-dasharray:23.8 99"/><use href="#p25b" style="stroke:#ff8700;stroke-width:1.1;stroke-dasharray:26.1 99"/><use href="#p25c" style="stroke:#ffa200;stroke-width:1.1;stroke-dasharray:28.5 99"/>
<ellipse cx="1701.5" cy="137" rx="15.4" ry="15.4" fill="#ff2000" transform="rotate(0 1701.5 137)"/><path id="p26a" d="M1702.5 138.2Q1709.1 144.5 1714.7 153.6M1702.2 138.4Q1710.8 144.3 1711.1 156.1M1701.9 138.5Q1706.2 149.3 1708.3 162.4M1701 138.5Q1698.7 149.2 1693.2 160.4M1700.8 138.4Q1697.5 149.1 1689.5 159.2M1700.5 138.1Q1694.5 148.5 1683.7 156.4M1700.1 137.7Q1690.4 146.4 1676.1 149M1700 137.1Q1689.1 140.6 1676.4 138.2M1700 136.7Q1691.5 129.5 1679.3 132.2M1700.1 136.3Q1689.8 133.1 1680.1 125.3M1700.3 136.1Q1694.1 125.2 1680.7 121.3M1701 135.5Q1694.9 129.4 1695.7 119.4M1702.4 135.8Q1712.5 127 1719.3 113.8M1702.7 136.1Q1712.4 134.6 1717.8 124.8M1702.8 136.2Q1708.6 125.1 1722.5 124.2M1702.9 137.7Q1706.4 141.1 1712.7 142.4M1702.2 138.4Q1702.9 146.8 1709.8 153.9M1700.8 138.3Q1698 141.6 1696 147M1700.1 137.5Q1694.3 139.3 1687.3 142.2M1700 137.3Q1693.9 135.3 1687.6 139.8M1700 136.5Q1695.2 130.9 1686.5 131.9M1700.6 135.7Q1696 132.9 1694.1 126.3"/><path id="p26b" d="M1703 137.1Q1713 137.5 1724.5 139.2M1702.9 137.6Q1716 136.2 1726.3 146.6M1702.8 137.9Q1710.8 145.7 1722 151.6M1702.6 138.1Q1709.8 149.4 1721.9 158.2M1701.8 138.5Q1705.6 150.1 1707.5 163.8M1700.8 138.4Q1700.2 146.9 1693.3 154M1700 137.4Q1687.6 143.6 1672.3 144.6M1700 137.2Q1690 140.4 1678 140.4M1700.1 136.5Q1690.3 128.8 1676.4 127.5M1700.1 136.4Q1688.8 133.6 1677.5 127M1700.8 135.6Q1695 125.6 1689.2 113.7M1700.9 135.6Q1692.8 126.5 1691.6 112.9M1701.3 135.5Q1695.6 124.3 1698.5 110.6M1701.6 135.5Q1702.1 125.3 1703.3 113.6M1701.7 135.5Q1709.4 124.6 1705.8 110.3M1702.4 135.7Q1704.1 120.8 1718.3 112.6M1703 136.9Q1712.4 138.7 1723 135.5M1701.1 138.5Q1702 145.6 1697.6 152.9M1700.6 138.3Q1699.1 143 1694.2 147.2M1700.4 138.1Q1696.1 139.7 1693 145M1702.4 135.8Q1704.7 131 1709.6 126.2M1702.8 136.2Q1706.6 133 1712.3 130M1703 137.1Q1709 137 1716.4 138"/><path id="p26c" d="M1703 137.4Q1712 142.1 1723.6 142.3M1703 137.4Q1712.7 147.2 1727.7 145M1702.9 137.7Q1710.5 149.7 1726.1 150.4M1702.3 138.3Q1714.9 145.7 1715.6 161.7M1701.6 138.5Q1703.2 150.7 1703.6 164.5M1701.5 138.5Q1698.5 147.7 1701.2 158.4M1701.1 138.5Q1693.4 146.7 1696.3 159.1M1700.6 138.3Q1691.7 144.2 1688.4 155.9M1700.3 137.9Q1688.8 142.9 1679.4 153.3M1700.2 137.8Q1686.8 139.6 1677.9 151.6M1700 137Q1687.6 133 1673.6 137M1700.5 135.9Q1696.6 123.7 1683.7 117.6M1700.6 135.8Q1699.1 127.8 1690.9 122.9M1701.3 135.5Q1699 128 1699.1 118.7M1701.9 135.5Q1709.3 126.5 1708.3 113.4M1702.2 135.6Q1702.4 122.3 1713.7 112.9M1702.5 135.9Q1714.8 131.7 1719.1 118.1M1702.9 136.4Q1710.2 133.3 1718.7 129.1M1703 136.6Q1711 131 1722.2 131.3M1703 136.7Q1710.1 134.2 1719.1 134M1702.6 138.1Q1704.4 143.3 1710.8 145.9M1702.2 138.4Q1709.5 144.1 1709.9 154.7M1701.7 138.5Q1706.1 143.7 1703.2 151.3M1700 136.8Q1694.8 136.3 1688.2 135M1700.2 136.2Q1697.4 131.7 1690.7 130.8M1700.4 135.9Q1698.2 132.4 1693.7 128.9M1701.1 135.5Q1698.7 131 1698.5 124.3M1701.3 135.5Q1699.8 132.3 1700 127.2M1701.7 135.5Q1705 128.6 1703.4 119.7M1702.1 135.6Q1702.2 127.6 1708.4 120.4M1702.9 136.4Q1709.1 133.5 1717 130.5M1703 136.7Q1707.4 135.7 1713.3 134.7M1703 137.3Q1710.5 134.2 1717.8 140.2"/><use href="#p26a" style="stroke:#ff8c00;stroke-width:2.5"/><use href="#p26b" style="stroke:#ff7e00;stroke-width:2.5"/><use href="#p26c" style="stroke:#ff7000;stroke-width:2.5"/><use href="#p26a" style="stroke:#ff4500;stroke-width:3.2;stroke-dasharray:15.4 99"/><use href="#p26b" style="stroke:#ff1b00;stroke-width:3.2;stroke-dasharray:17.9 99"/><use href="#p26c" style="stroke:#fc0000;stroke-width:3.2;stroke-dasharray:20.3 99"/><use href="#p26a" style="stroke:#ff7400;stroke-width:1.1;stroke-dasharray:24.6 99"/><use href="#p26b" style="stroke:#ff9d00;stroke-width:1.1;stroke-dasharray:27.1 99"/><use href="#p26c" style="stroke:#ffac00;stroke-width:1.1;stroke-dasharray:29.6 99"/>
<ellipse cx="1352" cy="243" rx="8.2" ry="8.2" fill="#ff7500" transform="rotate(0 1352 243)"/><path id="p27a" d="M1352.6 243.5Q1357.9 246.2 1361.7 251.7M1351.5 243.7Q1346 247.1 1344.4 254.1M1351.2 243.2Q1346.5 247.9 1339.3 246.1M1351.5 242.4Q1344.4 239.4 1341.9 231.5M1351.6 242.3Q1344.8 238.2 1343.6 229.6M1352 242.2Q1353.7 238.5 1351.7 234.2M1352.3 242.2Q1350.7 234.9 1356.5 229M1352.6 242.5Q1354.2 239.2 1358.4 237.9M1352.7 242.6Q1357.9 242.6 1361.3 237.7M1351.7 243.8Q1350.2 246.6 1349.4 250.6M1351.2 243Q1348.7 243.2 1345.5 242.7M1351.3 242.5Q1347.3 241.9 1344.6 237.9"/><path id="p27b" d="M1352.4 243.7Q1358 247.4 1357.8 254.8M1351.9 243.8Q1351.2 248.4 1350.8 253.8M1351.7 243.8Q1351.1 249.2 1348 254.7M1351.2 243.3Q1347.6 246 1342.5 247.2M1351.2 243Q1345.5 245.1 1339.3 242.2M1352.8 242.9Q1359.7 241 1367.6 240.1M1352.2 243.8Q1353.3 245 1352.9 247.3M1351.3 243.5Q1349.5 247.6 1344.2 248.1M1352.3 242.2Q1352.6 239.5 1354.5 236.5M1352.8 242.8Q1356.6 241.1 1361.6 241.1"/><path id="p27c" d="M1352.8 243.2Q1358.2 243 1364 245.3M1352.7 243.4Q1355.7 248.1 1362.1 248.2M1352.2 243.8Q1354.4 248.1 1354.1 253.7M1351.4 243.6Q1348.2 247.8 1343.2 251.2M1351.2 242.7Q1348.1 242.6 1344.9 240.4M1351.8 242.2Q1351.8 237.7 1348.9 233.2M1352.4 242.3Q1353.1 239.4 1355.3 236.5M1352.7 243.5Q1355.9 243.6 1357.7 247.2M1351.6 242.3Q1350.5 240.2 1349 237.4M1352 242.2Q1351.7 240.5 1351.9 237.9M1352.8 242.9Q1356.2 243.5 1360.3 242.5"/><use href="#p27a" style="stroke:#ffae00;stroke-width:2.1"/><use href="#p27b" style="stroke:#ffaa00;stroke-width:2.1"/><use href="#p27c" style="stroke:#ffa500;stroke-width:2.1"/><use href="#p27a" style="stroke:#ff9700;stroke-width:2.7;stroke-dasharray:8.2 99"/><use href="#p27b" style="stroke:#ff7100;stroke-width:2.7;stroke-dasharray:9.6 99"/><use href="#p27c" style="stroke:#ff4a00;stroke-width:2.7;stroke-dasharray:10.9 99"/><use href="#p27a" style="stroke:#ffa700;stroke-width:1;stroke-dasharray:13.2 99"/><use href="#p27b" style="stroke:#ffb500;stroke-width:1;stroke-dasharray:14.5 99"/><use href="#p27c" style="stroke:#ffc300;stroke-width:1;stroke-dasharray:15.8 99"/>
<ellipse cx="1355" cy="274" rx="17.8" ry="19.1" fill="#ff3000" transform="rotate(0 1355 274)"/><path id="p28a" d="M1356.6 274.5Q1368.4 278.3 1381.7 282.8M1356.4 274.8Q1362.7 284.9 1376.1 285.7M1356.4 275Q1364.5 279 1372.4 286.3M1356.2 275.2Q1365.7 281.8 1373.7 292.3M1354.6 275.7Q1348.3 283.6 1349.7 295.2M1354.5 275.6Q1345.3 285.3 1346.4 300.1M1354.2 275.5Q1344.5 282.1 1344.2 295.4M1354 275.4Q1349.6 285.5 1340.6 294.3M1353.8 275.2Q1344.2 278.6 1339.5 289.2M1353.6 274.8Q1342.9 281.5 1329.9 287.5M1353.5 274.6Q1344.3 281.3 1331.6 283.9M1353.4 274.2Q1342 269.9 1330.1 276.5M1353.5 273.2Q1344.1 267.2 1332.2 262.3M1353.6 273.1Q1344.5 271.1 1337.7 262.5M1353.9 272.8Q1350.9 260.2 1337.6 254.7M1354.2 272.5Q1342 264.1 1341.6 247.7M1355.4 272.3Q1358.9 262.6 1360.9 250.8M1355.6 272.4Q1356 260.9 1364.4 250.7M1355.9 272.6Q1368.7 266.4 1369.7 250.7M1356 272.6Q1371.2 265.6 1373.3 247.5M1356.2 272.9Q1371.2 269.6 1377.4 254.1M1356.4 273.1Q1368.4 268.5 1379.3 259M1356.5 273.3Q1363.5 265.7 1375.3 265M1356.6 273.9Q1368.5 276.5 1381.5 272.4M1356 275.4Q1356.1 283.1 1364.4 287.1M1355.7 275.6Q1358.2 284.2 1363.7 293.3M1354.8 275.7Q1355.4 280.5 1353.4 286.7M1354.3 275.6Q1355.3 281 1349.9 285.5M1353.9 275.3Q1346.9 279 1343.6 288.1M1353.4 273.6Q1346.3 272.5 1338 269.6M1354.4 272.4Q1352.8 268.3 1350.8 262.4M1355.2 272.3Q1353.9 265 1357.2 256.6M1355.9 272.6Q1358.8 270.4 1360.4 265.5M1356.2 272.9Q1362.6 269.6 1367.5 262.3M1356.6 274.3Q1363.3 273.6 1371.1 276.5"/><path id="p28b" d="M1356.6 274.2Q1367 276.4 1379.3 277.7M1356.5 274.6Q1367 279.5 1379.8 283.1M1356.2 275.1Q1361 286.5 1374.2 291M1355.4 275.7Q1351.1 289.3 1360.9 301.6M1354.9 275.7Q1352.4 285.6 1353.3 297.5M1354.7 275.7Q1352.7 286.1 1350.5 298.3M1353.7 275Q1347.3 288.2 1331.4 291.1M1353.4 273.6Q1340.9 276.3 1329.8 267.3M1354 272.6Q1348.4 260.7 1337.5 250.7M1355 272.3Q1350 264.6 1354.5 254.8M1355.7 272.4Q1361.9 259.3 1368.3 244.4M1356.2 272.8Q1366.7 262.7 1378 251.1M1356.4 273.2Q1363.6 263.2 1377.3 261.4M1356.5 273.5Q1366.7 263.9 1382.1 265M1356.6 273.7Q1367.7 272.7 1380.2 269.7M1356.4 274.8Q1362.6 275.8 1368 281.4M1356.3 275.1Q1360.3 277.4 1364.6 282M1355.5 275.7Q1355 283.4 1359.9 291.4M1355 275.7Q1354.8 281.5 1354.8 289.1M1353.6 274.8Q1348.9 276.2 1344 280.3M1353.4 273.9Q1348.2 272.5 1341.4 273.4M1354.8 272.3Q1349.9 264.9 1352.9 254.9M1355.7 272.4Q1356.6 264.9 1362.3 257.6M1356.4 273.2Q1358.9 269.4 1364.9 268.5"/><path id="p28c" d="M1356.6 274.1Q1368.3 271 1381.3 274.9M1356 275.3Q1367.8 283.1 1373.2 297.9M1355.9 275.4Q1367.7 284.4 1371.9 300.2M1355.7 275.6Q1362.9 289.2 1368.3 305.5M1355.6 275.6Q1363.5 287.5 1364.9 303.3M1355.2 275.7Q1352 285.7 1357.3 296.6M1355.1 275.7Q1350 289.4 1357.1 304.1M1354.1 275.4Q1344.5 282.8 1340.3 295.8M1353.8 275.1Q1347.5 286.7 1334.1 293M1353.4 274.4Q1343.8 277.4 1332.4 279.8M1353.4 274.2Q1340.3 281.5 1324.3 277.6M1353.4 273.8Q1342.1 266.2 1327.8 271.3M1353.4 273.8Q1341.6 267.8 1327 269.7M1353.5 273.3Q1337.7 272.9 1325.9 260.3M1353.8 272.8Q1344.3 266.4 1336.1 256M1354.1 272.6Q1346.8 266.1 1342.9 255.4M1354.4 272.4Q1351.5 264.6 1347.7 255.3M1354.5 272.3Q1353.6 259.7 1347.1 246.8M1354.7 272.3Q1349.8 264.3 1351.5 253.4M1355 272.3Q1360.3 262 1355.2 250M1355.2 272.3Q1362 261.6 1357.6 248.1M1353.9 275.2Q1351.9 277.2 1349 280.5M1353.5 274.6Q1349 276.8 1342.9 279.2M1353.4 274.3Q1349.2 278.2 1342.2 276.5M1353.5 273.3Q1349.4 272.9 1345 269.3M1353.7 273Q1347 271.2 1342.3 264.1M1354.1 272.5Q1348 269.3 1347.3 260.8M1354.7 272.3Q1356.7 268.7 1353.2 264.4M1356.5 273.3Q1363.2 273.3 1368.9 267.4M1356.6 273.9Q1363.9 277.9 1372.2 272.8M1356.6 274.5Q1361 276 1367 277.9"/><use href="#p28a" style="stroke:#ff9e00;stroke-width:2.5"/><use href="#p28b" style="stroke:#ff9800;stroke-width:2.5"/><use href="#p28c" style="stroke:#ff8800;stroke-width:2.5"/><use href="#p28a" style="stroke:#ff5900;stroke-width:3.2;stroke-dasharray:16.8 99"/><use href="#p28b" style="stroke:#ff2b00;stroke-width:3.2;stroke-dasharray:19.5 99"/><use href="#p28c" style="stroke:#fe0000;stroke-width:3.2;stroke-dasharray:22.1 99"/><use href="#p28a" style="stroke:#ff8d00;stroke-width:1.1;stroke-dasharray:26.8 99"/><use href="#p28b" style="stroke:#ffa600;stroke-width:1.1;stroke-dasharray:29.5 99"/><use href="#p28c" style="stroke:#ffb800;stroke-width:1.1;stroke-dasharray:32.2 99"/>
<ellipse cx="1440" cy="257.5" rx="17.9" ry="19.8" fill="#ff2700" transform="rotate(0 1440 257.5)"/><path id="p29a" d="M1441 259.1Q1448.5 267.3 1453.9 279.2M1441 259.2Q1447.1 266.5 1451.2 277.1M1440.6 259.4Q1445.8 269.1 1447.2 282M1440.4 259.4Q1448.6 271.9 1446.4 288.6M1439.5 259.4Q1430.6 270.6 1432.5 286.5M1439.1 259.2Q1436.1 274.7 1424.1 287.5M1438.5 258.7Q1429.7 270.4 1414.8 277.5M1438.4 258.3Q1428 267 1413.2 271.2M1438.3 258.2Q1424.7 257.5 1413.3 267.8M1438.2 257.7Q1425.6 267.3 1409.5 260.8M1438.2 257.5Q1426.3 259 1412.8 256.8M1438.3 257Q1429.5 246.8 1414.8 249.7M1438.3 256.8Q1428.2 251 1415.4 247.2M1438.7 256.1Q1423.1 250.8 1417.7 233.4M1439.9 255.5Q1442.2 243.8 1439.1 230.2M1440.2 255.5Q1447.6 246.7 1442.5 234.5M1440.5 255.6Q1442 242.7 1447 228.6M1441.1 255.9Q1442.7 242 1456.5 234.3M1441.2 256.1Q1449.6 249.2 1456.2 238.4M1441.8 257.2Q1451.6 249.4 1465.1 253.5M1441.5 258.6Q1444.9 265.2 1453.8 267.7M1441.3 258.9Q1444.5 263.8 1450.5 268.8M1441.1 259Q1446 266.2 1452.7 274.5M1440.5 259.4Q1440.4 265.2 1444.2 272M1440.3 259.5Q1437.7 265.1 1442 271.8M1439.3 259.3Q1434.4 267.7 1431.4 278.9M1438.9 259.1Q1432 263.2 1429.1 272.6M1438.5 258.5Q1433.8 264.9 1424.6 267.6M1438.8 256Q1431.1 250 1425.8 239.7M1440.2 255.5Q1436.8 244.8 1442.1 232.7M1441.4 256.3Q1447.5 255.3 1450.6 248M1441.7 256.8Q1448.8 256.3 1456.1 251.1M1441.8 257.5Q1447.2 254.3 1454.4 257.4M1441.7 258.2Q1445.6 263.4 1453.8 263.3"/><path id="p29b" d="M1441.8 257.6Q1453.1 251.8 1465.3 259.3M1441.8 257.8Q1452.9 260.3 1466 262.2M1441.7 257.9Q1455.8 260.2 1471.2 264.8M1441.5 258.6Q1453 264.6 1463.1 275.4M1440.8 259.3Q1440.1 273.7 1451.8 284.8M1440.2 259.5Q1442.3 271.4 1442.2 285.4M1439.4 259.4Q1431.8 269.6 1431.5 284.3M1438.4 258.5Q1428.3 270.6 1411.5 275.6M1438.3 258Q1429.9 264.1 1417.9 263.6M1438.2 257.7Q1424.9 263.4 1408.9 260.5M1438.2 257.2Q1426.3 258.2 1413.5 253.1M1438.4 256.6Q1426.8 249.1 1412.8 242.2M1438.6 256.3Q1421.9 252.7 1413.4 235.9M1438.8 256.1Q1431.7 249.6 1425 240.3M1439 255.8Q1431.7 243.4 1423.6 229.3M1439.2 255.7Q1428.4 244.3 1426.2 226.8M1440.1 255.5Q1448.3 242.2 1440.9 226.4M1440.5 255.6Q1438.8 240.4 1449 226.5M1440.8 255.7Q1443.4 246.5 1449.5 236.9M1440.9 255.8Q1447.4 244.3 1454.9 231.1M1441.3 256.2Q1452.8 248.8 1462 236.3M1441.7 256.9Q1456 256.2 1469.2 247.1M1441.7 257Q1454.9 251 1471 249.1M1440.9 259.2Q1448.4 263.2 1448.6 273.3M1439.7 259.4Q1434.8 267.5 1436.6 278.7M1439.5 259.4Q1439.7 263.2 1436.9 268.2M1438.3 258.1Q1431.9 261.9 1422.7 263.4M1438.2 257.9Q1429.3 255.5 1420.4 261.5M1438.2 257.3Q1433.6 253.8 1426.7 256.2M1438.7 256.1Q1436.2 252.1 1430.9 248M1439.5 255.6Q1440.5 248.6 1435.9 240.9M1439.9 255.5Q1438.8 247.7 1439 237.8M1441.6 256.6Q1446.6 248.3 1457.8 246.9"/><path id="p29c" d="M1441.7 258.2Q1450.3 268.5 1465.4 267.6M1441.6 258.4Q1455.3 261.6 1467.2 271.9M1441.6 258.4Q1453 262.1 1463.3 271.4M1441.3 258.8Q1449.7 264.6 1456.8 274.2M1441.2 258.9Q1445.4 269.9 1456.9 277M1440.3 259.5Q1442.1 270.7 1443.8 283.9M1439.9 259.5Q1444.6 270.6 1439.3 283.5M1439.8 259.5Q1441.8 271 1437.2 283.9M1439.2 259.3Q1437.8 271.2 1429.4 282.2M1439 259.1Q1428.6 266.9 1424.5 281.1M1438.8 259Q1431.5 273.4 1417.9 285.2M1438.7 258.9Q1432.5 274 1416.8 283.1M1438.4 256.5Q1430.6 241.7 1412.3 240.4M1438.9 255.9Q1430.4 243.3 1420.4 229.4M1439.4 255.6Q1436.9 242.1 1430 227.9M1439.5 255.6Q1437.9 239.2 1431.2 222M1439.7 255.5Q1440.4 243.6 1436.1 230.4M1441.4 256.3Q1452.9 250.8 1461.5 239.1M1441.5 256.5Q1448.6 249 1459.8 244.7M1441.6 256.6Q1457 253.9 1468.8 241.2M1441.8 257.3Q1455.8 257.5 1471.3 254.4M1438.5 258.6Q1432.1 258.9 1428.5 266.1M1438.3 257Q1431.2 258.2 1423.8 253.2M1438.4 256.7Q1429.6 255.2 1421.7 248M1439.3 255.7Q1432.2 249.2 1432.3 237.9M1440.4 255.6Q1440.1 247.9 1444 239.1M1441 255.8Q1441.3 250.5 1446.7 245.9M1441.2 256.1Q1442.9 250.2 1449.7 246.3M1441.8 257.9Q1447.3 257.2 1453.7 260.6"/><use href="#p29a" style="stroke:#ff9800;stroke-width:2.5"/><use href="#p29b" style="stroke:#ff8900;stroke-width:2.5"/><use href="#p29c" style="stroke:#ff7a00;stroke-width:2.5"/><use href="#p29a" style="stroke:#ff4e00;stroke-width:3.2;stroke-dasharray:18.8 99"/><use href="#p29b" style="stroke:#ff2200;stroke-width:3.2;stroke-dasharray:21.9 99"/><use href="#p29c" style="stroke:#fd0000;stroke-width:3.2;stroke-dasharray:24.9 99"/><use href="#p29a" style="stroke:#ffa100;stroke-width:1.1;stroke-dasharray:30.1 99"/><use href="#p29b" style="stroke:#ff7f00;stroke-width:1.1;stroke-dasharray:33.2 99"/><use href="#p29c" style="stroke:#ffb100;stroke-width:1.1;stroke-dasharray:36.2 99"/>
<ellipse cx="1521" cy="259" rx="4.7" ry="4.7" fill="#00eb00" transform="rotate(0 1521 259)"/><path id="p30a" d="M1522.1 259.3Q1525.6 262.7 1531.3 261.6M1522 259.6Q1529.2 266.5 1539.9 269.3M1521.8 259.9Q1525.1 268.3 1533.7 273.7M1520.1 259.7Q1511.5 266 1502.2 273.3M1520 259.7Q1511.9 261 1507 268.8M1519.9 259.5Q1511.5 261.7 1503.1 266.9M1520 258.4Q1512.8 256.6 1507.1 250.1M1520.3 258.1Q1517.8 250.1 1509.9 245M1520.6 257.9Q1516.4 249.5 1514.7 239.1M1521 257.8Q1523.9 249.1 1521.5 239.1M1521.5 257.9Q1521.9 250.4 1527.4 243.7M1522 258.3Q1529.2 257.1 1533.7 250M1521.8 259.8Q1524.5 261.9 1527.5 265.4M1520.4 260Q1518.8 261.6 1517.5 264.8M1520 258.3Q1518.4 256.8 1515.5 254.9M1520.7 257.9Q1519.4 253.7 1517.8 248.4"/><path id="p30b" d="M1522.2 259Q1528.6 255.7 1536.1 259.3M1521.5 260Q1522.1 264.4 1525.9 268.4M1521.2 260.2Q1524.9 266.6 1523.9 275.1M1521.1 260.2Q1521.8 269 1522.8 278.9M1520.7 260.1Q1518.5 267.5 1516.7 276.2M1520.6 260.1Q1513 266.9 1513.5 278.1M1519.8 258.8Q1510.5 261.6 1501 256.3M1519.9 258.6Q1511.2 260.4 1504.5 253M1520.1 258.3Q1512.5 255.2 1506.6 248M1520.4 258Q1520.9 247.9 1511.6 241.9M1521.2 257.8Q1522 250.2 1523.3 241.3M1521.7 258Q1528.7 253.4 1531 244.1M1522.1 258.6Q1528.5 257 1535.2 253.2M1522.2 258.8Q1529.5 256.8 1538.2 255.9M1521.6 260Q1521.5 265.9 1526.9 270M1521 260.2Q1522.8 262.9 1521.3 266.9M1520.7 260.1Q1520 266 1516.9 272.3M1519.9 259.5Q1517.3 261.8 1512.6 262.7M1521.5 257.9Q1524.1 255.5 1524.5 250.9M1521.9 258.2Q1525 257.5 1527.1 253.7M1522.2 258.8Q1525.8 260.3 1530.1 257.7M1522.2 259.3Q1526.1 259.8 1531 261.3"/><path id="p30c" d="M1521.8 259.8Q1531.7 263.3 1536 274.1M1520.4 260Q1519.4 265 1514.6 269M1519.8 259.1Q1514.9 261.1 1508.4 260.4M1521.9 258.2Q1529.2 255.7 1533.4 248M1519.8 259.1Q1516.1 256.7 1511.3 259.4M1520 258.4Q1517.1 257.4 1513.7 255M1521.1 257.8Q1520.8 255.6 1521.8 252.4"/><use href="#p30a" style="stroke:#00b300;stroke-width:1.3"/><use href="#p30b" style="stroke:#00ba00;stroke-width:1.3"/><use href="#p30c" style="stroke:#00c200;stroke-width:1.3"/><use href="#p30a" style="stroke:#00d800;stroke-width:1.7;stroke-dasharray:11.8 99"/><use href="#p30b" style="stroke:#00ee00;stroke-width:1.7;stroke-dasharray:13.7 99"/><use href="#p30c" style="stroke:#1bff00;stroke-width:1.7;stroke-dasharray:15.6 99"/><use href="#p30a" style="stroke:#00bf00;stroke-width:0.7;stroke-dasharray:18.9 99"/><use href="#p30b" style="stroke:#009e2a;stroke-width:0.7;stroke-dasharray:20.8 99"/><use href="#p30c" style="stroke:#00a700;stroke-width:0.7;stroke-dasharray:22.7 99"/>
<ellipse cx="1626" cy="261" rx="17.5" ry="19.1" fill="#ff3200" transform="rotate(0 1626 261)"/><path id="p31a" d="M1627.5 261.5Q1639.3 262.6 1650.7 269.6M1627.1 262.3Q1636 270.3 1643.6 281.7M1626.9 262.4Q1630.1 272.1 1638.1 280.8M1625.7 262.7Q1629.3 273.6 1621.8 284.3M1625.5 262.6Q1620.5 272.2 1618.3 284.5M1625.4 262.6Q1622.1 275.1 1615.4 288M1625 262.4Q1620.6 269.6 1614.3 277.6M1624.9 262.2Q1613.1 265.5 1609.7 278.8M1624.4 260.8Q1615.3 258 1604.1 257.9M1624.4 260.6Q1613.6 251.7 1598.4 254.3M1624.5 260.5Q1615.9 255.2 1604.3 253.3M1624.6 260.2Q1612.6 254.3 1600 246.1M1624.6 260.1Q1620.1 250.3 1608 248.9M1624.8 259.8Q1613.3 256 1608.7 243.2M1625 259.7Q1618.7 249.5 1609.3 239.5M1625 259.6Q1617.5 251.1 1611 239.8M1625.4 259.4Q1617.8 250.9 1616.7 238M1626.7 259.4Q1630.1 251.1 1634.8 241.5M1627.5 260.5Q1635.9 260.8 1643.9 254.8M1627.6 261Q1638.9 262.6 1651.7 260.9M1626.3 262.7Q1626.5 269.5 1628.5 277.8M1625.7 262.7Q1624.7 269.6 1623.2 278.1M1625.6 262.7Q1626.7 271.7 1621.4 281M1625.4 262.6Q1620.1 266.8 1620.4 275.1M1624.5 261.5Q1619.2 264.1 1611.8 265.2M1624.6 260.2Q1622.4 255.9 1616.2 255.5M1627.1 259.7Q1629.3 252.3 1637.3 247.4"/><path id="p31b" d="M1627.6 261.2Q1636.3 264.5 1647.2 263.3M1627.6 261.4Q1639.3 259.9 1650.6 267M1627.5 261.7Q1637.9 267.1 1650.2 272.5M1627.4 261.8Q1632.9 271.7 1645.5 272.4M1626.9 262.4Q1627.1 279 1642.7 288M1626.7 262.6Q1626.7 278.7 1638.7 291.8M1626 262.7Q1630.2 275.6 1625.6 290.1M1625.6 262.7Q1624.6 270.5 1621.9 279.8M1624.7 262Q1614.4 268.8 1603.8 277.8M1624.7 261.9Q1617.1 271.4 1604.3 276.2M1624.5 261.6Q1610.6 259.8 1599.8 270.8M1624.5 261.4Q1612.3 258.5 1601.6 267.5M1624.4 261Q1611.7 258.5 1597.3 261.2M1624.7 260Q1615 258.8 1610.4 248.6M1625.4 259.4Q1626.1 245.6 1615.9 234.2M1626.3 259.3Q1628.3 245.5 1631.7 230.2M1626.5 259.3Q1633.4 245.9 1635 229.2M1626.9 262.4Q1629.7 267.4 1633.8 273.6M1626.4 262.7Q1631.8 268.3 1629.9 277.5M1624.9 262.3Q1616.2 264.8 1613.9 275.1M1624.7 262Q1620.8 263.2 1617.1 267.4M1624.6 261.7Q1618.8 267.3 1609.6 269.6M1624.4 261.2Q1617.2 266.4 1607.2 263.9M1624.5 260.5Q1618.1 261.7 1612.1 256.4M1624.9 259.8Q1617.1 256.7 1613.9 247.4M1625.2 259.5Q1624.1 253.4 1618.9 247.4M1625.6 259.3Q1623.4 254.6 1622.5 247.8M1625.8 259.3Q1625 255 1624.8 249M1626.1 259.3Q1626.4 250.8 1627.2 240.5M1626.5 259.4Q1625.1 254.7 1629.4 250M1627.2 259.9Q1635.2 258 1639.4 249.2M1627.4 260.2Q1631.7 253.6 1641 253M1627.5 260.6Q1632 257.7 1638.8 257.4M1627.5 261.5Q1631.2 264.9 1637.6 264.9"/><path id="p31c" d="M1627.6 261Q1638 256.3 1649.9 261.3M1627.3 262.1Q1633.7 270.3 1644.2 276.2M1627.2 262.2Q1637.4 270.5 1646.6 282.2M1626.5 262.7Q1632.4 273.8 1633.8 288.1M1626.4 262.7Q1624 277.7 1633.4 291.6M1626.2 262.7Q1631.9 272.3 1628.9 284.6M1626.1 262.7Q1621.1 274.8 1627.2 288.1M1625.2 262.5Q1619.4 269.1 1617 279.3M1624.8 262.1Q1615 268.7 1606.6 279.1M1624.6 261.8Q1613.9 261.2 1607.3 271.5M1624.4 261.3Q1616.1 265.5 1605.2 264.3M1624.4 260.9Q1612.8 260.5 1599.6 258.8M1625.2 259.5Q1617.9 251.1 1614.2 238.9M1625.6 259.3Q1628.4 244.8 1619.6 230.9M1625.7 259.3Q1630.4 247.8 1622.4 236.4M1625.9 259.3Q1618.2 247.1 1624.1 232.3M1626.1 259.3Q1621.4 249.2 1627.1 237.9M1626.2 259.3Q1632.6 246.1 1629.1 230.2M1626.8 259.5Q1627.2 245.4 1639.5 235.8M1627 259.6Q1632.4 247.4 1643.3 237M1627 259.7Q1634.3 247.7 1645.4 236.5M1627.2 259.9Q1635.7 250.5 1646.9 241.6M1627.3 260Q1633.4 248.5 1647.3 244.3M1627.4 260.1Q1637.5 254.1 1648.5 246.3M1627.4 260.2Q1635.2 250.2 1649.3 248.4M1627.6 260.6Q1635.2 256.2 1645.7 256.6M1627.6 260.7Q1636.6 261.5 1646.5 257.4M1627.3 262Q1636.6 264.9 1643.6 273.7M1627.1 262.2Q1631.9 266.5 1637.1 272.7M1626.9 262.5Q1634.2 265.9 1634.6 275.5M1624.4 260.7Q1619.9 261.4 1614.3 259M1624.7 260Q1619.9 258.5 1615.9 253.3M1626.9 259.5Q1626.9 253.6 1632.9 249.3M1627.6 261Q1633.7 263.1 1641.2 260.6M1627.6 261.2Q1632.4 264.9 1639.4 262.5"/><use href="#p31a" style="stroke:#ff9b00;stroke-width:2.5"/><use href="#p31b" style="stroke:#ff9200;stroke-width:2.5"/><use href="#p31c" style="stroke:#ff8400;stroke-width:2.5"/><use href="#p31a" style="stroke:#ff5900;stroke-width:3.2;stroke-dasharray:16.6 99"/><use href="#p31b" style="stroke:#ff2e00;stroke-width:3.2;stroke-dasharray:19.3 99"/><use href="#p31c" style="stroke:#ff0300;stroke-width:3.2;stroke-dasharray:22 99"/><use href="#p31a" style="stroke:#ffb300;stroke-width:1.1;stroke-dasharray:26.6 99"/><use href="#p31b" style="stroke:#ffa300;stroke-width:1.1;stroke-dasharray:29.3 99"/><use href="#p31c" style="stroke:#ff8800;stroke-width:1.1;stroke-dasharray:31.9 99"/>
<ellipse cx="1721" cy="261" rx="16.9" ry="15.4" fill="#ff0500" transform="rotate(0 1721 261)"/><path id="p32a" d="M1722.5 261.1Q1734.3 257.4 1747.4 262M1722.5 261.4Q1729.2 268.9 1740.3 266.6M1722.3 261.8Q1731.8 265 1740 273M1722 262.1Q1728.4 271.5 1738.5 279.5M1721.6 262.3Q1725.8 273.5 1732.2 285.3M1721.1 262.4Q1721.3 271.7 1722.5 282.3M1720.9 262.4Q1723 270.1 1719.4 278.7M1720.5 262.3Q1718 268.6 1714.7 276.1M1720.1 262.1Q1717.7 271 1708.9 276.8M1719.6 261.7Q1708.5 264.8 1697.6 272.2M1719.5 260.8Q1707.2 258.3 1693.1 257.9M1719.8 260.2Q1712.9 255.8 1705.1 250.1M1719.9 260Q1714.8 253 1705.9 248.1M1720.2 259.8Q1715.2 253 1709.5 244.9M1720.3 259.7Q1720.4 249.9 1711.6 243.1M1720.6 259.6Q1720.5 251 1715.3 242.4M1721.3 259.6Q1721.6 249.6 1726.5 239.3M1722.5 260.6Q1734.9 262.5 1745.6 253.4M1722.2 261.9Q1727.1 263.4 1731.3 268.4M1721.7 262.2Q1728.4 266.8 1729.6 276.1M1720.2 262.2Q1719.3 269.2 1712.2 273.4M1719.5 261.1Q1713.9 264.2 1706.4 262.2M1719.5 260.8Q1714 256.1 1705.9 259M1720.1 259.8Q1716 257.5 1714 251.8M1721.8 259.8Q1724.4 254.9 1729 249.7M1722 260Q1723.7 253.7 1731 250.9M1722.4 260.5Q1725.7 256.8 1732 257M1722.5 260.7Q1725.9 259.6 1731 259.2M1722.5 261.3Q1728.6 263.8 1736.6 264.2"/><path id="p32b" d="M1722.3 261.7Q1732.8 270 1746.7 275.3M1722.1 261.9Q1726.3 274 1740 276.8M1721.8 262.2Q1727.7 271.5 1735.3 281.4M1721.4 262.4Q1730.2 271.1 1727.9 284.6M1721.2 262.4Q1726.3 272.5 1724.6 285.1M1720.8 262.4Q1714.9 272 1717 284.3M1720.6 262.4Q1720.1 269.8 1716 277.7M1720.2 262.2Q1712.9 268.3 1709.3 278.6M1720 262.1Q1708 266.2 1704.1 279.7M1719.8 261.9Q1711.5 265.3 1704.9 273.4M1719.7 261.8Q1713.6 268 1704 271.3M1719.6 261.5Q1708.8 263.8 1697.8 269.6M1719.5 260.9Q1708.5 255.5 1695.3 259M1719.7 260.3Q1714.7 251.8 1703.5 252M1720.3 259.8Q1714.5 253.7 1711.5 244.4M1720.7 259.6Q1724.6 248.1 1716.3 237.7M1720.9 259.6Q1717 249.6 1718.8 237.6M1721.8 259.8Q1722.2 248.6 1733.1 242.7M1721.8 259.8Q1728.9 252.9 1734 242.8M1722.4 260.4Q1731.3 255.9 1741.8 251.3M1722.4 261.6Q1727.4 263.7 1733.9 266.1M1721.2 262.4Q1721.8 265.7 1722.5 270.4M1721 262.4Q1721.1 266.2 1721 271.5M1720.7 262.4Q1722.3 269.3 1717.3 276M1719.6 261.6Q1712 261.4 1705.2 267.3M1719.9 260Q1719.2 256.4 1714.5 254.8M1720.3 259.7Q1719.4 255.7 1716 251.4M1720.6 259.6Q1714.6 254.4 1716.7 245.4M1721.5 259.7Q1724.5 255.9 1725.7 249.9"/><path id="p32c" d="M1722.5 261.2Q1733.1 258.9 1744.1 264.5M1722.4 261.5Q1731.8 263.2 1741.6 268.3M1721.8 262.2Q1721.8 273.9 1733.2 280.2M1719.5 261.5Q1707.3 259.9 1696.7 268.7M1719.5 261.2Q1709.6 266 1697.3 264.1M1719.5 261.1Q1709.6 260.2 1698.5 262.8M1719.5 260.6Q1709.2 255.9 1696.4 254.3M1719.6 260.5Q1712.5 254.6 1701.8 254.2M1720 259.9Q1715.7 251.5 1706.4 245.7M1721.2 259.6Q1725.2 250.5 1723.5 239.4M1721.3 259.6Q1725.5 250.5 1726.3 239.1M1721.6 259.7Q1724.1 250.5 1730.6 241.7M1722 259.9Q1725.7 251.7 1734.4 246.1M1722.2 260.1Q1729.2 252.9 1739.3 247.5M1722.3 260.2Q1730.3 252.9 1741.8 248.4M1722.4 260.5Q1729.7 255.4 1740 254.8M1722.5 260.7Q1731.4 254.3 1743.5 256.8M1722.5 261Q1732 260.8 1742.9 260.6M1721.9 262.1Q1722.9 270.6 1731.7 274.9M1720.1 262.1Q1717 268.5 1710.3 273.8M1719.8 261.9Q1717 265.8 1711.4 268.4M1719.6 260.5Q1715.8 257.4 1709.5 256.7M1719.6 260.4Q1715.9 255.2 1708.2 255.7M1721.2 259.6Q1722 252.1 1723.1 243.2M1722.3 260.2Q1728.9 259.6 1733.4 252.9M1722.5 261Q1729.2 262.2 1737.4 260.6"/><use href="#p32a" style="stroke:#ff6a00;stroke-width:2.5"/><use href="#p32b" style="stroke:#ff5d00;stroke-width:2.5"/><use href="#p32c" style="stroke:#ff5000;stroke-width:2.5"/><use href="#p32a" style="stroke:#ff2800;stroke-width:3.2;stroke-dasharray:14.7 99"/><use href="#p32b" style="stroke:#ff0000;stroke-width:3.2;stroke-dasharray:17.1 99"/><use href="#p32c" style="stroke:#f60000;stroke-width:3.2;stroke-dasharray:19.4 99"/><use href="#p32a" style="stroke:#ff9f00;stroke-width:1.1;stroke-dasharray:23.5 99"/><use href="#p32b" style="stroke:#ff8000;stroke-width:1.1;stroke-dasharray:25.9 99"/><use href="#p32c" style="stroke:#ff5400;stroke-width:1.1;stroke-dasharray:28.2 99"/>
<ellipse cx="1342.5" cy="356" rx="19.5" ry="16.5" fill="#ff2d00" transform="rotate(0 1342.5 356)"/><path id="p33a" d="M1344.4 356.1Q1354.9 354.7 1367 357.7M1344.4 356.3Q1360 351.8 1375.3 361.3M1344.1 357Q1352.9 364.7 1365.4 370.2M1343.4 357.5Q1353.4 364 1355.4 377.4M1343 357.6Q1349.7 368.4 1351.7 382.7M1341.3 357.3Q1329.7 364.5 1322.4 378.1M1340.8 356.9Q1327.8 356.4 1319 368.3M1340.6 356.5Q1329.8 359.6 1317.1 363.1M1340.6 355.8Q1327.6 360.3 1313.9 353M1340.8 355.1Q1325.3 350.9 1311 340M1341.6 354.5Q1335 348.8 1331.9 338.8M1342.5 354.4Q1336.7 342.8 1342.1 329.4M1342.5 354.4Q1347.7 343.1 1342.6 330.2M1342.9 354.4Q1344.5 342.4 1348.6 329.4M1343.1 354.4Q1344.3 339.5 1354.2 326.1M1343.9 354.8Q1355.7 350.5 1363.6 338.6M1344.3 355.5Q1353.3 348.2 1366.5 349.1M1344.5 356Q1353.4 353.6 1364.4 355.7M1343.8 357.2Q1351 359.4 1354.7 367.8M1341.7 354.5Q1333.5 350.5 1333.4 340M1341.9 354.4Q1342.1 351 1339 347.1M1342.9 354.4Q1339.4 344.2 1347.6 335.2M1343.3 354.5Q1346.6 348.2 1351 340.6M1344.3 355.3Q1353.1 355.7 1360.8 348.3M1344.5 356Q1349.6 352.9 1356.7 355.8"/><path id="p33b" d="M1344.4 356.4Q1353.3 361.7 1365.5 361.1M1344.3 356.7Q1359.5 354.5 1370.9 367.1M1343.9 357.2Q1355.4 363.8 1365.5 375.1M1343.6 357.3Q1347.6 366.2 1356.7 372.9M1342.7 357.6Q1341.9 368.5 1345.8 380.4M1342.7 357.6Q1339.1 371.2 1345.2 385.5M1342.4 357.6Q1345.7 367.3 1341.3 378.2M1341.9 357.6Q1330.3 367.4 1332.6 384M1341.5 357.4Q1340.7 371.6 1326.6 378.5M1341.1 357.2Q1335.1 367.4 1322.5 372.6M1340.8 356.8Q1331.4 368.1 1314.9 368.4M1340.6 356.4Q1329.4 363.8 1314.3 362.5M1340.6 356.3Q1328.1 350.6 1315.6 359.5M1340.6 355.5Q1330 347.8 1315.2 349.2M1340.7 355.4Q1326.6 352.9 1311.9 346.4M1340.8 355.2Q1331.9 343.2 1315.2 343M1341 355Q1328.4 353.1 1320.3 341.2M1341.9 354.4Q1336.2 346.3 1335 334.7M1343 354.4Q1351.1 344.3 1350.8 329.8M1343.8 354.7Q1351.1 341.7 1365.3 332.9M1344 355Q1351.8 343.7 1366.8 339.8M1344.4 355.7Q1356.9 348.3 1372.8 351.7M1343.3 357.5Q1348.2 360.5 1349.2 367.8M1342.9 357.6Q1349 364 1347.2 374.2M1341.5 357.4Q1338.5 363.1 1333.4 369.3M1341.1 357.2Q1335.7 359.7 1331 365.9M1340.6 355.7Q1331.2 356.2 1320.3 352.9M1344.4 356.3Q1353.6 358.7 1365 360"/><path id="p33c" d="M1344.3 356.6Q1357.3 361.3 1372.2 366.1M1344.1 356.9Q1353.1 366.6 1367.6 370.1M1343.8 357.2Q1354 363.1 1361.5 374.4M1343.2 357.5Q1343.3 367.7 1352.1 375.5M1342.3 357.6Q1333.3 368.6 1338.7 383.3M1341.8 357.5Q1334.9 363.7 1333.5 374.4M1341.6 357.5Q1329.3 364.5 1327.7 380.1M1341 357.1Q1328 360.1 1319.9 372.8M1340.6 356.1Q1326 361.3 1308.9 358.2M1340.5 356Q1327.6 356.8 1312.7 355.6M1341.2 354.8Q1331.4 345.3 1320.1 335M1341.2 354.8Q1332.6 349.3 1325.7 339.5M1341.5 354.6Q1337.5 345.2 1328.8 337.1M1341.7 354.5Q1337.3 345.8 1332.1 335.6M1342.2 354.4Q1333.9 344 1338.2 329.9M1343.4 354.5Q1354.7 344.8 1358.5 328.7M1343.5 354.6Q1346.4 343.9 1356.7 336.6M1344.1 355.1Q1355.7 350.7 1366.9 342.1M1344.3 355.3Q1355.7 347.2 1371.4 345M1344.4 355.6Q1355.8 346.6 1372 348.9M1344.3 356.7Q1348.3 356.8 1353.2 359.9M1343.8 357.2Q1345.9 363.2 1353.4 365.7M1342.5 357.6Q1346.5 365 1342.4 374M1342.1 357.6Q1339.5 365.3 1337.9 375M1341.9 357.6Q1340.4 363.8 1336.7 370.9M1340.9 356.9Q1333.2 361.7 1323.5 366.4M1340.6 356.4Q1334.7 357.7 1327 359.6M1340.6 356.3Q1334.2 356.9 1325.9 358.3M1340.6 355.6Q1333.6 353 1324.1 352.5M1340.7 355.3Q1335.7 350.2 1326.7 349.7M1341 355Q1337.6 348.1 1328.4 346.6M1341.2 354.8Q1334.9 353 1331.4 345.6M1342.4 354.4Q1344.8 348.9 1341.8 342M1343.6 354.6Q1348.8 346.9 1356 338.6M1344 354.9Q1350.6 351.8 1356.9 345.1M1344.3 355.3Q1352 351 1362.4 348.2M1344.5 356Q1349.7 357.2 1357 356"/><use href="#p33a" style="stroke:#ffa900;stroke-width:2.5"/><use href="#p33b" style="stroke:#ffa200;stroke-width:2.5"/><use href="#p33c" style="stroke:#ff9b00;stroke-width:2.5"/><use href="#p33a" style="stroke:#ff6300;stroke-width:3.2;stroke-dasharray:18 99"/><use href="#p33b" style="stroke:#ff2600;stroke-width:3.2;stroke-dasharray:20.9 99"/><use href="#p33c" style="stroke:#fa0000;stroke-width:3.2;stroke-dasharray:23.8 99"/><use href="#p33a" style="stroke:#ffca00;stroke-width:1.1;stroke-dasharray:28.8 99"/><use href="#p33b" style="stroke:#ffb400;stroke-width:1.1;stroke-dasharray:31.7 99"/><use href="#p33c" style="stroke:#ff9d00;stroke-width:1.1;stroke-dasharray:34.6 99"/>
<ellipse cx="1427.5" cy="356" rx="20.1" ry="22.1" fill="#fe0000" transform="rotate(0 1427.5 356)"/><path id="p34a" d="M1429.1 356.7Q1444.7 357.7 1457.9 368.8M1429 356.7Q1441.2 359 1452.1 367.8M1428.6 357.4Q1435.8 367.4 1444.3 378.6M1428.4 357.6Q1434.7 368.9 1441.6 382M1427.8 357.8Q1425.2 371.4 1433 385M1427.7 357.8Q1427.8 372.2 1431.2 388M1427.5 357.8Q1431 372.6 1427.6 389.2M1427.2 357.8Q1429.1 373.7 1421.5 389.8M1426.7 357.6Q1416.9 366 1415 380.5M1426.6 357.6Q1424 367.4 1416 376.2M1426.3 357.3Q1418.3 369.3 1405.3 378.9M1425.9 356.4Q1414.7 364.3 1399.5 363.3M1425.9 355.5Q1412.4 356.7 1400.4 347.7M1426.4 354.6Q1417 343.6 1407.2 330.6M1426.4 354.6Q1413.2 346.2 1408 329.6M1427.8 354.2Q1430.6 342 1432.5 327.8M1427.9 354.2Q1437.4 344.8 1433.7 330.3M1428.3 354.4Q1436.8 343.4 1440.9 328.3M1428.4 354.4Q1434.6 344.3 1441.1 332.4M1428.5 354.5Q1436.4 345.9 1442 333.8M1428.7 354.7Q1434 345.4 1444 337.9M1429 355.2Q1442.1 353.7 1452.3 342.9M1429.1 355.6Q1441.4 357.7 1453 349.9M1429.2 355.8Q1443.1 357.6 1458 352.5M1428.8 357.2Q1437.4 358.4 1440.9 367.9M1428.5 357.5Q1431.6 361.3 1434.8 367.2M1428.2 357.7Q1435 362.8 1435 373M1427 357.8Q1419.1 366.2 1421.6 379.2M1426.2 357.1Q1420 362 1412.8 368.2M1426.1 357Q1418.8 359.8 1412.5 366.9M1425.9 355.4Q1419.9 355 1413.8 350.5M1429.1 355.6Q1436.1 352.5 1445.4 351.3M1429.2 356.1Q1435.4 355 1443.2 356.6"/><path id="p34b" d="M1428.7 357.2Q1438.3 366 1448.4 376.7M1428.2 357.7Q1432.7 364.5 1434.9 374.3M1428 357.8Q1424.5 372.1 1435.4 384.3M1427.3 357.8Q1427.7 368.1 1424.5 379.8M1426.9 357.7Q1415.3 368.3 1417.1 385.5M1426.3 357.3Q1416.6 366.1 1408.1 378.2M1426.1 357Q1412.1 361 1402.3 373.9M1425.8 356.3Q1414.5 365 1399.4 360.3M1425.8 356.1Q1415.2 352.3 1403.5 357.6M1425.9 355.3Q1420.1 348.7 1409.6 348.2M1426.2 354.9Q1416.6 351.5 1410 341.7M1426.2 354.8Q1418.5 348.5 1410.8 339.8M1426.6 354.4Q1422.1 344.8 1415.3 334.4M1426.7 354.4Q1422.6 339.7 1412.2 326.3M1426.9 354.3Q1425.9 343.3 1419.7 332.2M1427.2 354.2Q1432.5 339.7 1423.1 325.5M1427.6 354.2Q1433.5 341.9 1429.3 327.1M1428.1 354.3Q1427.2 343.9 1434.5 334.3M1428.8 354.8Q1437.7 346.9 1447 336.9M1428.8 354.9Q1443.7 352 1450.5 336.9M1429.1 355.3Q1445.2 357.2 1456.4 343.4M1427.7 357.8Q1432.1 364.3 1429.4 373.3M1426.9 357.7Q1426.2 364.7 1421.8 372.2M1426 356.7Q1417.9 359.5 1409 364.5M1426.1 354.9Q1424.1 348.1 1415.6 346.7M1427.7 354.2Q1424.4 348.5 1429 341.8M1428.1 354.3Q1428.3 348.2 1432.8 341.9M1428.3 354.4Q1432.3 350.6 1433.9 343.4M1429.2 355.9Q1435.3 358.5 1442.8 355.2M1429.1 356.6Q1436.7 366.1 1450.3 364.2"/><path id="p34c" d="M1429.2 356.1Q1442 356.6 1456.5 357.6M1429.2 356.2Q1441.5 356.5 1455.2 359.5M1429.1 356.4Q1439.3 357.9 1450.6 361.8M1429 356.9Q1437 365 1449.2 369.8M1428.9 357.1Q1436.8 368.5 1451.3 374.2M1428.6 357.4Q1440.1 362.4 1443.8 376.1M1428.3 357.6Q1431.8 368 1438.8 378.6M1427.1 357.8Q1420.9 370.1 1420.8 385.6M1426.5 357.5Q1422.3 371.5 1409.5 381.7M1426.1 356.9Q1419.4 366.4 1406.5 369.5M1426 356.8Q1416.3 361.3 1405.4 367M1425.9 356.6Q1415.3 365 1400.3 366.4M1425.8 355.9Q1418.3 359.7 1409.4 355.2M1425.8 355.7Q1417.3 355 1407.2 352.7M1425.9 355.3Q1414.7 354.3 1404.7 345.9M1426 355.1Q1419.4 344.2 1405.2 343M1427 354.2Q1426.5 340.3 1419.5 326.3M1427.3 354.2Q1435.5 337.9 1424.6 321.4M1427.4 354.2Q1428.6 341.6 1426.7 327.3M1429 355.1Q1436.6 342.1 1453.2 340.6M1429.2 355.9Q1439.7 359.9 1451.6 355M1429 356.9Q1431.6 362.3 1439.1 363.3M1428.1 357.7Q1430.1 364.8 1433.4 373.3M1427.4 357.8Q1424.8 365.2 1426 374.7M1426.5 357.5Q1420.9 363.1 1417.2 372M1425.8 356.2Q1422.1 359 1416.2 357.1M1425.8 356.1Q1421 354.7 1414.6 356.7M1425.8 355.8Q1423.2 353.4 1418.3 354.8M1426.3 354.8Q1421.7 352.3 1418 346.6M1426.5 354.5Q1423.3 346.8 1416.2 339.7M1426.9 354.3Q1419.2 348.9 1420.7 338.1M1427.2 354.2Q1424.7 350.2 1425.7 343.7M1427.5 354.2Q1424.4 347.6 1427.5 339.2M1428.7 354.7Q1431.6 351 1436.1 346.2M1428.8 354.8Q1432.2 345.7 1442.8 341.8M1429 355.2Q1432.5 350.4 1439.9 349.2"/><use href="#p34a" style="stroke:#ff5d00;stroke-width:2.6"/><use href="#p34b" style="stroke:#ff5000;stroke-width:2.6"/><use href="#p34c" style="stroke:#ff4300;stroke-width:2.6"/><use href="#p34a" style="stroke:#ff1d00;stroke-width:3.4;stroke-dasharray:17.6 99"/><use href="#p34b" style="stroke:#fd0000;stroke-width:3.4;stroke-dasharray:20.4 99"/><use href="#p34c" style="stroke:#f40000;stroke-width:3.4;stroke-dasharray:23.2 99"/><use href="#p34a" style="stroke:#ff4800;stroke-width:1.1;stroke-dasharray:28.2 99"/><use href="#p34b" style="stroke:#ff7200;stroke-width:1.1;stroke-dasharray:31 99"/><use href="#p34c" style="stroke:#ff9a00;stroke-width:1.1;stroke-dasharray:33.8 99"/>
<ellipse cx="1526" cy="352.5" rx="10.1" ry="10.6" fill="#9eff00" transform="rotate(0 1526 352.5)"/><path id="p35a" d="M1527.2 352.8Q1531.8 356.3 1538.7 356M1527 353.3Q1531.3 362.1 1541.8 365.6M1526.9 353.5Q1537.5 359.4 1542.7 371.6M1525.1 353.5Q1517.8 359.3 1512 368.3M1525 351.7Q1516.5 350.7 1511.9 342.2M1525.3 351.4Q1518.8 347 1517.5 338M1525.6 351.3Q1522.9 346.6 1521.7 340.1M1526 351.2Q1521.6 340.4 1526.4 328.5M1526.3 351.2Q1526.6 343.9 1530.2 336.1M1526.6 351.3Q1530.9 343.9 1534.4 334.7M1527.3 352.3Q1535.1 355.8 1543 350.1M1526.6 353.7Q1532.6 357.8 1533.4 366.2M1525.9 353.8Q1528.7 360.5 1524.9 368.1M1525.3 353.6Q1523.3 356 1521.5 359.9M1524.7 352.4Q1521.4 353.9 1517 351.9M1524.9 351.9Q1521.4 346.3 1513.6 346.2M1526.5 351.3Q1529.4 349.8 1529.2 345.5M1527.2 353Q1531.4 352.5 1535 356.5"/><path id="p35b" d="M1527.3 352.6Q1532.5 352.4 1538.9 353.5M1526.7 353.6Q1530.9 357.6 1533.9 364M1526 353.8Q1530.4 362.3 1525.8 371.9M1525.8 353.8Q1524.5 361.9 1523.5 371.3M1524.9 353.1Q1515.8 359.1 1504.7 364.1M1524.8 352.9Q1515.5 356.4 1504.9 360M1524.7 352.6Q1517.8 355.3 1509.3 354.4M1524.7 352.3Q1518.3 349.8 1510.1 350M1524.8 352Q1517.8 348.8 1509.4 345.7M1525.1 351.5Q1518.5 344.5 1511.3 336.1M1525.7 351.2Q1526.5 343.6 1522.5 335.6M1526.7 351.4Q1534.8 345.6 1537.2 334.6M1527 351.7Q1533.4 343.9 1543.6 338.9M1527.1 351.9Q1534.3 352.3 1539.5 345.9M1527.2 352.1Q1533.3 347.1 1542.4 346.6M1526.4 353.8Q1525.1 359.8 1529.8 365.5M1524.8 352.8Q1519.2 351.7 1513.7 355.9M1525.1 351.6Q1523 349.3 1519.8 346.4M1525.4 351.3Q1522.6 348.4 1521.1 343.3M1527.1 351.8Q1529.9 352 1531.8 348.6M1527.2 352.1Q1530.6 352.1 1534.3 349.5"/><path id="p35c" d="M1527.2 353Q1538.3 353.1 1547.1 361.8M1526.4 353.7Q1530.2 358.3 1530.4 365.5M1526.1 353.8Q1525.5 358.3 1527.2 363.9M1525.6 353.7Q1522 361.8 1519.4 371.6M1525.3 353.6Q1515.4 358.8 1514.8 371M1524.9 353.2Q1518.5 361.6 1507.2 364.8M1524.8 352.1Q1520.3 350.6 1514.7 348.7M1526.9 351.6Q1530.3 341.8 1540.7 336.9M1526.9 353.4Q1528.4 360.2 1536.2 362.4M1525 353.4Q1523.4 356.4 1519.3 358.6M1525.7 351.2Q1523.5 347.6 1523.8 342.1M1526.9 351.6Q1529 349.3 1532.3 346.4"/><use href="#p35a" style="stroke:#14ff00;stroke-width:1.6"/><use href="#p35b" style="stroke:#26ff00;stroke-width:1.6"/><use href="#p35c" style="stroke:#38ff00;stroke-width:1.6"/><use href="#p35a" style="stroke:#6eff00;stroke-width:2.1;stroke-dasharray:12.9 99"/><use href="#p35b" style="stroke:#a4ff00;stroke-width:2.1;stroke-dasharray:15 99"/><use href="#p35c" style="stroke:#c3fc00;stroke-width:2.1;stroke-dasharray:17.1 99"/><use href="#p35a" style="stroke:#32ff00;stroke-width:0.8;stroke-dasharray:20.7 99"/><use href="#p35b" style="stroke:#00fd00;stroke-width:0.8;stroke-dasharray:22.7 99"/><use href="#p35c" style="stroke:#00f200;stroke-width:0.8;stroke-dasharray:24.8 99"/>
<ellipse cx="1626" cy="359" rx="20" ry="19.1" fill="#ff1d00" transform="rotate(0 1626 359)"/><path id="p36a" d="M1627.7 359.7Q1639.5 361.9 1651.2 369.2M1627.3 360.2Q1635.8 368.1 1645.4 377.4M1627 360.4Q1629 376.7 1645 384.9M1626.9 360.5Q1635.6 369 1639.2 382.4M1626.4 360.7Q1635.2 371.6 1632.5 386.9M1625.9 360.7Q1620.9 369 1625 379.5M1624.9 360.3Q1622.6 370.1 1612.2 375.3M1624.5 360Q1614.8 371.7 1598.6 376.9M1624.3 358.4Q1611.7 358.1 1599.9 350M1624.5 358Q1614.5 348.9 1601 341.5M1624.6 357.9Q1611 354.8 1604.2 340.7M1625.8 357.3Q1629.9 342.9 1621.9 328.3M1626.1 357.3Q1626.8 342.7 1627.8 326.5M1626.8 357.5Q1633.1 347.2 1639.2 334.9M1626.9 357.5Q1635.7 347.5 1640.9 333.3M1627.5 358Q1637 353.1 1646.7 345.2M1627.6 358.1Q1635.1 351.3 1646.4 347.8M1627.8 358.6Q1637.5 361.9 1646.1 353.9M1627.6 359.9Q1632.4 366.4 1642.1 368M1627.1 360.4Q1628.7 368.6 1637.4 373.5M1626 360.7Q1626 367.4 1626.2 375.8M1625.4 360.6Q1620.8 363.9 1621.3 371.1M1624.2 359.3Q1617.4 360 1608.9 361.4M1624.7 357.8Q1623.1 350.6 1614.5 348.4M1624.7 357.8Q1620.4 352.4 1613.7 346.8M1626 357.3Q1625.5 352.7 1626.3 346.5M1627.1 357.6Q1634.2 355.4 1636.3 346.8M1627.8 359.2Q1635.4 359.3 1644.7 361.1"/><path id="p36b" d="M1627.6 359.9Q1635.6 373.1 1652.7 373.5M1627.4 360.1Q1633.4 369.6 1645.6 373.9M1626.6 360.6Q1633.9 369.5 1634 382.7M1626.3 360.7Q1625.2 370.4 1630.1 380.6M1626.1 360.7Q1626.4 374.2 1628.3 389.3M1625.7 360.7Q1625.7 373.9 1621.3 388.1M1625.6 360.7Q1621.6 370.6 1619.8 382.9M1625.4 360.6Q1624.2 372.4 1617.5 384.1M1625.3 360.6Q1617.6 367.2 1617.4 378.9M1625.1 360.5Q1615.1 368 1612.2 381.9M1624.8 360.3Q1619.7 371.6 1607.3 378.6M1624.7 360.2Q1620 371.3 1607.3 376.1M1624.4 359.8Q1613.8 369.2 1598.3 372.2M1624.2 359.1Q1610.5 356.3 1595.2 360.5M1624.2 358.9Q1610.3 362 1595 357.6M1624.2 358.8Q1608.2 359.3 1590.8 355.5M1624.4 358.2Q1609.5 358.7 1599.9 345.4M1625 357.6Q1614.2 348.9 1608.7 334.5M1625.4 357.4Q1622.3 344.3 1615.3 330.9M1625.5 357.3Q1617.9 348.6 1619 335.4M1626.5 357.3Q1629.9 347.3 1632.8 335.3M1626.6 357.4Q1631.2 343.9 1637.7 329.3M1627.2 357.7Q1633.9 350.1 1642.1 341.4M1627.3 357.8Q1638.9 349.7 1648.9 337.4M1627.6 358.3Q1640 356.3 1651.3 347.8M1627.8 358.8Q1637.8 362 1648.4 356.2M1626 360.7Q1628.9 366.6 1625.6 374M1624.2 358.7Q1614.4 353.3 1601.6 355.3M1624.5 358.1Q1614.9 358 1608.6 348.7M1626.7 357.4Q1631.1 348.3 1635 337M1626.9 357.5Q1631 353.6 1633.2 346.5M1627.5 358Q1633.1 349.2 1644.7 345.7M1627.5 358.1Q1635.2 357.9 1640.3 350.2"/><path id="p36c" d="M1627.8 359Q1636.7 357.8 1647.4 359.2M1627.8 359.2Q1641.4 353.4 1654.9 362.7M1627.8 359.4Q1639.5 361.3 1652.9 364.4M1627.7 359.6Q1636.8 367.6 1650.7 367.3M1627.3 360.3Q1633.8 368.9 1643.7 376.6M1626.8 360.5Q1636.2 369.3 1639.3 383.4M1624.4 359.9Q1616.7 373.3 1599.6 373.8M1624.3 359.6Q1611.2 359.8 1599.5 369M1624.2 359.4Q1611.3 369.9 1593.2 367M1624.2 359.3Q1614 359.1 1602.7 362.8M1624.2 358.6Q1613.6 354.4 1600.5 353.3M1624.3 358.3Q1616.7 352.6 1605.5 350.7M1624.7 357.8Q1621.2 342.9 1605.1 338.3M1625 357.5Q1623.7 347.5 1614.2 340.8M1625.2 357.4Q1625.7 347.2 1616.2 340M1626 357.3Q1618.7 343.8 1625.7 328.4M1626.2 357.3Q1633.4 343.5 1630.4 326.5M1627.1 357.6Q1629.8 343.1 1644.7 336.2M1627.7 358.4Q1641.7 355.9 1655.5 347.8M1627.8 358.9Q1636.7 354.3 1647.9 357.8M1627.4 360Q1634.6 360.6 1638.9 368.3M1627 360.5Q1631.7 362.3 1632.6 368.8M1626.6 360.6Q1630.2 366.4 1631.7 374.7M1625.1 360.5Q1621.1 364.2 1618.5 370.9M1624.8 360.3Q1620.4 363.8 1616 369.8M1624.5 360Q1620.7 365.8 1612.5 368.3M1624.4 359.8Q1620.8 365.2 1612.7 365.2M1624.3 359.5Q1616.5 365.9 1604.7 365.6M1624.3 358.4Q1617.3 352.3 1606.3 352.3M1625.1 357.5Q1621.9 351.3 1617.2 344M1625.6 357.3Q1624.5 349.6 1621.9 340.5M1625.8 357.3Q1622.8 352.6 1624.8 345.6M1627.8 358.6Q1632.5 354.7 1640.1 356.2M1627.8 358.8Q1633.4 356 1641.3 357.6M1627.8 359.4Q1633.1 361.8 1640.7 362.8"/><use href="#p36a" style="stroke:#ff8900;stroke-width:2.5"/><use href="#p36b" style="stroke:#ff7b00;stroke-width:2.5"/><use href="#p36c" style="stroke:#ff6d00;stroke-width:2.5"/><use href="#p36a" style="stroke:#ff4200;stroke-width:3.2;stroke-dasharray:17.7 99"/><use href="#p36b" style="stroke:#ff1800;stroke-width:3.2;stroke-dasharray:20.6 99"/><use href="#p36c" style="stroke:#fb0000;stroke-width:3.2;stroke-dasharray:23.4 99"/><use href="#p36a" style="stroke:#ff7100;stroke-width:1.1;stroke-dasharray:28.4 99"/><use href="#p36b" style="stroke:#ffab00;stroke-width:1.1;stroke-dasharray:31.2 99"/><use href="#p36c" style="stroke:#ff9b00;stroke-width:1.1;stroke-dasharray:34.1 99"/>
<path id="p37a" d="M1715 362.8Q1720.5 362.8 1725.9 366.4M1713.7 363.1Q1714 368.8 1709.4 373.2M1713.1 362.8Q1704.2 360.9 1697.4 368.3M1713.3 362Q1705.6 361.3 1701.8 353.8M1713.9 361.8Q1712.9 357.9 1712.6 353.2M1715 362.3Q1721 357.1 1729.6 359.5M1714.2 363.2Q1713.9 364.8 1715.2 366.8M1714.4 361.9Q1715.2 359.4 1717.6 357.1M1715 362.2Q1719.8 363.6 1724.3 359.7M1715.1 362.6Q1716.6 363.6 1719.5 363.2"/><path id="p37b" d="M1714.9 362.9Q1720.4 368.3 1728.9 370.1M1714 363.2Q1712.9 367.6 1714.5 372.5M1713.5 363.1Q1708.3 365.2 1706 371.1M1712.9 362.3Q1706.8 357.3 1698.4 360M1713.3 361.9Q1709 359.9 1705.7 355.4M1714.3 361.9Q1715.2 356.9 1719.4 353.1M1714.8 362.1Q1721.6 361.8 1726.5 355.9M1715.1 362.4Q1722 362.3 1729.9 361.1M1712.9 362.4Q1710.5 360.3 1706.6 361.7M1713.4 361.9Q1712.4 360.7 1710.7 359.1"/><path id="p37c" d="M1714.7 363.1Q1717.8 365.4 1721.5 368.4M1712.9 362.6Q1707.8 361.8 1701.8 363.6M1715 362.9Q1717.5 365.2 1721.8 365.6M1713.4 363Q1711.2 363 1710 365.5"/><use href="#p37a" style="stroke:#00a9ac;stroke-width:1.1"/><use href="#p37b" style="stroke:#00aaa4;stroke-width:1.1"/><use href="#p37c" style="stroke:#00aa9c;stroke-width:1.1"/><use href="#p37a" style="stroke:#00a981;stroke-width:1.5;stroke-dasharray:8.8 99"/><use href="#p37b" style="stroke:#009e29;stroke-width:1.5;stroke-dasharray:10.2 99"/><use href="#p37c" style="stroke:#00a500;stroke-width:1.5;stroke-dasharray:11.6 99"/><use href="#p37a" style="stroke:#00a3be;stroke-width:0.6;stroke-dasharray:14.1 99"/><use href="#p37b" style="stroke:#0095dd;stroke-width:0.6;stroke-dasharray:15.5 99"/><use href="#p37c" style="stroke:#00aa9f;stroke-width:0.6;stroke-dasharray:16.9 99"/>
<path id="p38a" d="M1355.9 435.5Q1361.7 438.3 1367.9 442.4M1355.6 435.8Q1361.1 442.9 1367 451M1355.1 436.1Q1361 444.7 1357.5 455.6M1354.6 436Q1352.6 439.6 1351.1 444.5M1354.6 434Q1351.1 431.4 1350.9 426.2M1355.8 434.4Q1363.6 432.9 1368.3 425.3M1355.4 436Q1357.8 438.4 1358.2 442.7M1354.9 436.1Q1352.4 441.6 1354.2 448.5M1355.1 433.9Q1354.7 429.5 1356.1 424.2"/><path id="p38b" d="M1354.4 435.8Q1351.4 441 1346.4 445.9M1354 435.2Q1345.7 432.3 1338 438.1M1354.3 434.2Q1350 427.9 1343.6 422.1M1355.6 434.1Q1358.5 427.7 1363.6 421.4M1354.1 435.5Q1350 437.3 1345.2 440M1354 434.9Q1351 433.2 1346.7 434M1356 434.6Q1360.5 432.8 1366.2 430.9"/><path id="p38c" d="M1356 435.2Q1363.5 434 1371.1 438M1354 434.8Q1349.7 434.6 1344.8 432.7M1354.9 433.9Q1356.1 426.1 1353.8 417.5M1356 435Q1360.8 435.6 1366.6 434.9M1355.7 434.2Q1359.6 431.4 1362.3 426.3"/><use href="#p38a" style="stroke:#00a248;stroke-width:1.1"/><use href="#p38b" style="stroke:#009d24;stroke-width:1.1"/><use href="#p38c" style="stroke:#009900;stroke-width:1.1"/><use href="#p38a" style="stroke:#00b400;stroke-width:1.5;stroke-dasharray:10.5 99"/><use href="#p38b" style="stroke:#00cf00;stroke-width:1.5;stroke-dasharray:12.1 99"/><use href="#p38c" style="stroke:#00ea00;stroke-width:1.5;stroke-dasharray:13.8 99"/><use href="#p38a" style="stroke:#00a984;stroke-width:0.6;stroke-dasharray:16.7 99"/><use href="#p38b" style="stroke:#009a0c;stroke-width:0.6;stroke-dasharray:18.4 99"/><use href="#p38c" style="stroke:#00aaa5;stroke-width:0.6;stroke-dasharray:20.1 99"/>
<ellipse cx="1437.5" cy="446" rx="16" ry="17.1" fill="#ff3400" transform="rotate(0 1437.5 446)"/><path id="p39a" d="M1439.1 446.3Q1450.7 448.1 1463.8 450.3M1439 446.6Q1449 455.1 1463.6 457M1438.8 447Q1450.3 449 1455.9 460.8M1438.7 447.1Q1453.9 451.1 1461.1 466.7M1438.7 447.2Q1446.2 455.1 1455.1 464M1437.2 447.7Q1433.4 455.6 1433.9 466.1M1436.7 447.5Q1435.3 460.9 1424.7 471.6M1436.5 447.3Q1432.3 455.1 1424.6 462.2M1436.3 447.1Q1430.1 453.6 1421.8 460.2M1436.2 447Q1422 450.2 1413.2 463.7M1436 446.6Q1427.8 452.5 1416.4 454.9M1436 446.4Q1427 455.7 1413.1 452.6M1435.9 446.2Q1422.9 443 1409.8 450M1435.9 446.1Q1425.3 448.9 1412.7 447.8M1435.9 445.8Q1426.4 440.2 1414 442.5M1435.9 445.6Q1422.2 446 1408.8 438.7M1436.8 444.4Q1436.9 435.4 1429.8 427.6M1437 444.4Q1438.3 431.3 1428.8 420.1M1438.9 445.2Q1448.3 443.8 1455.2 435.3M1438.9 446.8Q1440.9 450.8 1446.7 451.3M1437 447.6Q1432 452.7 1432.3 461.4M1436.9 447.6Q1435.7 453.7 1431.6 460.5M1436.1 446.8Q1429.1 450.6 1421.1 455.9M1435.9 445.9Q1428.7 449.4 1420.4 444.7M1436.1 445.3Q1432.3 444.5 1428 441.2M1436.9 444.4Q1429.6 438.4 1430.9 427.5M1438.6 444.8Q1440.9 438.9 1447.7 435.1M1439.1 445.9Q1442.6 442.9 1447.9 445.5"/><path id="p39b" d="M1439.1 446.1Q1449.2 449.4 1461.1 446.9M1438.9 446.8Q1446.4 455 1458.9 457.2M1438.2 447.5Q1439.6 461.5 1450.7 472.6M1437.6 447.7Q1439.2 456.6 1439 467.3M1437.4 447.7Q1443.1 459.6 1436.1 472.5M1437 447.6Q1438.8 461 1430 473.1M1436.5 447.3Q1434.3 455.8 1425.9 461.7M1436.2 445Q1424.8 442.2 1417.7 431M1436.6 444.6Q1431.9 437.6 1426.1 429.4M1437.4 444.3Q1442.3 432.3 1435.3 419.5M1437.5 444.3Q1440.4 431.1 1437.7 416.1M1437.7 444.3Q1439.7 432 1440.7 417.8M1437.8 444.3Q1437.8 433.7 1442.4 422.3M1438.2 444.5Q1440.7 429.4 1450.7 415.8M1438.3 444.5Q1438.2 430.4 1450.6 420.9M1438.6 444.8Q1445.1 432 1458.6 423.6M1437.9 447.7Q1440.3 454.4 1441.6 463.1M1436.6 447.4Q1429.2 451.1 1428.3 460.8M1436.3 447.1Q1429.1 448.8 1425.4 456.8M1436.3 444.9Q1431.7 438.2 1423.7 432.7M1436.6 444.6Q1431.3 441.7 1429.9 434.3M1437.3 444.3Q1434.3 436.2 1435.6 426M1439.1 446.2Q1442.8 445.6 1447.8 447.3M1439.1 446.4Q1446.1 445.8 1453.6 450"/><path id="p39c" d="M1439 446.4Q1447.9 448.8 1458.2 451.9M1438.4 447.4Q1438.9 460 1451.4 466.3M1438.4 447.4Q1450.5 455.4 1452.7 471.4M1438 447.6Q1440.6 461.2 1447.4 475.2M1437.8 447.7Q1446.2 457.9 1442.8 472.3M1437.4 447.7Q1436.6 460.4 1436.1 474.8M1436.8 447.5Q1430.1 457.3 1426.3 470.3M1436.1 446.8Q1429.9 453.8 1419.4 456.3M1435.9 445.8Q1422.2 442.8 1406.6 442.7M1436 445.4Q1425.4 441.5 1413.5 436.3M1436.1 445.2Q1421.9 443.1 1412.1 430.6M1436.3 444.8Q1432.7 434.4 1421 429.6M1436.5 444.7Q1433 435.5 1423.7 428.8M1436.7 444.5Q1431 434.2 1424.2 422.6M1437.1 444.4Q1430.1 432.9 1430.4 417.9M1438 444.4Q1443.2 432.7 1446.7 418.6M1438.5 444.6Q1442.2 434.8 1451.2 426.6M1438.7 444.9Q1451.6 441.8 1456.7 428.1M1438.8 445Q1442.6 436.7 1453 434.4M1439 445.4Q1450.9 444.8 1461.2 436.1M1439 445.6Q1451.9 448.2 1463.2 439.1M1439.1 445.8Q1450.5 445.4 1463.1 442.5M1439.1 446Q1447.9 450 1458.2 445.7M1438.8 447Q1443.8 447.7 1447.2 453.4M1438.5 447.3Q1445.8 452.9 1450.8 462.5M1438.1 447.6Q1439.9 452.4 1442.5 458.7M1437.3 447.7Q1440.5 456.4 1435.2 465.8M1435.9 446.3Q1430.8 444.3 1425.1 448.1M1435.9 445.8Q1428.2 441 1417.8 443.4M1436.1 445.1Q1431.6 437.3 1421.2 435.6M1437.6 444.3Q1440.9 439.1 1438.4 431.8M1438.1 444.4Q1438.9 438 1443.1 430.9M1438.4 444.6Q1442.4 438.6 1447.4 431.2M1438.8 445Q1443.1 437.4 1452.9 434.7M1439 445.4Q1444.6 442.8 1452 440.2"/><use href="#p39a" style="stroke:#ffaa00;stroke-width:2.5"/><use href="#p39b" style="stroke:#ffa300;stroke-width:2.5"/><use href="#p39c" style="stroke:#ff9d00;stroke-width:2.5"/><use href="#p39a" style="stroke:#ff6900;stroke-width:3.2;stroke-dasharray:16.5 99"/><use href="#p39b" style="stroke:#ff2e00;stroke-width:3.2;stroke-dasharray:19.1 99"/><use href="#p39c" style="stroke:#fc0000;stroke-width:3.2;stroke-dasharray:21.8 99"/><use href="#p39a" style="stroke:#ffca00;stroke-width:1.1;stroke-dasharray:26.4 99"/><use href="#p39b" style="stroke:#ff9f00;stroke-width:1.1;stroke-dasharray:29 99"/><use href="#p39c" style="stroke:#ffb500;stroke-width:1.1;stroke-dasharray:31.7 99"/>
<ellipse cx="1537.5" cy="444" rx="8.8" ry="9.9" fill="#a1ff00" transform="rotate(0 1537.5 444)"/><path id="p40a" d="M1538 445.1Q1541.4 449.1 1543 455.4M1536.9 445Q1533.3 446.9 1532.6 452M1536.4 443.8Q1531.1 440.1 1523.7 441.6M1536.5 443.5Q1527.5 441.8 1519.4 435.4M1536.9 443Q1535.1 439.3 1532.2 434.9M1537.3 442.8Q1538.2 433.8 1534.5 424.2M1538.5 443.4Q1546.8 443.8 1551.7 435.9M1538.6 443.8Q1547.2 444.9 1555.6 439.8M1536.5 443.5Q1533.9 440.2 1528.8 439.1M1537.2 442.8Q1536.4 439.3 1535.3 434.7M1537.7 442.8Q1538.5 437.7 1539.1 431.3M1538.3 443.1Q1542.6 441 1545.1 435.5M1538.6 443.7Q1540 444.1 1542.1 442.6"/><path id="p40b" d="M1538.6 444Q1545.4 448.4 1553.6 444.6M1538.5 444.5Q1546.1 447.7 1553.9 452.9M1538.3 444.8Q1545.3 450.2 1551.8 457.7M1538.1 445.1Q1546 451.7 1547.7 463.1M1537.5 445.2Q1536 451.8 1537.8 459.5M1536.7 444.8Q1534.6 448.6 1530 451.4M1536.5 443.5Q1531.5 441.7 1526.2 437.8M1536.6 443.3Q1530.4 437.3 1522.6 431.3M1537.1 442.9Q1531.1 436.3 1530.6 426.4M1537.4 442.8Q1531.9 434.5 1536.2 424.4M1537.8 442.8Q1539.5 436.4 1541.9 428.9M1538.5 443.5Q1543.8 438.3 1552.3 437.4M1536.4 443.9Q1531.2 439.6 1524.2 442.6"/><path id="p40c" d="M1538.5 444.4Q1541.9 447.9 1547.9 447.8M1537.7 445.2Q1536.8 453.7 1540.5 462.8M1537.3 445.2Q1539.3 454.9 1534.4 464.9M1537 445.1Q1536.1 451.2 1531.3 456.9M1536.5 444.6Q1529 447.8 1521.7 453.6M1536.5 444.5Q1526.9 445.9 1518.8 453M1536.4 444.2Q1531.2 448.7 1523.6 446.8M1537.8 442.8Q1539.4 437.1 1540.7 430.2M1538.2 443Q1542.4 440.6 1543.9 434.9M1538.3 443.1Q1544.9 438.3 1550.1 430.5M1538.3 444.9Q1543.4 446.8 1545.7 452.9M1538.2 445Q1540.4 447.7 1542.8 451.7M1537.6 445.2Q1540.3 449.5 1538.3 455.3M1537.3 445.2Q1538.9 450 1535.8 455.4M1536.8 444.9Q1532.8 445.9 1531.8 451M1536.5 444.5Q1534 447 1529.5 447.9M1536.9 443Q1533.9 440.1 1532.4 434.9M1537.9 442.8Q1538.5 438.4 1541.1 433.4M1538.5 444.5Q1542.1 444.7 1545.6 447.8"/><use href="#p40a" style="stroke:#20ff00;stroke-width:1.6"/><use href="#p40b" style="stroke:#31ff00;stroke-width:1.6"/><use href="#p40c" style="stroke:#41ff00;stroke-width:1.6"/><use href="#p40a" style="stroke:#74ff00;stroke-width:2.1;stroke-dasharray:11.7 99"/><use href="#p40b" style="stroke:#a6ff00;stroke-width:2.1;stroke-dasharray:13.6 99"/><use href="#p40c" style="stroke:#c3fc00;stroke-width:2.1;stroke-dasharray:15.4 99"/><use href="#p40a" style="stroke:#04ff00;stroke-width:0.8;stroke-dasharray:18.7 99"/><use href="#p40b" style="stroke:#3cff00;stroke-width:0.8;stroke-dasharray:20.6 99"/><use href="#p40c" style="stroke:#00f500;stroke-width:0.8;stroke-dasharray:22.4 99"/>
<path id="p41a" d="M1617.8 435.7Q1618.7 438.4 1620.2 441.7M1616.8 435Q1613.1 433.3 1608.7 434.7M1618.1 434.7Q1624.8 434.8 1628.7 428.7M1617.2 434.4Q1616.3 432.2 1614.7 429.6"/><path id="p41b" d="M1618.1 435.3Q1622.3 434.9 1625.7 438.4M1617.2 435.7Q1615.9 438.7 1614.6 442.6M1616.9 435.4Q1615.5 438.9 1611.1 439.5M1616.9 435.3Q1613.5 436.7 1609.5 438.7M1617.2 434.4Q1615.2 430.4 1612.8 425.9M1616.9 435.2Q1616.1 436.5 1614.1 436.2M1617.6 434.3Q1618.9 430.8 1618.6 426.3"/><path id="p41c" d="M1617.9 435.6Q1619.3 440.7 1624.1 444.4M1617.4 434.3Q1616.2 429.3 1616.5 423.4M1617.7 434.3Q1617.7 430.6 1620.3 427.1M1617.9 434.4Q1619.1 431.2 1621.9 428.2M1617.6 435.7Q1616.5 439.7 1618.9 443.8M1617.3 435.7Q1615.6 437.7 1615.6 441M1618.1 435.3Q1621.4 435.4 1624.4 437.8"/><use href="#p41a" style="stroke:#00a2c1;stroke-width:1.1"/><use href="#p41b" style="stroke:#00a5b8;stroke-width:1.1"/><use href="#p41c" style="stroke:#00a8af;stroke-width:1.1"/><use href="#p41a" style="stroke:#00aa9b;stroke-width:1.5;stroke-dasharray:7 99"/><use href="#p41b" style="stroke:#00aa89;stroke-width:1.5;stroke-dasharray:8.1 99"/><use href="#p41c" style="stroke:#00a141;stroke-width:1.5;stroke-dasharray:9.3 99"/><use href="#p41a" style="stroke:#00a7b2;stroke-width:0.6;stroke-dasharray:11.2 99"/><use href="#p41b" style="stroke:#008ddd;stroke-width:0.6;stroke-dasharray:12.3 99"/><use href="#p41c" style="stroke:#009dd1;stroke-width:0.6;stroke-dasharray:13.5 99"/>
<ellipse cx="1716" cy="437.5" rx="6.9" ry="5.9" fill="#00ed00" transform="rotate(0 1716 437.5)"/><path id="p42a" d="M1714.8 438.1Q1705.1 438.9 1697.8 447.1M1714.7 438Q1703.8 439.4 1693.3 445.9M1714.6 437.4Q1708.9 434 1701.4 436.5M1714.7 437.2Q1708 437.1 1700.5 434.4M1714.8 436.9Q1710.9 429.7 1701.6 429.6M1715.1 436.6Q1706.3 431.8 1700.9 422M1715.4 436.4Q1711.7 427.6 1705.8 418.6M1716.4 436.4Q1716.3 426.5 1723.2 417.8M1716.5 436.4Q1724.2 430.7 1723.7 420M1716.8 436.5Q1720.5 433.2 1723.8 427.9M1716.9 436.6Q1724.5 431.5 1730.3 422.8M1717.3 437.2Q1727.5 436.5 1738.5 433.2M1715.3 438.5Q1714.5 445.5 1707.9 450.3M1714.7 437.7Q1709.5 441.5 1702.1 439.9M1714.7 437Q1712.6 434.3 1707.9 434.5M1715.6 436.4Q1714 433 1712.8 428.3M1716.4 436.4Q1719.2 433.4 1719.6 428.3M1717.1 436.8Q1721.3 435.3 1725.4 431.1M1717.3 438Q1722.9 439.2 1729.4 442.3"/><path id="p42b" d="M1717.4 437.7Q1726.4 439.4 1737 440.2M1717.2 438Q1727.8 436.3 1735.3 445.5M1717.2 438.1Q1727.8 441.6 1738.4 448.1M1716.7 438.5Q1716.9 446.1 1724.3 450.7M1716.6 438.6Q1721.2 445.6 1724.8 454.5M1716.3 438.7Q1721.2 444.8 1719.9 453.7M1716.1 438.7Q1713.7 443.3 1716.7 448.8M1715.7 438.7Q1716.5 446.9 1711.9 455M1715.1 438.4Q1710.4 446 1702.2 452.1M1714.9 438.2Q1710.8 444 1702.8 446.6M1714.7 437.8Q1702.5 434.3 1691.5 442.7M1714.6 437.6Q1709.3 436.5 1702.8 438.3M1714.7 437.1Q1709.3 432.9 1701.1 433M1715.3 436.5Q1708.4 431.7 1706.2 422.4M1715.6 436.4Q1715.2 430.3 1711.3 424.3M1717.1 436.7Q1726.4 436 1731.2 426.6M1717.4 437.3Q1726.3 433.8 1737.2 435.1M1717.2 438Q1721.9 438.3 1726.7 441.8M1716.8 438.4Q1721.2 442.5 1725.6 448.1M1716.4 438.6Q1719 440.3 1718.7 444.4M1714.6 437.3Q1712.3 434.9 1708.1 436.4M1717.3 437Q1722.1 437.4 1726.6 433.3M1717.4 437.5Q1722.3 437.3 1728.6 437.6"/><path id="p42c" d="M1717.3 437.8Q1727.6 445.8 1741.6 443M1717.1 438.2Q1727.7 440.2 1734.5 450.1M1716.9 438.4Q1720.3 449.7 1732.7 453.5M1715.8 438.7Q1716.2 447.6 1713.4 457.3M1715.4 438.6Q1712 441.7 1710.4 447.2M1715.4 438.5Q1712 447.7 1704.7 455.8M1714.9 436.8Q1704.2 435.2 1697.8 424.9M1715.8 436.3Q1714.4 430.6 1713.5 423.6M1716.1 436.3Q1717.3 430.3 1716.7 423.1M1717.2 436.9Q1722.1 432.6 1729.5 430M1717.3 437.1Q1728.1 436.2 1739.1 430.8M1716.2 438.7Q1719.2 441.7 1717.4 446.7M1715.8 438.7Q1717 441.6 1714.5 444.9M1715 438.3Q1712 440.3 1708.2 443.4M1714.7 437.9Q1711.2 438.8 1706.7 440.7M1715.1 436.6Q1711.1 435 1708.3 430.1M1716 436.3Q1718.1 431.7 1716.4 425.8M1716.7 436.5Q1719.9 434.7 1720.8 429.9"/><use href="#p42a" style="stroke:#00a500;stroke-width:1.3"/><use href="#p42b" style="stroke:#00ae00;stroke-width:1.3"/><use href="#p42c" style="stroke:#00b800;stroke-width:1.3"/><use href="#p42a" style="stroke:#00d400;stroke-width:1.7;stroke-dasharray:12.8 99"/><use href="#p42b" style="stroke:#00f000;stroke-width:1.7;stroke-dasharray:14.8 99"/><use href="#p42c" style="stroke:#48ff00;stroke-width:1.7;stroke-dasharray:16.9 99"/><use href="#p42a" style="stroke:#00aa89;stroke-width:0.7;stroke-dasharray:20.5 99"/><use href="#p42b" style="stroke:#00b400;stroke-width:0.7;stroke-dasharray:22.5 99"/><use href="#p42c" style="stroke:#009b0f;stroke-width:0.7;stroke-dasharray:24.6 99"/>
</g>
</g>
<text class="lg" x="6.6" y="29.6" font-size="24.2" textLength="57.6" lengthAdjust="spacingAndGlyphs">Day 0</text>
<circle cx="147.6" cy="22" r="11.3" fill="#2a7fc5"/><text class="lg" x="163.6" y="30.6" font-size="24.2" textLength="169.5" lengthAdjust="spacingAndGlyphs">P1-Well-watered</text>
<circle cx="352.6" cy="22" r="11.3" fill="#ecc92f"/><text class="lg" x="369.6" y="30.6" font-size="24.2" textLength="169.5" lengthAdjust="spacingAndGlyphs">P2-Well-watered</text>
<circle cx="562.8" cy="22" r="10.2" fill="#fff" stroke="#2a7fc5" stroke-width="1.9"/><text class="lg" x="582.4" y="30.6" font-size="24.2" textLength="121" lengthAdjust="spacingAndGlyphs">P1-Drought</text>
<circle cx="726.4" cy="22" r="10.2" fill="#fff" stroke="#ecc92f" stroke-width="1.9"/><text class="lg" x="741.2" y="30.6" font-size="24.2" textLength="121" lengthAdjust="spacingAndGlyphs">P2-Drought</text>
<text class="lg" x="1028.4" y="22.6" font-size="24.6" textLength="68" lengthAdjust="spacingAndGlyphs">Day 21</text>
<circle cx="1178" cy="14.6" r="11.3" fill="#2a7fc5"/><text class="lg" x="1194.6" y="23.4" font-size="24.6" textLength="172" lengthAdjust="spacingAndGlyphs">P1-Well-watered</text>
<circle cx="1387.6" cy="14.6" r="11.3" fill="#ecc92f"/><text class="lg" x="1404.8" y="23.4" font-size="24.6" textLength="172" lengthAdjust="spacingAndGlyphs">P2-Well-watered</text>
<circle cx="1601.6" cy="14.6" r="10.2" fill="#fff" stroke="#2a7fc5" stroke-width="1.9"/><text class="lg" x="1621.2" y="23.4" font-size="24.6" textLength="122" lengthAdjust="spacingAndGlyphs">P1-Drought</text>
<circle cx="1767.2" cy="14.6" r="10.2" fill="#fff" stroke="#ecc92f" stroke-width="1.9"/><text class="lg" x="1782.6" y="23.4" font-size="24.6" textLength="122" lengthAdjust="spacingAndGlyphs">P2-Drought</text>
<text class="fv" x="858.2" y="611.0" font-size="24.8" textLength="71.6" lengthAdjust="spacingAndGlyphs">Fv/Fm</text>
<text class="fv" x="1902.2" y="610.8" font-size="25" textLength="72.4" lengthAdjust="spacingAndGlyphs">Fv/Fm</text>
<g>
<g transform="translate(713.4 192.2) rotate(19.67)"><line x1="0" y1="0" x2="396" y2="0" stroke="#008a55" stroke-opacity=".31" stroke-width="4.6"/><text class="wm" y="-23.5" font-size="96" x="-2 55.5 108 166 223.5 284 335.5">EcoTech</text><text class="rg" x="378" y="-75.6" font-size="29">®</text><text class="zh" y="63" font-size="47" x="0.9 58.5 116.1 173.6 231.2 288.8 346.4">易科泰生态技术</text></g>
<g transform="translate(-143.6 406.2) rotate(19.67)"><line x1="0" y1="0" x2="396" y2="0" stroke="#008a55" stroke-opacity=".31" stroke-width="4.6"/><text class="wm" y="-23.5" font-size="96" x="-2 55.5 108 166 223.5 284 335.5">EcoTech</text><text class="rg" x="378" y="-75.6" font-size="29">®</text><text class="zh" y="63" font-size="47" x="0.9 58.5 116.1 173.6 231.2 288.8 346.4">易科泰生态技术</text></g>
<g transform="translate(1570.4 -18.8) rotate(19.67)"><line x1="0" y1="0" x2="396" y2="0" stroke="#008a55" stroke-opacity=".31" stroke-width="4.6"/><text class="wm" y="-23.5" font-size="96" x="-2 55.5 108 166 223.5 284 335.5">EcoTech</text><text class="rg" x="378" y="-75.6" font-size="29">®</text><text class="zh" y="63" font-size="47" x="0.9 58.5 116.1 173.6 231.2 288.8 346.4">易科泰生态技术</text></g>
<g transform="translate(1402 443.6) rotate(19.67)"><line x1="0" y1="0" x2="396" y2="0" stroke="#008a55" stroke-opacity=".31" stroke-width="4.6"/><text class="wm" y="-23.5" font-size="96" x="-2 55.5 108 166 223.5 284 335.5">EcoTech</text><text class="rg" x="378" y="-75.6" font-size="29">®</text><text class="zh" y="63" font-size="47" x="0.9 58.5 116.1 173.6 231.2 288.8 346.4">易科泰生态技术</text></g>
<g transform="translate(543.4 655.2) rotate(19.67)"><line x1="0" y1="0" x2="396" y2="0" stroke="#008a55" stroke-opacity=".31" stroke-width="4.6"/><text class="wm" y="-23.5" font-size="96" x="-2 55.5 108 166 223.5 284 335.5">EcoTech</text><text class="rg" x="378" y="-75.6" font-size="29">®</text><text class="zh" y="63" font-size="47" x="0.9 58.5 116.1 173.6 231.2 288.8 346.4">易科泰生态技术</text></g>
</g>
</svg>
</body></html>
